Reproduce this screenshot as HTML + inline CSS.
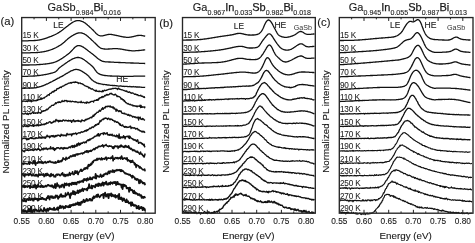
<!DOCTYPE html>
<html><head><meta charset="utf-8"><style>
html,body{margin:0;padding:0;background:#fff;width:475px;height:243px;overflow:hidden}
svg{display:block;font-family:"Liberation Sans", sans-serif;will-change:transform}
</style></head><body>
<svg width="475" height="243" viewBox="0 0 475 243"><rect width="475" height="243" fill="#fff"/><path d="M34.05,17.55v1.8M34.05,213.2v-1.8M46.40,17.55v3.4M46.40,213.2v-3.4M58.75,17.55v1.8M58.75,213.2v-1.8M71.10,17.55v3.4M71.10,213.2v-3.4M83.45,17.55v1.8M83.45,213.2v-1.8M95.80,17.55v3.4M95.80,213.2v-3.4M108.15,17.55v1.8M108.15,213.2v-1.8M120.50,17.55v3.4M120.50,213.2v-3.4M132.85,17.55v1.8M132.85,213.2v-1.8M145.20,17.55v3.4M145.20,213.2v-3.4" stroke="#222" stroke-width="1" fill="none"/><path d="M21.7,40.9L22.2,40.9L22.7,40.9L23.2,40.9L23.7,40.8L24.2,40.8L24.7,40.8L25.2,40.8L25.7,40.8L26.2,40.8L26.7,40.8L27.2,40.8L27.7,40.8L28.2,40.8L28.7,40.7L29.2,40.7L29.7,40.7L30.2,40.7L30.7,40.7L31.2,40.7L31.7,40.6L32.2,40.6L32.7,40.6L33.2,40.6L33.7,40.6L34.2,40.5L34.7,40.5L35.2,40.5L35.7,40.4L36.2,40.4L36.7,40.3L37.2,40.3L37.7,40.2L38.2,40.1L38.7,40.1L39.2,40.0L39.7,39.9L40.2,39.8L40.7,39.7L41.2,39.6L41.7,39.5L42.2,39.3L42.7,39.2L43.2,39.1L43.7,38.9L44.2,38.8L44.7,38.6L45.2,38.5L45.7,38.3L46.2,38.1L46.7,38.0L47.2,37.8L47.7,37.6L48.2,37.4L48.7,37.2L49.2,37.0L49.7,36.9L50.2,36.7L50.7,36.5L51.2,36.3L51.7,36.1L52.2,35.9L52.7,35.7L53.2,35.5L53.7,35.2L54.2,35.0L54.7,34.8L55.2,34.5L55.7,34.3L56.2,34.0L56.7,33.8L57.2,33.5L57.7,33.2L58.2,32.9L58.7,32.6L59.2,32.3L59.7,31.9L60.2,31.6L60.7,31.3L61.2,30.9L61.7,30.5L62.2,30.2L62.7,29.8L63.2,29.4L63.7,29.0L64.2,28.6L64.7,28.2L65.2,27.8L65.7,27.4L66.2,27.0L66.7,26.6L67.2,26.3L67.7,25.9L68.2,25.5L68.7,25.1L69.2,24.7L69.7,24.4L70.2,24.0L70.7,23.6L71.2,23.3L71.7,22.9L72.2,22.6L72.7,22.3L73.2,22.0L73.7,21.8L74.2,21.5L74.7,21.3L75.2,21.1L75.7,20.9L76.2,20.8L76.7,20.7L77.2,20.6L77.7,20.6L78.2,20.6L78.7,20.6L79.2,20.7L79.7,20.7L80.2,20.8L80.7,21.0L81.2,21.1L81.7,21.3L82.2,21.5L82.7,21.7L83.2,21.9L83.7,22.2L84.2,22.5L84.7,22.8L85.2,23.1L85.7,23.5L86.2,23.9L86.7,24.3L87.2,24.7L87.7,25.2L88.2,25.6L88.7,26.1L89.2,26.5L89.7,27.0L90.2,27.4L90.7,27.9L91.2,28.4L91.7,28.9L92.2,29.3L92.7,29.8L93.2,30.3L93.7,30.8L94.2,31.4L94.7,31.9L95.2,32.4L95.7,33.0L96.2,33.5L96.7,33.9L97.2,34.3L97.7,34.7L98.2,35.0L98.7,35.3L99.2,35.5L99.7,35.7L100.2,35.8L100.7,35.9L101.2,35.9L101.7,35.9L102.2,35.8L102.7,35.8L103.2,35.7L103.7,35.6L104.2,35.4L104.7,35.3L105.2,35.2L105.7,35.1L106.2,34.9L106.7,34.8L107.2,34.7L107.7,34.6L108.2,34.5L108.7,34.4L109.2,34.4L109.7,34.4L110.2,34.4L110.7,34.4L111.2,34.4L111.7,34.5L112.2,34.6L112.7,34.7L113.2,34.8L113.7,34.9L114.2,35.0L114.7,35.1L115.2,35.2L115.7,35.3L116.2,35.4L116.7,35.5L117.2,35.6L117.7,35.7L118.2,35.8L118.7,35.9L119.2,36.1L119.7,36.2L120.2,36.3L120.7,36.4L121.2,36.5L121.7,36.6L122.2,36.7L122.7,36.8L123.2,36.9L123.7,37.0L124.2,37.0L124.7,37.1L125.2,37.2L125.7,37.2L126.2,37.3L126.7,37.3L127.2,37.3L127.7,37.4L128.2,37.3L128.7,37.3L129.2,37.3L129.7,37.2L130.2,37.2L130.7,37.1L131.2,37.0L131.7,36.9L132.2,36.8L132.7,36.7L133.2,36.6L133.7,36.5L134.2,36.3L134.7,36.2L135.2,36.1L135.7,36.0L136.2,35.8L136.7,35.7L137.2,35.6L137.7,35.5L138.2,35.5L138.7,35.4L139.2,35.4L139.7,35.4L140.2,35.4L140.7,35.4L141.2,35.4L141.7,35.5L142.2,35.6L142.7,35.7L143.2,35.8L143.7,35.9L144.2,36.0L144.7,36.1L145.2,36.2" stroke="#111" stroke-width="1.3" fill="none" stroke-linejoin="round"/><path d="M21.7,52.8L22.2,52.8L22.7,52.8L23.2,52.8L23.7,52.8L24.2,52.8L24.7,52.8L25.2,52.8L25.7,52.8L26.2,52.8L26.7,52.8L27.2,52.8L27.7,52.8L28.2,52.8L28.7,52.8L29.2,52.8L29.7,52.8L30.2,52.8L30.7,52.7L31.2,52.7L31.7,52.7L32.2,52.7L32.7,52.7L33.2,52.7L33.7,52.7L34.2,52.7L34.7,52.6L35.2,52.6L35.7,52.6L36.2,52.6L36.7,52.5L37.2,52.5L37.7,52.5L38.2,52.4L38.7,52.4L39.2,52.3L39.7,52.3L40.2,52.2L40.7,52.1L41.2,52.1L41.7,52.0L42.2,51.9L42.7,51.8L43.2,51.8L43.7,51.7L44.2,51.6L44.7,51.5L45.2,51.4L45.7,51.3L46.2,51.2L46.7,51.0L47.2,50.9L47.7,50.8L48.2,50.6L48.7,50.5L49.2,50.3L49.7,50.2L50.2,50.0L50.7,49.8L51.2,49.7L51.7,49.5L52.2,49.3L52.7,49.1L53.2,48.9L53.7,48.7L54.2,48.5L54.7,48.2L55.2,48.0L55.7,47.8L56.2,47.5L56.7,47.2L57.2,47.0L57.7,46.7L58.2,46.4L58.7,46.1L59.2,45.8L59.7,45.5L60.2,45.2L60.7,44.9L61.2,44.6L61.7,44.2L62.2,43.8L62.7,43.4L63.2,43.0L63.7,42.6L64.2,42.2L64.7,41.7L65.2,41.2L65.7,40.8L66.2,40.3L66.7,39.9L67.2,39.4L67.7,39.0L68.2,38.6L68.7,38.2L69.2,37.8L69.7,37.4L70.2,37.1L70.7,36.7L71.2,36.4L71.7,36.1L72.2,35.8L72.7,35.5L73.2,35.2L73.7,34.9L74.2,34.6L74.7,34.4L75.2,34.1L75.7,33.9L76.2,33.6L76.7,33.4L77.2,33.3L77.7,33.1L78.2,33.0L78.7,32.9L79.2,32.8L79.7,32.8L80.2,32.8L80.7,32.8L81.2,32.9L81.7,33.0L82.2,33.1L82.7,33.3L83.2,33.5L83.7,33.7L84.2,33.9L84.7,34.2L85.2,34.5L85.7,34.8L86.2,35.1L86.7,35.5L87.2,35.9L87.7,36.3L88.2,36.7L88.7,37.2L89.2,37.6L89.7,38.1L90.2,38.6L90.7,39.0L91.2,39.5L91.7,40.0L92.2,40.4L92.7,40.9L93.2,41.4L93.7,41.9L94.2,42.4L94.7,42.8L95.2,43.3L95.7,43.8L96.2,44.3L96.7,44.8L97.2,45.3L97.7,45.8L98.2,46.3L98.7,46.7L99.2,47.1L99.7,47.5L100.2,47.8L100.7,48.1L101.2,48.3L101.7,48.5L102.2,48.6L102.7,48.7L103.2,48.8L103.7,48.9L104.2,49.0L104.7,49.0L105.2,49.1L105.7,49.1L106.2,49.1L106.7,49.1L107.2,49.1L107.7,49.1L108.2,49.0L108.7,49.0L109.2,49.0L109.7,48.9L110.2,48.9L110.7,48.9L111.2,48.8L111.7,48.8L112.2,48.8L112.7,48.7L113.2,48.7L113.7,48.7L114.2,48.7L114.7,48.7L115.2,48.7L115.7,48.7L116.2,48.7L116.7,48.7L117.2,48.7L117.7,48.7L118.2,48.8L118.7,48.8L119.2,48.9L119.7,48.9L120.2,49.0L120.7,49.1L121.2,49.2L121.7,49.2L122.2,49.3L122.7,49.4L123.2,49.5L123.7,49.6L124.2,49.7L124.7,49.8L125.2,49.9L125.7,50.0L126.2,50.1L126.7,50.1L127.2,50.2L127.7,50.3L128.2,50.4L128.7,50.5L129.2,50.5L129.7,50.6L130.2,50.6L130.7,50.7L131.2,50.7L131.7,50.8L132.2,50.8L132.7,50.8L133.2,50.8L133.7,50.8L134.2,50.8L134.7,50.8L135.2,50.8L135.7,50.7L136.2,50.7L136.7,50.7L137.2,50.6L137.7,50.6L138.2,50.6L138.7,50.5L139.2,50.5L139.7,50.4L140.2,50.4L140.7,50.3L141.2,50.3L141.7,50.2L142.2,50.1L142.7,50.1L143.2,50.0L143.7,50.0L144.2,49.9L144.7,49.9L145.2,49.9" stroke="#111" stroke-width="1.3" fill="none" stroke-linejoin="round"/><path d="M21.7,65.0L22.2,65.0L22.7,65.0L23.2,65.0L23.7,65.0L24.2,65.0L24.7,65.0L25.2,65.0L25.7,65.0L26.2,65.0L26.7,65.0L27.2,65.0L27.7,65.0L28.2,65.0L28.7,65.0L29.2,65.0L29.7,64.9L30.2,64.9L30.7,64.9L31.2,64.9L31.7,64.9L32.2,64.9L32.7,64.9L33.2,64.9L33.7,64.9L34.2,64.8L34.7,64.8L35.2,64.8L35.7,64.8L36.2,64.8L36.7,64.7L37.2,64.7L37.7,64.7L38.2,64.6L38.7,64.6L39.2,64.5L39.7,64.5L40.2,64.5L40.7,64.4L41.2,64.4L41.7,64.3L42.2,64.3L42.7,64.3L43.2,64.2L43.7,64.2L44.2,64.1L44.7,64.1L45.2,64.0L45.7,64.0L46.2,63.9L46.7,63.9L47.2,63.8L47.7,63.7L48.2,63.7L48.7,63.6L49.2,63.5L49.7,63.4L50.2,63.3L50.7,63.2L51.2,63.1L51.7,63.0L52.2,62.9L52.7,62.8L53.2,62.6L53.7,62.5L54.2,62.3L54.7,62.2L55.2,62.0L55.7,61.8L56.2,61.6L56.7,61.4L57.2,61.1L57.7,60.9L58.2,60.6L58.7,60.4L59.2,60.1L59.7,59.8L60.2,59.5L60.7,59.2L61.2,58.9L61.7,58.6L62.2,58.3L62.7,57.9L63.2,57.6L63.7,57.2L64.2,56.9L64.7,56.5L65.2,56.2L65.7,55.8L66.2,55.5L66.7,55.1L67.2,54.7L67.7,54.4L68.2,54.0L68.7,53.6L69.2,53.2L69.7,52.7L70.2,52.3L70.7,51.8L71.2,51.3L71.7,50.7L72.2,50.2L72.7,49.6L73.2,49.1L73.7,48.5L74.2,48.0L74.7,47.5L75.2,47.1L75.7,46.7L76.2,46.4L76.7,46.1L77.2,45.9L77.7,45.7L78.2,45.6L78.7,45.6L79.2,45.6L79.7,45.6L80.2,45.8L80.7,45.9L81.2,46.1L81.7,46.3L82.2,46.6L82.7,46.8L83.2,47.1L83.7,47.4L84.2,47.8L84.7,48.1L85.2,48.5L85.7,48.9L86.2,49.2L86.7,49.6L87.2,50.0L87.7,50.4L88.2,50.8L88.7,51.2L89.2,51.5L89.7,51.9L90.2,52.3L90.7,52.7L91.2,53.0L91.7,53.4L92.2,53.8L92.7,54.2L93.2,54.6L93.7,55.0L94.2,55.4L94.7,55.8L95.2,56.3L95.7,56.7L96.2,57.1L96.7,57.5L97.2,58.0L97.7,58.4L98.2,58.8L98.7,59.1L99.2,59.5L99.7,59.8L100.2,60.1L100.7,60.4L101.2,60.6L101.7,60.9L102.2,61.1L102.7,61.3L103.2,61.4L103.7,61.5L104.2,61.7L104.7,61.7L105.2,61.8L105.7,61.8L106.2,61.9L106.7,61.9L107.2,61.9L107.7,61.9L108.2,61.9L108.7,62.0L109.2,62.0L109.7,62.0L110.2,62.0L110.7,62.1L111.2,62.1L111.7,62.1L112.2,62.1L112.7,62.2L113.2,62.2L113.7,62.2L114.2,62.3L114.7,62.3L115.2,62.3L115.7,62.3L116.2,62.4L116.7,62.4L117.2,62.4L117.7,62.4L118.2,62.4L118.7,62.5L119.2,62.5L119.7,62.5L120.2,62.5L120.7,62.6L121.2,62.6L121.7,62.6L122.2,62.6L122.7,62.6L123.2,62.7L123.7,62.7L124.2,62.7L124.7,62.7L125.2,62.7L125.7,62.8L126.2,62.8L126.7,62.8L127.2,62.8L127.7,62.8L128.2,62.9L128.7,62.9L129.2,62.9L129.7,62.9L130.2,62.9L130.7,63.0L131.2,63.0L131.7,63.0L132.2,63.0L132.7,63.0L133.2,63.0L133.7,63.1L134.2,63.1L134.7,63.1L135.2,63.1L135.7,63.1L136.2,63.2L136.7,63.2L137.2,63.2L137.7,63.2L138.2,63.2L138.7,63.2L139.2,63.3L139.7,63.3L140.2,63.3L140.7,63.3L141.2,63.3L141.7,63.4L142.2,63.4L142.7,63.4L143.2,63.4L143.7,63.4L144.2,63.4L144.7,63.5L145.2,63.5" stroke="#111" stroke-width="1.3" fill="none" stroke-linejoin="round"/><path d="M21.7,76.4L22.2,76.4L22.7,76.4L23.2,76.4L23.7,76.3L24.2,76.3L24.7,76.3L25.2,76.3L25.7,76.3L26.2,76.3L26.7,76.3L27.2,76.3L27.7,76.3L28.2,76.2L28.7,76.2L29.2,76.2L29.7,76.2L30.2,76.2L30.7,76.2L31.2,76.1L31.7,76.1L32.2,76.1L32.7,76.1L33.2,76.0L33.7,76.0L34.2,76.0L34.7,76.0L35.2,75.9L35.7,75.9L36.2,75.8L36.7,75.8L37.2,75.7L37.7,75.7L38.2,75.6L38.7,75.6L39.2,75.5L39.7,75.4L40.2,75.4L40.7,75.3L41.2,75.2L41.7,75.1L42.2,75.1L42.7,75.0L43.2,74.9L43.7,74.8L44.2,74.7L44.7,74.6L45.2,74.6L45.7,74.5L46.2,74.4L46.7,74.3L47.2,74.2L47.7,74.1L48.2,74.0L48.7,73.8L49.2,73.7L49.7,73.6L50.2,73.5L50.7,73.4L51.2,73.2L51.7,73.1L52.2,73.0L52.7,72.8L53.2,72.7L53.7,72.5L54.2,72.3L54.7,72.1L55.2,71.9L55.7,71.6L56.2,71.2L56.7,70.8L57.2,70.2L57.7,69.7L58.2,69.1L58.7,68.5L59.2,68.1L59.7,67.6L60.2,67.2L60.7,66.8L61.2,66.5L61.7,66.1L62.2,65.7L62.7,65.4L63.2,65.0L63.7,64.7L64.2,64.3L64.7,63.9L65.2,63.6L65.7,63.2L66.2,62.9L66.7,62.5L67.2,62.2L67.7,61.8L68.2,61.5L68.7,61.2L69.2,60.9L69.7,60.6L70.2,60.3L70.7,60.0L71.2,59.7L71.7,59.4L72.2,59.2L72.7,58.9L73.2,58.7L73.7,58.5L74.2,58.3L74.7,58.1L75.2,57.9L75.7,57.8L76.2,57.7L76.7,57.6L77.2,57.5L77.7,57.5L78.2,57.5L78.7,57.5L79.2,57.6L79.7,57.7L80.2,57.8L80.7,58.0L81.2,58.2L81.7,58.4L82.2,58.6L82.7,58.9L83.2,59.2L83.7,59.5L84.2,59.8L84.7,60.2L85.2,60.5L85.7,60.9L86.2,61.3L86.7,61.7L87.2,62.1L87.7,62.5L88.2,62.9L88.7,63.3L89.2,63.7L89.7,64.1L90.2,64.5L90.7,64.9L91.2,65.3L91.7,65.7L92.2,66.2L92.7,66.7L93.2,67.2L93.7,67.8L94.2,68.5L94.7,69.3L95.2,70.0L95.7,70.7L96.2,71.4L96.7,72.0L97.2,72.5L97.7,72.9L98.2,73.3L98.7,73.6L99.2,73.9L99.7,74.2L100.2,74.4L100.7,74.6L101.2,74.7L101.7,74.9L102.2,75.0L102.7,75.1L103.2,75.2L103.7,75.3L104.2,75.4L104.7,75.5L105.2,75.5L105.7,75.6L106.2,75.6L106.7,75.7L107.2,75.7L107.7,75.8L108.2,75.8L108.7,75.9L109.2,75.9L109.7,75.9L110.2,76.0L110.7,76.0L111.2,76.0L111.7,76.0L112.2,76.1L112.7,76.1L113.2,76.1L113.7,76.1L114.2,76.1L114.7,76.1L115.2,76.2L115.7,76.2L116.2,76.2L116.7,76.2L117.2,76.2L117.7,76.2L118.2,76.2L118.7,76.2L119.2,76.2L119.7,76.3L120.2,76.3L120.7,76.3L121.2,76.3L121.7,76.3L122.2,76.3L122.7,76.3L123.2,76.3L123.7,76.3L124.2,76.3L124.7,76.3L125.2,76.3L125.7,76.3L126.2,76.3L126.7,76.3L127.2,76.3L127.7,76.3L128.2,76.3L128.7,76.3L129.2,76.3L129.7,76.3L130.2,76.3L130.7,76.3L131.2,76.3L131.7,76.3L132.2,76.3L132.7,76.3L133.2,76.3L133.7,76.2L134.2,76.2L134.7,76.2L135.2,76.2L135.7,76.2L136.2,76.2L136.7,76.2L137.2,76.2L137.7,76.2L138.2,76.2L138.7,76.2L139.2,76.2L139.7,76.2L140.2,76.2L140.7,76.2L141.2,76.2L141.7,76.2L142.2,76.2L142.7,76.2L143.2,76.2L143.7,76.2L144.2,76.2L144.7,76.2L145.2,76.2" stroke="#111" stroke-width="1.3" fill="none" stroke-linejoin="round"/><path d="M21.7,88.3L22.2,88.3L22.7,88.2L23.2,88.2L23.7,88.3L24.2,88.3L24.7,88.1L25.2,88.3L25.7,88.0L26.2,88.0L26.7,88.2L27.2,88.2L27.7,88.2L28.2,88.2L28.7,88.2L29.2,88.3L29.7,88.1L30.2,88.1L30.7,88.0L31.2,88.0L31.7,88.0L32.2,88.0L32.7,88.0L33.2,88.1L33.7,87.9L34.2,87.8L34.7,87.6L35.2,87.8L35.7,87.8L36.2,87.6L36.7,87.6L37.2,87.4L37.7,87.2L38.2,87.2L38.7,87.0L39.2,87.0L39.7,86.7L40.2,86.5L40.7,86.7L41.2,86.5L41.7,86.1L42.2,86.0L42.7,85.9L43.2,85.6L43.7,85.5L44.2,85.4L44.7,84.9L45.2,84.9L45.7,84.6L46.2,84.3L46.7,84.0L47.2,84.0L47.7,83.8L48.2,83.4L48.7,83.3L49.2,82.9L49.7,82.7L50.2,82.4L50.7,82.3L51.2,81.8L51.7,81.8L52.2,81.5L52.7,81.1L53.2,80.9L53.7,80.6L54.2,80.3L54.7,80.3L55.2,79.8L55.7,79.5L56.2,79.4L56.7,79.2L57.2,78.5L57.7,78.5L58.2,78.2L58.7,78.2L59.2,77.7L59.7,77.4L60.2,77.2L60.7,77.0L61.2,76.5L61.7,76.5L62.2,76.3L62.7,75.8L63.2,75.6L63.7,75.4L64.2,74.8L64.7,74.7L65.2,74.2L65.7,74.1L66.2,73.6L66.7,73.3L67.2,73.3L67.7,72.9L68.2,72.5L68.7,72.2L69.2,72.0L69.7,71.9L70.2,71.4L70.7,71.1L71.2,70.8L71.7,70.7L72.2,70.6L72.7,70.4L73.2,70.1L73.7,69.9L74.2,69.7L74.7,69.7L75.2,69.5L75.7,69.4L76.2,69.4L76.7,69.3L77.2,69.6L77.7,69.6L78.2,69.6L78.7,69.8L79.2,70.0L79.7,70.1L80.2,70.3L80.7,70.7L81.2,70.8L81.7,71.2L82.2,71.4L82.7,71.9L83.2,72.1L83.7,72.3L84.2,72.7L84.7,73.1L85.2,73.4L85.7,73.7L86.2,74.1L86.7,74.5L87.2,74.9L87.7,75.2L88.2,75.7L88.7,76.1L89.2,77.0L89.7,77.3L90.2,78.0L90.7,78.5L91.2,79.2L91.7,79.8L92.2,79.9L92.7,80.4L93.2,80.9L93.7,81.2L94.2,81.6L94.7,81.9L95.2,81.9L95.7,82.4L96.2,82.6L96.7,83.0L97.2,83.1L97.7,83.2L98.2,83.5L98.7,83.4L99.2,83.6L99.7,83.6L100.2,83.9L100.7,83.8L101.2,84.0L101.7,84.2L102.2,84.2L102.7,84.3L103.2,84.6L103.7,84.5L104.2,84.3L104.7,84.5L105.2,84.7L105.7,84.7L106.2,84.9L106.7,84.7L107.2,84.8L107.7,85.1L108.2,85.1L108.7,85.0L109.2,85.1L109.7,85.2L110.2,85.3L110.7,85.3L111.2,85.3L111.7,85.3L112.2,85.5L112.7,85.4L113.2,85.7L113.7,85.5L114.2,85.6L114.7,85.5L115.2,85.6L115.7,85.6L116.2,85.6L116.7,85.9L117.2,85.8L117.7,85.9L118.2,86.1L118.7,86.2L119.2,86.2L119.7,86.0L120.2,86.0L120.7,85.8L121.2,86.1L121.7,86.2L122.2,86.4L122.7,86.4L123.2,86.2L123.7,86.3L124.2,86.5L124.7,86.4L125.2,86.4L125.7,86.4L126.2,86.4L126.7,86.3L127.2,86.4L127.7,86.7L128.2,86.6L128.7,86.7L129.2,86.5L129.7,86.6L130.2,86.5L130.7,86.8L131.2,86.8L131.7,86.6L132.2,86.8L132.7,86.8L133.2,86.4L133.7,86.8L134.2,86.9L134.7,86.8L135.2,86.7L135.7,86.9L136.2,87.0L136.7,86.9L137.2,87.0L137.7,87.0L138.2,87.0L138.7,87.1L139.2,87.0L139.7,87.0L140.2,87.2L140.7,87.2L141.2,87.1L141.7,87.3L142.2,87.3L142.7,87.3L143.2,87.3L143.7,87.3L144.2,87.3L144.7,87.3L145.2,87.4" stroke="#111" stroke-width="1.3" fill="none" stroke-linejoin="round"/><path d="M21.7,101.4L22.2,101.1L22.7,101.5L23.2,101.2L23.7,100.9L24.2,101.2L24.7,101.2L25.2,101.5L25.7,101.2L26.2,101.0L26.7,101.4L27.2,100.7L27.7,101.6L28.2,100.9L28.7,100.5L29.2,101.1L29.7,101.0L30.2,101.0L30.7,100.2L31.2,101.9L31.7,100.7L32.2,100.8L32.7,101.2L33.2,100.9L33.7,100.5L34.2,100.5L34.7,100.8L35.2,100.9L35.7,100.3L36.2,100.4L36.7,100.7L37.2,99.6L37.7,100.3L38.2,99.9L38.7,99.5L39.2,99.3L39.7,99.6L40.2,99.4L40.7,99.0L41.2,98.0L41.7,98.5L42.2,98.8L42.7,98.3L43.2,98.1L43.7,97.8L44.2,98.1L44.7,97.3L45.2,97.0L45.7,96.8L46.2,96.4L46.7,96.4L47.2,95.4L47.7,95.1L48.2,95.0L48.7,94.6L49.2,95.2L49.7,93.7L50.2,93.3L50.7,93.4L51.2,93.3L51.7,92.3L52.2,91.9L52.7,92.1L53.2,91.2L53.7,92.0L54.2,91.4L54.7,90.4L55.2,90.5L55.7,90.5L56.2,90.4L56.7,89.2L57.2,88.5L57.7,88.8L58.2,88.4L58.7,88.6L59.2,88.0L59.7,87.3L60.2,87.3L60.7,86.9L61.2,87.6L61.7,86.7L62.2,86.4L62.7,86.1L63.2,86.2L63.7,86.0L64.2,85.4L64.7,85.2L65.2,85.0L65.7,84.5L66.2,84.6L66.7,84.2L67.2,84.1L67.7,83.7L68.2,83.4L68.7,83.2L69.2,83.2L69.7,83.1L70.2,82.7L70.7,82.5L71.2,83.3L71.7,82.5L72.2,82.6L72.7,82.4L73.2,82.4L73.7,82.2L74.2,82.2L74.7,82.6L75.2,81.7L75.7,82.4L76.2,82.1L76.7,82.3L77.2,82.3L77.7,82.3L78.2,83.6L78.7,83.0L79.2,83.1L79.7,83.1L80.2,83.0L80.7,83.6L81.2,83.6L81.7,83.6L82.2,84.1L82.7,84.0L83.2,84.7L83.7,84.7L84.2,85.3L84.7,85.6L85.2,85.8L85.7,85.8L86.2,86.4L86.7,86.5L87.2,86.3L87.7,86.9L88.2,86.8L88.7,88.0L89.2,87.9L89.7,87.5L90.2,88.3L90.7,88.5L91.2,89.2L91.7,89.1L92.2,88.6L92.7,89.1L93.2,89.7L93.7,89.9L94.2,90.4L94.7,90.5L95.2,90.4L95.7,91.2L96.2,90.1L96.7,91.2L97.2,91.3L97.7,91.2L98.2,91.6L98.7,91.4L99.2,90.9L99.7,91.6L100.2,91.3L100.7,91.5L101.2,91.3L101.7,91.8L102.2,91.8L102.7,90.5L103.2,91.7L103.7,91.1L104.2,90.4L104.7,90.1L105.2,90.6L105.7,90.6L106.2,90.2L106.7,90.4L107.2,89.8L107.7,89.9L108.2,89.3L108.7,89.5L109.2,89.2L109.7,89.2L110.2,89.3L110.7,88.9L111.2,89.2L111.7,88.9L112.2,88.6L112.7,88.4L113.2,88.6L113.7,88.5L114.2,88.4L114.7,88.3L115.2,88.3L115.7,88.2L116.2,88.7L116.7,88.5L117.2,89.1L117.7,89.5L118.2,88.1L118.7,88.2L119.2,88.9L119.7,89.4L120.2,89.1L120.7,89.6L121.2,89.7L121.7,89.9L122.2,89.9L122.7,89.9L123.2,90.3L123.7,90.5L124.2,90.5L124.7,90.9L125.2,90.8L125.7,91.4L126.2,91.1L126.7,90.9L127.2,91.9L127.7,91.9L128.2,92.3L128.7,92.3L129.2,91.7L129.7,92.0L130.2,92.7L130.7,92.6L131.2,93.3L131.7,93.2L132.2,92.9L132.7,93.0L133.2,93.2L133.7,93.3L134.2,94.0L134.7,94.4L135.2,94.3L135.7,93.9L136.2,94.6L136.7,94.8L137.2,94.6L137.7,94.7L138.2,95.6L138.7,95.5L139.2,95.6L139.7,95.7L140.2,95.8L140.7,95.1L141.2,95.9L141.7,96.4L142.2,96.1L142.7,96.1L143.2,97.0L143.7,97.3L144.2,96.7L144.7,97.5L145.2,97.4" stroke="#111" stroke-width="1.3" fill="none" stroke-linejoin="round"/><path d="M22.1,113.9L22.6,113.6L23.1,113.8L23.6,114.0L24.1,114.0L24.6,113.8L25.1,113.3L25.6,112.9L26.1,114.0L26.6,114.0L27.1,114.0L27.6,113.2L28.1,114.6L28.6,114.3L29.1,113.6L29.6,113.2L30.1,113.1L30.6,114.0L31.1,113.5L31.6,113.3L32.1,112.7L32.6,112.5L33.1,112.4L33.6,113.4L34.1,113.0L34.6,113.0L35.1,112.7L35.6,113.3L36.1,112.9L36.6,113.0L37.1,112.8L37.6,113.3L38.1,112.1L38.6,112.8L39.1,112.8L39.6,112.9L40.1,112.6L40.6,113.3L41.1,112.8L41.6,111.5L42.1,111.6L42.6,111.5L43.1,110.6L43.6,111.2L44.1,110.6L44.6,110.9L45.1,110.5L45.6,110.6L46.1,109.9L46.6,109.2L47.1,109.9L47.6,109.0L48.1,109.2L48.6,108.2L49.1,107.8L49.6,107.0L50.1,107.2L50.6,106.9L51.1,106.2L51.6,105.4L52.1,105.4L52.6,105.3L53.1,105.1L53.6,105.4L54.1,104.5L54.6,104.1L55.1,103.9L55.6,102.7L56.1,103.7L56.6,103.0L57.1,102.6L57.6,102.4L58.1,101.9L58.6,102.6L59.1,101.7L59.6,102.4L60.1,102.2L60.6,102.5L61.1,101.8L61.6,101.7L62.1,100.4L62.6,101.6L63.1,101.3L63.6,101.1L64.1,101.6L64.6,100.5L65.1,100.4L65.6,100.8L66.1,100.8L66.6,100.4L67.1,101.8L67.6,101.0L68.1,101.4L68.6,101.2L69.1,101.4L69.6,101.5L70.1,100.9L70.6,101.5L71.1,101.9L71.6,101.6L72.1,101.1L72.6,101.3L73.1,101.6L73.6,101.6L74.1,101.6L74.6,101.8L75.1,102.1L75.6,101.5L76.1,101.7L76.6,102.0L77.1,102.0L77.6,102.3L78.1,102.7L78.6,102.1L79.1,102.1L79.6,102.2L80.1,102.4L80.6,102.6L81.1,101.2L81.6,102.5L82.1,102.4L82.6,102.7L83.1,102.5L83.6,102.2L84.1,102.5L84.6,103.0L85.1,103.2L85.6,102.6L86.1,102.1L86.6,103.3L87.1,101.8L87.6,102.5L88.1,102.3L88.6,102.9L89.1,102.5L89.6,102.7L90.1,101.9L90.6,102.1L91.1,101.5L91.6,101.4L92.1,101.4L92.6,101.3L93.1,101.2L93.6,102.1L94.1,100.7L94.6,100.4L95.1,100.3L95.6,100.5L96.1,100.3L96.6,99.6L97.1,100.3L97.6,99.4L98.1,100.4L98.6,98.8L99.1,98.1L99.6,98.8L100.1,97.6L100.6,97.6L101.1,97.6L101.6,96.7L102.1,97.6L102.6,96.5L103.1,96.6L103.6,97.1L104.1,96.5L104.6,95.5L105.1,95.5L105.6,95.9L106.1,95.0L106.6,94.4L107.1,95.1L107.6,94.5L108.1,95.1L108.6,94.6L109.1,94.7L109.6,93.9L110.1,93.3L110.6,93.7L111.1,94.0L111.6,93.3L112.1,93.9L112.6,94.4L113.1,94.7L113.6,94.8L114.1,95.1L114.6,94.8L115.1,94.2L115.6,94.4L116.1,95.0L116.6,95.8L117.1,96.7L117.6,95.9L118.1,96.4L118.6,96.6L119.1,96.6L119.6,96.8L120.1,97.3L120.6,97.5L121.1,99.2L121.6,98.9L122.1,98.7L122.6,99.9L123.1,99.7L123.6,99.6L124.1,101.3L124.6,100.7L125.1,101.6L125.6,102.6L126.1,102.7L126.6,102.8L127.1,103.7L127.6,103.8L128.1,103.5L128.6,104.0L129.1,104.4L129.6,104.7L130.1,104.1L130.6,104.6L131.1,105.2L131.6,105.0L132.1,104.9L132.6,105.2L133.1,106.1L133.6,105.5L134.1,105.6L134.6,106.0L135.1,105.9L135.6,106.0L136.1,106.4L136.6,105.9L137.1,106.9L137.6,106.1L138.1,106.0L138.6,106.2L139.1,106.4L139.6,106.2L140.1,105.1L140.6,107.6L141.1,105.5L141.6,107.3L142.1,107.3L142.6,106.8L143.1,107.2L143.6,107.2L144.1,106.7L144.6,107.8L145.1,106.5" stroke="#111" stroke-width="1.3" fill="none" stroke-linejoin="round"/><path d="M22.1,126.3L22.6,125.9L23.1,126.6L23.6,126.5L24.1,125.9L24.6,125.1L25.1,126.2L25.6,126.1L26.1,126.6L26.6,125.7L27.1,125.6L27.6,126.6L28.1,125.8L28.6,126.5L29.1,126.1L29.6,125.7L30.1,125.4L30.6,125.6L31.1,125.6L31.6,125.9L32.1,125.7L32.6,126.0L33.1,124.6L33.6,126.4L34.1,125.5L34.6,125.9L35.1,125.2L35.6,125.3L36.1,125.8L36.6,125.7L37.1,124.3L37.6,125.5L38.1,124.9L38.6,125.9L39.1,125.5L39.6,125.0L40.1,124.8L40.6,125.4L41.1,125.1L41.6,124.6L42.1,124.6L42.6,124.7L43.1,124.1L43.6,124.1L44.1,124.7L44.6,124.3L45.1,123.6L45.6,124.1L46.1,124.1L46.6,122.7L47.1,123.3L47.6,123.2L48.1,123.0L48.6,122.6L49.1,122.1L49.6,121.7L50.1,121.8L50.6,121.9L51.1,123.2L51.6,122.7L52.1,123.0L52.6,122.2L53.1,122.4L53.6,121.2L54.1,121.6L54.6,121.2L55.1,121.9L55.6,120.4L56.1,119.4L56.6,120.7L57.1,120.7L57.6,120.3L58.1,121.2L58.6,121.9L59.1,120.3L59.6,121.1L60.1,121.4L60.6,120.5L61.1,120.7L61.6,121.2L62.1,121.4L62.6,120.5L63.1,119.9L63.6,120.0L64.1,120.5L64.6,120.9L65.1,120.5L65.6,120.3L66.1,120.7L66.6,120.4L67.1,120.6L67.6,120.7L68.1,121.3L68.6,120.2L69.1,120.7L69.6,120.9L70.1,121.1L70.6,120.4L71.1,120.7L71.6,122.4L72.1,121.4L72.6,120.5L73.1,120.5L73.6,119.7L74.1,121.6L74.6,121.6L75.1,120.8L75.6,121.5L76.1,121.1L76.6,120.7L77.1,120.9L77.6,120.5L78.1,121.4L78.6,120.4L79.1,120.9L79.6,121.3L80.1,121.0L80.6,121.9L81.1,121.8L81.6,120.2L82.1,120.0L82.6,120.5L83.1,120.8L83.6,120.6L84.1,120.6L84.6,121.1L85.1,119.6L85.6,120.1L86.1,119.1L86.6,119.8L87.1,119.4L87.6,119.0L88.1,118.5L88.6,118.9L89.1,118.6L89.6,117.8L90.1,117.8L90.6,117.5L91.1,117.2L91.6,117.9L92.1,116.8L92.6,116.9L93.1,115.2L93.6,116.3L94.1,115.7L94.6,114.3L95.1,114.5L95.6,113.8L96.1,113.4L96.6,113.0L97.1,112.2L97.6,112.3L98.1,112.4L98.6,111.7L99.1,110.8L99.6,110.3L100.1,111.3L100.6,110.9L101.1,110.0L101.6,108.9L102.1,109.0L102.6,107.7L103.1,109.4L103.6,108.4L104.1,108.0L104.6,107.4L105.1,108.0L105.6,106.5L106.1,106.7L106.6,106.5L107.1,106.8L107.6,106.2L108.1,106.5L108.6,106.2L109.1,106.4L109.6,106.8L110.1,105.9L110.6,106.9L111.1,107.2L111.6,106.9L112.1,107.2L112.6,107.9L113.1,106.8L113.6,107.8L114.1,108.9L114.6,108.0L115.1,109.3L115.6,109.3L116.1,111.3L116.6,109.1L117.1,109.8L117.6,110.7L118.1,110.8L118.6,111.6L119.1,110.6L119.6,110.9L120.1,111.5L120.6,111.1L121.1,110.9L121.6,112.8L122.1,113.2L122.6,113.2L123.1,113.2L123.6,113.5L124.1,113.8L124.6,113.1L125.1,113.9L125.6,114.1L126.1,114.2L126.6,114.1L127.1,114.6L127.6,115.2L128.1,115.4L128.6,114.4L129.1,114.9L129.6,115.8L130.1,115.4L130.6,115.2L131.1,115.8L131.6,115.8L132.1,116.4L132.6,117.1L133.1,116.4L133.6,116.7L134.1,116.6L134.6,117.2L135.1,116.9L135.6,116.9L136.1,117.8L136.6,117.4L137.1,117.7L137.6,118.0L138.1,116.9L138.6,120.0L139.1,117.7L139.6,118.0L140.1,117.0L140.6,118.7L141.1,119.4L141.6,119.0L142.1,119.6L142.6,118.4L143.1,118.9L143.6,119.1L144.1,119.9L144.6,120.1L145.1,120.2" stroke="#111" stroke-width="1.35" fill="none" stroke-linejoin="round"/><path d="M22.1,138.7L22.6,138.9L23.1,138.1L23.6,138.2L24.1,138.5L24.6,138.0L25.1,138.1L25.6,138.6L26.1,138.0L26.6,139.7L27.1,139.1L27.6,139.5L28.1,138.3L28.6,139.4L29.1,139.0L29.6,138.4L30.1,137.9L30.6,137.7L31.1,138.3L31.6,137.6L32.1,138.6L32.6,137.9L33.1,138.3L33.6,138.7L34.1,138.8L34.6,138.5L35.1,137.9L35.6,138.6L36.1,137.7L36.6,138.0L37.1,138.2L37.6,138.1L38.1,138.0L38.6,137.4L39.1,138.1L39.6,137.0L40.1,137.2L40.6,138.0L41.1,138.3L41.6,137.5L42.1,137.2L42.6,137.9L43.1,137.0L43.6,137.5L44.1,137.9L44.6,137.0L45.1,138.2L45.6,138.1L46.1,136.5L46.6,136.7L47.1,135.2L47.6,136.5L48.1,136.6L48.6,136.3L49.1,136.0L49.6,137.7L50.1,137.0L50.6,136.9L51.1,135.6L51.6,136.0L52.1,135.8L52.6,136.6L53.1,135.4L53.6,136.1L54.1,137.1L54.6,136.0L55.1,136.7L55.6,135.6L56.1,136.4L56.6,135.6L57.1,135.3L57.6,135.8L58.1,135.3L58.6,135.2L59.1,135.5L59.6,135.4L60.1,136.5L60.6,136.1L61.1,134.2L61.6,135.3L62.1,134.9L62.6,135.0L63.1,135.8L63.6,135.0L64.1,135.4L64.6,135.6L65.1,135.1L65.6,135.3L66.1,136.0L66.6,134.5L67.1,133.4L67.6,134.9L68.1,134.6L68.6,134.3L69.1,134.7L69.6,134.3L70.1,134.3L70.6,134.1L71.1,134.4L71.6,135.8L72.1,133.7L72.6,134.4L73.1,134.1L73.6,133.5L74.1,133.6L74.6,133.9L75.1,133.5L75.6,132.9L76.1,133.7L76.6,134.4L77.1,133.5L77.6,133.3L78.1,133.1L78.6,132.8L79.1,132.6L79.6,132.8L80.1,133.1L80.6,132.4L81.1,132.1L81.6,131.8L82.1,132.2L82.6,132.1L83.1,131.7L83.6,131.7L84.1,131.5L84.6,130.8L85.1,130.8L85.6,131.0L86.1,130.2L86.6,131.1L87.1,129.8L87.6,130.2L88.1,129.7L88.6,129.5L89.1,128.9L89.6,128.1L90.1,128.2L90.6,128.6L91.1,128.2L91.6,127.3L92.1,127.0L92.6,127.0L93.1,127.4L93.6,126.9L94.1,126.4L94.6,125.8L95.1,126.0L95.6,124.6L96.1,125.2L96.6,125.0L97.1,124.2L97.6,124.5L98.1,123.7L98.6,124.2L99.1,122.8L99.6,122.5L100.1,120.5L100.6,121.3L101.1,121.1L101.6,120.4L102.1,119.6L102.6,119.2L103.1,119.2L103.6,119.6L104.1,118.3L104.6,118.6L105.1,118.4L105.6,117.9L106.1,118.2L106.6,118.5L107.1,118.7L107.6,119.5L108.1,118.3L108.6,118.1L109.1,118.7L109.6,119.1L110.1,119.8L110.6,118.9L111.1,119.1L111.6,119.3L112.1,119.4L112.6,120.4L113.1,120.4L113.6,120.5L114.1,120.9L114.6,121.8L115.1,121.0L115.6,121.6L116.1,121.6L116.6,122.4L117.1,122.2L117.6,122.0L118.1,122.5L118.6,123.2L119.1,123.3L119.6,124.9L120.1,123.8L120.6,125.4L121.1,125.3L121.6,125.9L122.1,125.6L122.6,124.9L123.1,125.8L123.6,126.5L124.1,126.6L124.6,127.2L125.1,126.4L125.6,127.2L126.1,126.8L126.6,126.8L127.1,127.5L127.6,127.2L128.1,127.3L128.6,127.2L129.1,126.9L129.6,127.0L130.1,126.2L130.6,126.3L131.1,128.5L131.6,127.6L132.1,127.4L132.6,127.9L133.1,128.0L133.6,127.8L134.1,128.1L134.6,127.8L135.1,128.2L135.6,129.1L136.1,129.0L136.6,128.7L137.1,128.5L137.6,128.7L138.1,130.1L138.6,129.6L139.1,129.8L139.6,130.8L140.1,130.6L140.6,131.0L141.1,131.3L141.6,131.1L142.1,132.1L142.6,131.4L143.1,131.2L143.6,131.9L144.1,131.5L144.6,132.3L145.1,132.7" stroke="#111" stroke-width="1.4" fill="none" stroke-linejoin="round"/><path d="M22.1,149.9L22.6,150.3L23.1,151.2L23.6,151.4L24.1,151.2L24.6,151.8L25.1,150.1L25.6,149.9L26.1,149.9L26.6,150.2L27.1,150.2L27.6,149.6L28.1,150.5L28.6,150.5L29.1,150.2L29.6,150.0L30.1,150.3L30.6,149.6L31.1,149.8L31.6,149.8L32.1,150.2L32.6,149.7L33.1,149.8L33.6,150.5L34.1,150.2L34.6,149.3L35.1,149.6L35.6,148.9L36.1,149.5L36.6,150.1L37.1,149.8L37.6,149.2L38.1,148.4L38.6,149.3L39.1,149.0L39.6,150.0L40.1,150.6L40.6,149.9L41.1,149.9L41.6,149.0L42.1,149.1L42.6,148.7L43.1,149.9L43.6,148.1L44.1,148.1L44.6,149.1L45.1,148.6L45.6,148.9L46.1,147.9L46.6,148.1L47.1,149.4L47.6,149.5L48.1,148.9L48.6,148.8L49.1,148.4L49.6,148.6L50.1,149.0L50.6,146.8L51.1,148.4L51.6,148.5L52.1,148.9L52.6,148.0L53.1,147.5L53.6,149.5L54.1,148.5L54.6,150.4L55.1,148.7L55.6,149.5L56.1,148.6L56.6,147.9L57.1,147.7L57.6,148.1L58.1,147.7L58.6,147.7L59.1,148.2L59.6,148.8L60.1,148.8L60.6,148.1L61.1,147.6L61.6,147.9L62.1,148.6L62.6,148.1L63.1,149.3L63.6,147.9L64.1,147.6L64.6,148.5L65.1,147.8L65.6,148.4L66.1,148.5L66.6,148.0L67.1,147.9L67.6,148.4L68.1,148.1L68.6,147.5L69.1,147.0L69.6,146.9L70.1,147.6L70.6,147.7L71.1,146.3L71.6,146.2L72.1,145.6L72.6,147.4L73.1,145.8L73.6,146.7L74.1,147.4L74.6,145.2L75.1,146.5L75.6,146.3L76.1,146.3L76.6,144.5L77.1,143.8L77.6,145.7L78.1,144.4L78.6,143.0L79.1,144.7L79.6,145.1L80.1,143.4L80.6,144.3L81.1,143.0L81.6,143.2L82.1,143.1L82.6,143.2L83.1,142.2L83.6,142.3L84.1,142.3L84.6,142.9L85.1,142.1L85.6,141.9L86.1,142.7L86.6,141.4L87.1,140.6L87.6,140.2L88.1,139.8L88.6,140.7L89.1,140.1L89.6,139.2L90.1,140.0L90.6,139.0L91.1,138.9L91.6,138.8L92.1,138.3L92.6,138.0L93.1,138.1L93.6,137.6L94.1,137.1L94.6,136.3L95.1,136.6L95.6,136.1L96.1,136.0L96.6,135.8L97.1,134.8L97.6,135.8L98.1,133.7L98.6,133.7L99.1,136.1L99.6,135.5L100.1,135.0L100.6,133.8L101.1,133.6L101.6,133.6L102.1,133.5L102.6,133.7L103.1,133.1L103.6,134.5L104.1,132.8L104.6,133.0L105.1,133.5L105.6,133.9L106.1,133.4L106.6,133.5L107.1,132.7L107.6,134.8L108.1,134.4L108.6,134.9L109.1,134.6L109.6,135.2L110.1,134.3L110.6,134.6L111.1,135.4L111.6,134.9L112.1,134.2L112.6,135.3L113.1,136.0L113.6,135.7L114.1,135.2L114.6,135.5L115.1,136.3L115.6,136.4L116.1,136.8L116.6,135.1L117.1,135.7L117.6,135.8L118.1,137.5L118.6,138.1L119.1,134.0L119.6,137.9L120.1,138.4L120.6,136.9L121.1,137.5L121.6,137.0L122.1,137.8L122.6,136.9L123.1,137.5L123.6,135.8L124.1,137.6L124.6,136.7L125.1,138.7L125.6,136.7L126.1,136.6L126.6,136.4L127.1,136.6L127.6,136.2L128.1,136.3L128.6,137.8L129.1,135.9L129.6,138.4L130.1,136.4L130.6,137.9L131.1,138.0L131.6,138.4L132.1,138.8L132.6,138.8L133.1,139.7L133.6,139.3L134.1,140.2L134.6,139.9L135.1,139.7L135.6,140.2L136.1,141.0L136.6,141.4L137.1,140.1L137.6,139.8L138.1,141.8L138.6,143.2L139.1,142.3L139.6,142.6L140.1,142.8L140.6,142.4L141.1,143.2L141.6,143.0L142.1,144.3L142.6,143.8L143.1,144.7L143.6,145.4L144.1,144.2L144.6,146.8L145.1,146.1" stroke="#111" stroke-width="1.45" fill="none" stroke-linejoin="round"/><path d="M22.1,163.7L22.6,163.3L23.1,164.6L23.6,163.0L24.1,163.9L24.6,163.0L25.1,163.7L25.6,163.4L26.1,163.5L26.6,163.8L27.1,163.9L27.6,164.1L28.1,163.9L28.6,162.4L29.1,162.3L29.6,164.3L30.1,163.0L30.6,162.5L31.1,162.5L31.6,163.0L32.1,162.9L32.6,163.8L33.1,163.0L33.6,160.8L34.1,162.4L34.6,163.6L35.1,160.8L35.6,165.2L36.1,163.3L36.6,163.0L37.1,162.6L37.6,163.2L38.1,161.8L38.6,161.7L39.1,162.9L39.6,161.7L40.1,162.0L40.6,162.8L41.1,161.7L41.6,163.1L42.1,161.8L42.6,163.1L43.1,163.5L43.6,162.2L44.1,162.3L44.6,162.6L45.1,161.5L45.6,162.2L46.1,163.2L46.6,162.4L47.1,162.6L47.6,161.6L48.1,161.4L48.6,162.4L49.1,161.5L49.6,161.1L50.1,161.7L50.6,161.2L51.1,162.4L51.6,162.3L52.1,162.2L52.6,162.1L53.1,162.9L53.6,162.3L54.1,162.9L54.6,162.3L55.1,163.2L55.6,161.8L56.1,163.1L56.6,162.5L57.1,162.3L57.6,162.0L58.1,160.4L58.6,162.3L59.1,161.3L59.6,161.9L60.1,160.9L60.6,161.2L61.1,161.7L61.6,160.2L62.1,161.0L62.6,159.9L63.1,157.7L63.6,158.9L64.1,159.1L64.6,159.2L65.1,158.9L65.6,160.1L66.1,157.2L66.6,159.0L67.1,159.0L67.6,158.4L68.1,158.1L68.6,157.5L69.1,158.2L69.6,156.8L70.1,156.5L70.6,155.9L71.1,156.8L71.6,156.0L72.1,156.4L72.6,156.1L73.1,154.9L73.6,156.1L74.1,155.2L74.6,154.8L75.1,156.3L75.6,155.2L76.1,154.1L76.6,154.2L77.1,154.9L77.6,153.9L78.1,154.7L78.6,153.8L79.1,154.1L79.6,154.1L80.1,153.7L80.6,153.8L81.1,153.1L81.6,153.3L82.1,153.3L82.6,153.9L83.1,152.7L83.6,152.7L84.1,153.0L84.6,152.2L85.1,151.4L85.6,151.7L86.1,152.3L86.6,150.8L87.1,151.6L87.6,150.9L88.1,152.6L88.6,151.1L89.1,150.8L89.6,151.4L90.1,151.2L90.6,150.3L91.1,151.4L91.6,151.0L92.1,150.1L92.6,150.1L93.1,149.5L93.6,149.2L94.1,148.5L94.6,149.6L95.1,149.2L95.6,148.1L96.1,147.6L96.6,147.7L97.1,148.0L97.6,147.7L98.1,146.4L98.6,146.7L99.1,146.1L99.6,146.6L100.1,146.5L100.6,146.4L101.1,146.0L101.6,145.7L102.1,146.0L102.6,144.8L103.1,145.7L103.6,147.0L104.1,145.5L104.6,145.5L105.1,145.5L105.6,145.3L106.1,144.5L106.6,145.7L107.1,145.7L107.6,146.2L108.1,146.3L108.6,146.6L109.1,145.8L109.6,146.0L110.1,146.3L110.6,146.2L111.1,146.0L111.6,146.4L112.1,147.0L112.6,148.1L113.1,146.7L113.6,148.5L114.1,147.8L114.6,146.2L115.1,145.9L115.6,146.0L116.1,146.8L116.6,146.3L117.1,146.4L117.6,146.0L118.1,148.4L118.6,146.4L119.1,147.2L119.6,146.0L120.1,147.1L120.6,145.4L121.1,145.0L121.6,146.3L122.1,146.7L122.6,146.0L123.1,146.8L123.6,147.3L124.1,147.4L124.6,146.0L125.1,146.9L125.6,145.5L126.1,147.1L126.6,146.2L127.1,147.3L127.6,146.6L128.1,147.3L128.6,145.7L129.1,148.3L129.6,147.4L130.1,148.7L130.6,149.1L131.1,148.4L131.6,148.9L132.1,149.7L132.6,150.7L133.1,149.6L133.6,150.4L134.1,150.7L134.6,150.0L135.1,151.0L135.6,151.6L136.1,151.9L136.6,151.4L137.1,152.1L137.6,151.2L138.1,152.4L138.6,152.8L139.1,153.1L139.6,154.2L140.1,152.7L140.6,152.1L141.1,154.1L141.6,154.2L142.1,154.1L142.6,155.6L143.1,155.3L143.6,156.3L144.1,157.1L144.6,155.7L145.1,153.5" stroke="#111" stroke-width="1.5" fill="none" stroke-linejoin="round"/><path d="M22.1,175.2L22.6,173.8L23.1,175.5L23.6,175.1L24.1,174.9L24.6,176.7L25.1,174.6L25.6,174.9L26.1,175.0L26.6,174.7L27.1,174.6L27.6,174.3L28.1,174.9L28.6,175.5L29.1,174.0L29.6,174.8L30.1,173.9L30.6,173.8L31.1,174.4L31.6,175.7L32.1,175.8L32.6,175.1L33.1,174.6L33.6,174.9L34.1,175.8L34.6,175.4L35.1,175.7L35.6,174.7L36.1,175.9L36.6,174.5L37.1,175.6L37.6,175.6L38.1,176.8L38.6,174.2L39.1,174.0L39.6,175.1L40.1,174.2L40.6,175.1L41.1,174.4L41.6,174.4L42.1,175.0L42.6,175.1L43.1,174.9L43.6,173.9L44.1,176.6L44.6,176.0L45.1,175.5L45.6,173.8L46.1,175.8L46.6,173.8L47.1,173.4L47.6,175.2L48.1,174.3L48.6,174.7L49.1,175.8L49.6,175.8L50.1,176.6L50.6,174.3L51.1,173.7L51.6,175.9L52.1,175.5L52.6,174.7L53.1,174.4L53.6,175.1L54.1,176.9L54.6,176.1L55.1,176.4L55.6,176.8L56.1,174.5L56.6,174.5L57.1,174.2L57.6,175.2L58.1,174.4L58.6,174.2L59.1,174.5L59.6,175.4L60.1,175.6L60.6,175.5L61.1,174.5L61.6,173.5L62.1,174.5L62.6,172.8L63.1,174.9L63.6,175.9L64.1,175.0L64.6,174.3L65.1,176.5L65.6,174.8L66.1,175.6L66.6,175.6L67.1,174.3L67.6,175.1L68.1,175.6L68.6,174.9L69.1,174.0L69.6,172.6L70.1,175.3L70.6,174.2L71.1,173.7L71.6,173.5L72.1,173.2L72.6,171.7L73.1,174.4L73.6,173.8L74.1,174.4L74.6,173.2L75.1,170.8L75.6,173.3L76.1,171.6L76.6,172.8L77.1,171.1L77.6,173.7L78.1,174.5L78.6,172.2L79.1,172.1L79.6,171.3L80.1,171.1L80.6,169.7L81.1,169.3L81.6,171.2L82.1,171.3L82.6,170.0L83.1,170.1L83.6,169.8L84.1,168.4L84.6,169.2L85.1,167.7L85.6,169.0L86.1,168.5L86.6,167.4L87.1,167.1L87.6,168.7L88.1,165.3L88.6,164.6L89.1,166.2L89.6,165.3L90.1,164.3L90.6,165.3L91.1,163.4L91.6,164.5L92.1,162.9L92.6,161.5L93.1,162.6L93.6,160.8L94.1,160.4L94.6,160.2L95.1,160.4L95.6,160.1L96.1,160.4L96.6,159.1L97.1,158.4L97.6,160.0L98.1,159.3L98.6,158.9L99.1,158.4L99.6,158.6L100.1,159.1L100.6,159.6L101.1,159.2L101.6,157.9L102.1,159.8L102.6,158.9L103.1,158.6L103.6,158.9L104.1,158.5L104.6,159.2L105.1,158.4L105.6,157.5L106.1,157.2L106.6,159.9L107.1,158.6L107.6,158.3L108.1,157.9L108.6,158.0L109.1,158.3L109.6,158.3L110.1,158.2L110.6,158.6L111.1,157.3L111.6,158.2L112.1,157.8L112.6,155.9L113.1,160.8L113.6,158.4L114.1,159.2L114.6,159.1L115.1,157.8L115.6,157.8L116.1,157.6L116.6,158.3L117.1,157.9L117.6,157.6L118.1,158.8L118.6,158.0L119.1,158.2L119.6,158.0L120.1,157.4L120.6,158.9L121.1,157.5L121.6,156.0L122.1,157.7L122.6,159.3L123.1,158.4L123.6,158.7L124.1,158.0L124.6,158.3L125.1,158.1L125.6,158.6L126.1,159.3L126.6,158.1L127.1,157.8L127.6,160.9L128.1,159.8L128.6,160.0L129.1,160.5L129.6,161.3L130.1,160.6L130.6,162.4L131.1,160.7L131.6,162.2L132.1,161.6L132.6,160.4L133.1,162.3L133.6,162.5L134.1,162.6L134.6,164.8L135.1,163.4L135.6,164.5L136.1,167.4L136.6,164.7L137.1,165.6L137.6,165.4L138.1,165.8L138.6,165.9L139.1,167.3L139.6,168.0L140.1,166.7L140.6,167.9L141.1,167.8L141.6,168.4L142.1,169.2L142.6,169.6L143.1,169.9L143.6,169.5L144.1,169.6L144.6,169.0L145.1,171.4" stroke="#111" stroke-width="1.6" fill="none" stroke-linejoin="round"/><path d="M22.1,186.3L22.6,186.0L23.1,187.1L23.6,185.8L24.1,185.3L24.6,187.4L25.1,186.0L25.6,187.1L26.1,186.8L26.6,186.6L27.1,186.2L27.6,187.0L28.1,186.6L28.6,186.2L29.1,186.1L29.6,186.2L30.1,188.2L30.6,185.5L31.1,186.7L31.6,187.1L32.1,187.0L32.6,187.4L33.1,187.1L33.6,185.4L34.1,187.4L34.6,185.4L35.1,184.7L35.6,185.9L36.1,188.7L36.6,185.7L37.1,187.1L37.6,186.9L38.1,184.3L38.6,186.4L39.1,186.7L39.6,186.4L40.1,186.3L40.6,187.0L41.1,185.6L41.6,186.2L42.1,186.9L42.6,185.8L43.1,187.1L43.6,186.5L44.1,186.9L44.6,186.7L45.1,186.2L45.6,185.6L46.1,186.6L46.6,186.5L47.1,185.8L47.6,185.1L48.1,184.9L48.6,184.9L49.1,185.9L49.6,185.8L50.1,185.7L50.6,185.6L51.1,186.5L51.6,185.4L52.1,185.2L52.6,187.0L53.1,186.2L53.6,187.8L54.1,187.5L54.6,185.6L55.1,183.8L55.6,188.2L56.1,185.9L56.6,186.7L57.1,183.1L57.6,185.8L58.1,186.0L58.6,185.1L59.1,185.9L59.6,187.7L60.1,186.9L60.6,186.5L61.1,185.5L61.6,187.0L62.1,184.6L62.6,184.7L63.1,185.1L63.6,186.2L64.1,187.6L64.6,183.3L65.1,184.9L65.6,184.3L66.1,185.4L66.6,183.3L67.1,184.6L67.6,184.9L68.1,184.3L68.6,183.9L69.1,186.0L69.6,183.7L70.1,184.2L70.6,184.3L71.1,183.4L71.6,184.9L72.1,182.7L72.6,183.9L73.1,182.8L73.6,184.1L74.1,182.7L74.6,182.8L75.1,184.3L75.6,182.7L76.1,182.8L76.6,184.4L77.1,182.4L77.6,182.0L78.1,181.7L78.6,182.6L79.1,182.9L79.6,181.4L80.1,182.2L80.6,181.7L81.1,181.2L81.6,181.7L82.1,181.0L82.6,180.3L83.1,182.1L83.6,180.7L84.1,178.8L84.6,180.2L85.1,179.3L85.6,180.2L86.1,179.0L86.6,180.8L87.1,179.0L87.6,178.1L88.1,180.0L88.6,179.7L89.1,178.9L89.6,179.1L90.1,177.2L90.6,179.4L91.1,178.9L91.6,178.2L92.1,179.4L92.6,178.0L93.1,177.2L93.6,177.1L94.1,177.6L94.6,177.3L95.1,178.1L95.6,173.8L96.1,178.7L96.6,175.7L97.1,175.7L97.6,176.3L98.1,176.2L98.6,176.4L99.1,177.0L99.6,176.5L100.1,176.1L100.6,174.3L101.1,176.2L101.6,177.1L102.1,175.9L102.6,176.1L103.1,175.0L103.6,176.1L104.1,174.0L104.6,174.0L105.1,174.3L105.6,173.4L106.1,173.3L106.6,173.4L107.1,174.4L107.6,174.0L108.1,172.2L108.6,171.3L109.1,172.9L109.6,173.3L110.1,171.0L110.6,171.0L111.1,171.7L111.6,171.4L112.1,172.0L112.6,170.0L113.1,171.7L113.6,170.6L114.1,172.3L114.6,171.5L115.1,170.5L115.6,170.8L116.1,170.2L116.6,170.7L117.1,169.7L117.6,170.3L118.1,170.5L118.6,170.0L119.1,169.7L119.6,170.4L120.1,169.9L120.6,171.3L121.1,169.8L121.6,171.3L122.1,170.4L122.6,170.7L123.1,171.1L123.6,171.6L124.1,172.4L124.6,172.7L125.1,173.6L125.6,173.2L126.1,173.7L126.6,173.7L127.1,174.2L127.6,174.0L128.1,174.4L128.6,174.6L129.1,174.9L129.6,174.5L130.1,174.5L130.6,175.8L131.1,176.2L131.6,176.0L132.1,177.8L132.6,175.5L133.1,176.4L133.6,176.8L134.1,177.5L134.6,177.4L135.1,179.3L135.6,179.4L136.1,178.7L136.6,180.0L137.1,179.8L137.6,179.0L138.1,179.6L138.6,180.7L139.1,183.4L139.6,180.0L140.1,182.8L140.6,180.2L141.1,182.0L141.6,181.4L142.1,181.8L142.6,183.3L143.1,183.6L143.6,182.7L144.1,183.5L144.6,183.0L145.1,185.2" stroke="#111" stroke-width="1.7" fill="none" stroke-linejoin="round"/><path d="M22.1,199.9L22.6,199.9L23.1,201.3L23.6,200.7L24.1,200.8L24.6,198.8L25.1,201.4L25.6,201.3L26.1,201.5L26.6,199.6L27.1,199.5L27.6,198.9L28.1,199.9L28.6,200.1L29.1,199.2L29.6,197.9L30.1,200.1L30.6,199.9L31.1,199.7L31.6,198.6L32.1,199.7L32.6,199.0L33.1,200.7L33.6,200.7L34.1,198.5L34.6,199.0L35.1,199.1L35.6,198.2L36.1,199.2L36.6,198.9L37.1,198.7L37.6,200.6L38.1,198.8L38.6,200.3L39.1,199.3L39.6,198.6L40.1,199.2L40.6,199.1L41.1,198.0L41.6,199.0L42.1,198.1L42.6,197.8L43.1,199.0L43.6,198.8L44.1,199.3L44.6,198.9L45.1,199.4L45.6,199.7L46.1,200.0L46.6,198.2L47.1,197.4L47.6,198.0L48.1,195.9L48.6,197.8L49.1,197.9L49.6,199.5L50.1,196.1L50.6,197.0L51.1,197.2L51.6,196.2L52.1,197.9L52.6,196.3L53.1,197.8L53.6,198.1L54.1,197.2L54.6,197.2L55.1,197.9L55.6,195.5L56.1,195.9L56.6,196.8L57.1,195.5L57.6,196.8L58.1,198.8L58.6,197.9L59.1,196.5L59.6,197.2L60.1,195.4L60.6,194.5L61.1,194.1L61.6,196.5L62.1,197.0L62.6,195.7L63.1,195.6L63.6,196.6L64.1,196.2L64.6,196.2L65.1,196.6L65.6,193.2L66.1,195.6L66.6,194.8L67.1,194.8L67.6,194.2L68.1,192.5L68.6,193.9L69.1,195.0L69.6,195.5L70.1,198.2L70.6,193.3L71.1,195.0L71.6,193.1L72.1,194.0L72.6,193.3L73.1,191.0L73.6,194.2L74.1,191.7L74.6,191.6L75.1,194.6L75.6,192.7L76.1,192.8L76.6,193.0L77.1,192.1L77.6,190.5L78.1,193.2L78.6,192.7L79.1,190.7L79.6,190.1L80.1,191.8L80.6,190.1L81.1,191.3L81.6,189.7L82.1,190.1L82.6,188.5L83.1,191.1L83.6,189.7L84.1,189.0L84.6,188.9L85.1,189.4L85.6,189.5L86.1,189.2L86.6,188.8L87.1,190.4L87.6,188.9L88.1,187.4L88.6,188.0L89.1,184.2L89.6,187.8L90.1,187.7L90.6,187.8L91.1,188.1L91.6,185.5L92.1,188.5L92.6,187.1L93.1,185.8L93.6,186.0L94.1,186.0L94.6,186.8L95.1,187.3L95.6,184.8L96.1,184.3L96.6,185.2L97.1,186.0L97.6,185.5L98.1,183.6L98.6,186.1L99.1,183.5L99.6,184.5L100.1,184.5L100.6,185.6L101.1,183.9L101.6,185.5L102.1,183.8L102.6,182.3L103.1,182.9L103.6,185.6L104.1,182.9L104.6,182.9L105.1,183.9L105.6,183.8L106.1,181.6L106.6,182.6L107.1,184.7L107.6,184.2L108.1,184.7L108.6,183.5L109.1,182.9L109.6,184.0L110.1,184.4L110.6,182.2L111.1,182.5L111.6,183.1L112.1,182.6L112.6,183.8L113.1,182.3L113.6,182.9L114.1,181.8L114.6,183.1L115.1,182.6L115.6,181.9L116.1,185.0L116.6,182.4L117.1,184.2L117.6,181.9L118.1,184.4L118.6,183.6L119.1,184.3L119.6,184.2L120.1,184.3L120.6,184.7L121.1,184.4L121.6,187.6L122.1,184.8L122.6,189.2L123.1,184.3L123.6,186.4L124.1,186.1L124.6,184.8L125.1,185.4L125.6,186.1L126.1,186.0L126.6,188.3L127.1,187.6L127.6,188.2L128.1,188.8L128.6,187.8L129.1,191.9L129.6,187.6L130.1,187.8L130.6,189.1L131.1,190.3L131.6,189.8L132.1,189.9L132.6,191.0L133.1,192.5L133.6,193.2L134.1,190.6L134.6,193.3L135.1,192.0L135.6,193.7L136.1,193.0L136.6,193.1L137.1,194.0L137.6,193.9L138.1,195.2L138.6,194.7L139.1,194.1L139.6,194.4L140.1,195.8L140.6,195.5L141.1,195.1L141.6,197.8L142.1,196.4L142.6,197.4L143.1,198.1L143.6,196.8L144.1,197.4L144.6,196.8L145.1,198.2" stroke="#111" stroke-width="1.75" fill="none" stroke-linejoin="round"/><path d="M22.1,211.9L22.6,211.8L23.1,210.0L23.6,210.5L24.1,211.9L24.6,211.7L25.1,210.3L25.6,211.1L26.1,211.7L26.6,212.4L27.1,211.3L27.6,211.8L28.1,211.0L28.6,208.6L29.1,211.3L29.6,211.1L30.1,209.4L30.6,211.9L31.1,206.7L31.6,211.9L32.1,212.4L32.6,210.9L33.1,210.8L33.6,209.7L34.1,210.9L34.6,211.5L35.1,209.4L35.6,209.9L36.1,209.7L36.6,210.2L37.1,211.1L37.6,210.8L38.1,210.8L38.6,210.0L39.1,211.6L39.6,211.3L40.1,210.7L40.6,209.8L41.1,209.4L41.6,210.8L42.1,210.6L42.6,210.7L43.1,211.5L43.6,211.0L44.1,207.9L44.6,210.0L45.1,209.8L45.6,210.9L46.1,209.4L46.6,210.2L47.1,210.7L47.6,208.6L48.1,210.9L48.6,210.1L49.1,209.5L49.6,208.0L50.1,209.0L50.6,208.5L51.1,209.4L51.6,209.2L52.1,209.4L52.6,209.6L53.1,208.7L53.6,209.7L54.1,207.7L54.6,209.8L55.1,209.9L55.6,209.2L56.1,209.6L56.6,209.3L57.1,207.9L57.6,207.4L58.1,210.0L58.6,207.5L59.1,207.6L59.6,208.1L60.1,205.6L60.6,206.6L61.1,208.0L61.6,207.3L62.1,206.2L62.6,206.7L63.1,206.4L63.6,208.5L64.1,207.2L64.6,207.2L65.1,208.0L65.6,205.9L66.1,206.7L66.6,206.2L67.1,206.9L67.6,206.5L68.1,207.3L68.6,206.3L69.1,207.1L69.6,205.1L70.1,207.2L70.6,205.5L71.1,204.9L71.6,205.7L72.1,204.9L72.6,205.1L73.1,204.3L73.6,205.2L74.1,204.3L74.6,204.8L75.1,205.1L75.6,203.5L76.1,203.6L76.6,204.4L77.1,203.8L77.6,202.4L78.1,204.3L78.6,204.9L79.1,202.6L79.6,204.8L80.1,203.5L80.6,204.9L81.1,202.0L81.6,201.7L82.1,202.5L82.6,202.6L83.1,201.0L83.6,199.8L84.1,201.6L84.6,202.1L85.1,200.5L85.6,201.3L86.1,200.5L86.6,198.8L87.1,199.7L87.6,200.8L88.1,200.5L88.6,200.5L89.1,200.3L89.6,198.9L90.1,198.8L90.6,199.5L91.1,200.6L91.6,200.3L92.1,200.5L92.6,198.0L93.1,198.6L93.6,196.4L94.1,198.0L94.6,197.8L95.1,196.3L95.6,196.7L96.1,196.6L96.6,195.0L97.1,197.0L97.6,194.6L98.1,194.5L98.6,196.1L99.1,196.3L99.6,197.2L100.1,196.7L100.6,196.0L101.1,195.2L101.6,194.8L102.1,194.8L102.6,194.6L103.1,193.9L103.6,198.1L104.1,193.9L104.6,195.5L105.1,192.6L105.6,195.5L106.1,196.6L106.6,194.7L107.1,195.5L107.6,194.2L108.1,196.7L108.6,198.1L109.1,193.9L109.6,194.7L110.1,195.4L110.6,194.7L111.1,193.4L111.6,196.3L112.1,194.4L112.6,195.8L113.1,195.1L113.6,195.7L114.1,196.6L114.6,196.6L115.1,194.9L115.6,197.7L116.1,197.1L116.6,196.1L117.1,195.8L117.6,195.5L118.1,197.2L118.6,199.0L119.1,193.8L119.6,198.9L120.1,197.5L120.6,199.1L121.1,198.9L121.6,197.5L122.1,199.7L122.6,201.0L123.1,199.8L123.6,198.5L124.1,198.7L124.6,200.3L125.1,200.8L125.6,202.1L126.1,202.1L126.6,199.5L127.1,202.0L127.6,201.5L128.1,201.3L128.6,202.8L129.1,203.4L129.6,203.1L130.1,203.0L130.6,202.5L131.1,205.8L131.6,202.5L132.1,202.5L132.6,205.2L133.1,205.1L133.6,204.4L134.1,206.0L134.6,205.4L135.1,205.1L135.6,205.3L136.1,205.5L136.6,208.3L137.1,207.3L137.6,206.4L138.1,208.3L138.6,206.0L139.1,209.0L139.6,208.5L140.1,207.8L140.6,207.2L141.1,208.1L141.6,206.9L142.1,207.9L142.6,210.0L143.1,208.2L143.6,207.8L144.1,209.9L144.6,208.8L145.1,210.8" stroke="#111" stroke-width="1.8" fill="none" stroke-linejoin="round"/><rect x="21.7" y="17.55" width="133.5" height="195.64999999999998" fill="none" stroke="#262626" stroke-width="1.35"/><text x="21.7" y="224.2" font-size="8.3" text-anchor="middle" fill="#1a1a1a" stroke="#1a1a1a" stroke-width="0.1">0.55</text><text x="46.4" y="224.2" font-size="8.3" text-anchor="middle" fill="#1a1a1a" stroke="#1a1a1a" stroke-width="0.1">0.60</text><text x="71.1" y="224.2" font-size="8.3" text-anchor="middle" fill="#1a1a1a" stroke="#1a1a1a" stroke-width="0.1">0.65</text><text x="95.8" y="224.2" font-size="8.3" text-anchor="middle" fill="#1a1a1a" stroke="#1a1a1a" stroke-width="0.1">0.70</text><text x="120.5" y="224.2" font-size="8.3" text-anchor="middle" fill="#1a1a1a" stroke="#1a1a1a" stroke-width="0.1">0.75</text><text x="145.2" y="224.2" font-size="8.3" text-anchor="middle" fill="#1a1a1a" stroke="#1a1a1a" stroke-width="0.1">0.80</text><text x="22.4" y="38.4" font-size="8.2" letter-spacing="-0.2" fill="#1a1a1a" stroke="#1a1a1a" stroke-width="0.05">15 K</text><text x="22.4" y="50.7" font-size="8.2" letter-spacing="-0.2" fill="#1a1a1a" stroke="#1a1a1a" stroke-width="0.05">30 K</text><text x="22.4" y="63.1" font-size="8.2" letter-spacing="-0.2" fill="#1a1a1a" stroke="#1a1a1a" stroke-width="0.05">50 K</text><text x="22.4" y="75.4" font-size="8.2" letter-spacing="-0.2" fill="#1a1a1a" stroke="#1a1a1a" stroke-width="0.05">70 K</text><text x="22.4" y="87.7" font-size="8.2" letter-spacing="-0.2" fill="#1a1a1a" stroke="#1a1a1a" stroke-width="0.05">90 K</text><text x="22.4" y="100.0" font-size="8.2" letter-spacing="-0.2" fill="#1a1a1a" stroke="#1a1a1a" stroke-width="0.05">110 K</text><text x="22.4" y="112.4" font-size="8.2" letter-spacing="-0.2" fill="#1a1a1a" stroke="#1a1a1a" stroke-width="0.05">130 K</text><text x="22.4" y="124.7" font-size="8.2" letter-spacing="-0.2" fill="#1a1a1a" stroke="#1a1a1a" stroke-width="0.05">150 K</text><text x="22.4" y="137.0" font-size="8.2" letter-spacing="-0.2" fill="#1a1a1a" stroke="#1a1a1a" stroke-width="0.05">170 K</text><text x="22.4" y="149.4" font-size="8.2" letter-spacing="-0.2" fill="#1a1a1a" stroke="#1a1a1a" stroke-width="0.05">190 K</text><text x="22.4" y="161.7" font-size="8.2" letter-spacing="-0.2" fill="#1a1a1a" stroke="#1a1a1a" stroke-width="0.05">210 K</text><text x="22.4" y="174.0" font-size="8.2" letter-spacing="-0.2" fill="#1a1a1a" stroke="#1a1a1a" stroke-width="0.05">230 K</text><text x="22.4" y="186.4" font-size="8.2" letter-spacing="-0.2" fill="#1a1a1a" stroke="#1a1a1a" stroke-width="0.05">250 K</text><text x="22.4" y="198.7" font-size="8.2" letter-spacing="-0.2" fill="#1a1a1a" stroke="#1a1a1a" stroke-width="0.05">270 K</text><text x="22.4" y="211.0" font-size="8.2" letter-spacing="-0.2" fill="#1a1a1a" stroke="#1a1a1a" stroke-width="0.05">290 K</text><path d="M194.95,213.2v-1.8M207.30,213.2v-3.4M219.65,213.2v-1.8M232.00,213.2v-3.4M244.35,213.2v-1.8M256.70,213.2v-3.4M269.05,213.2v-1.8M281.40,213.2v-3.4M293.75,213.2v-1.8M306.10,213.2v-3.4" stroke="#222" stroke-width="1" fill="none"/><path d="M183.0,40.1L183.5,40.1L184.0,40.1L184.5,40.1L185.0,40.1L185.5,40.1L186.0,40.1L186.5,40.0L187.0,40.0L187.5,40.0L188.0,40.0L188.5,40.0L189.0,40.0L189.5,40.0L190.0,40.0L190.5,40.0L191.0,40.0L191.5,40.0L192.0,40.0L192.5,39.9L193.0,39.9L193.5,39.9L194.0,39.9L194.5,39.9L195.0,39.9L195.5,39.8L196.0,39.8L196.5,39.8L197.0,39.8L197.5,39.7L198.0,39.7L198.5,39.7L199.0,39.6L199.5,39.6L200.0,39.5L200.5,39.5L201.0,39.5L201.5,39.4L202.0,39.3L202.5,39.3L203.0,39.2L203.5,39.2L204.0,39.1L204.5,39.0L205.0,39.0L205.5,38.9L206.0,38.8L206.5,38.8L207.0,38.7L207.5,38.6L208.0,38.5L208.5,38.5L209.0,38.4L209.5,38.3L210.0,38.2L210.5,38.1L211.0,38.1L211.5,38.0L212.0,37.9L212.5,37.8L213.0,37.7L213.5,37.7L214.0,37.6L214.5,37.5L215.0,37.4L215.5,37.3L216.0,37.2L216.5,37.2L217.0,37.1L217.5,37.0L218.0,36.9L218.5,36.8L219.0,36.7L219.5,36.7L220.0,36.6L220.5,36.5L221.0,36.4L221.5,36.4L222.0,36.3L222.5,36.2L223.0,36.1L223.5,36.1L224.0,36.0L224.5,35.9L225.0,35.8L225.5,35.8L226.0,35.7L226.5,35.6L227.0,35.6L227.5,35.5L228.0,35.4L228.5,35.3L229.0,35.3L229.5,35.2L230.0,35.1L230.5,35.0L231.0,35.0L231.5,34.9L232.0,34.8L232.5,34.7L233.0,34.6L233.5,34.5L234.0,34.4L234.5,34.2L235.0,34.1L235.5,34.0L236.0,33.9L236.5,33.7L237.0,33.6L237.5,33.5L238.0,33.5L238.5,33.4L239.0,33.4L239.5,33.4L240.0,33.4L240.5,33.4L241.0,33.5L241.5,33.6L242.0,33.6L242.5,33.8L243.0,33.9L243.5,34.0L244.0,34.1L244.5,34.3L245.0,34.4L245.5,34.5L246.0,34.6L246.5,34.7L247.0,34.8L247.5,34.9L248.0,34.9L248.5,35.0L249.0,35.0L249.5,35.0L250.0,35.0L250.5,35.1L251.0,35.1L251.5,35.1L252.0,35.0L252.5,35.0L253.0,35.0L253.5,35.0L254.0,35.0L254.5,34.9L255.0,34.9L255.5,34.8L256.0,34.7L256.5,34.6L257.0,34.5L257.5,34.4L258.0,34.2L258.5,34.0L259.0,33.7L259.5,33.4L260.0,32.9L260.5,32.4L261.0,31.9L261.5,31.2L262.0,30.4L262.5,29.5L263.0,28.5L263.5,27.4L264.0,26.2L264.5,25.1L265.0,24.0L265.5,23.0L266.0,22.1L266.5,21.4L267.0,20.8L267.5,20.4L268.0,20.1L268.5,20.0L269.0,20.1L269.5,20.3L270.0,20.7L270.5,21.2L271.0,21.8L271.5,22.6L272.0,23.4L272.5,24.3L273.0,25.3L273.5,26.2L274.0,27.2L274.5,28.1L275.0,29.0L275.5,30.0L276.0,31.0L276.5,31.9L277.0,32.8L277.5,33.6L278.0,34.3L278.5,34.9L279.0,35.3L279.5,35.7L280.0,36.0L280.5,36.2L281.0,36.4L281.5,36.6L282.0,36.8L282.5,36.9L283.0,37.0L283.5,37.1L284.0,37.2L284.5,37.3L285.0,37.3L285.5,37.3L286.0,37.3L286.5,37.3L287.0,37.3L287.5,37.2L288.0,37.1L288.5,37.0L289.0,36.9L289.5,36.8L290.0,36.7L290.5,36.5L291.0,36.4L291.5,36.2L292.0,36.1L292.5,35.9L293.0,35.7L293.5,35.5L294.0,35.2L294.5,35.0L295.0,34.7L295.5,34.4L296.0,34.0L296.5,33.7L297.0,33.3L297.5,32.9L298.0,32.6L298.5,32.2L299.0,32.0L299.5,31.7L300.0,31.6L300.5,31.5L301.0,31.5L301.5,31.6L302.0,31.8L302.5,32.0L303.0,32.3L303.5,32.6L304.0,33.0L304.5,33.3L305.0,33.6L305.5,33.8L306.0,34.0L306.5,34.2L307.0,34.3L307.5,34.3L308.0,34.4L308.5,34.4L309.0,34.4L309.5,34.4L310.0,34.3L310.5,34.3L311.0,34.3L311.5,34.2L312.0,34.2L312.5,34.1L313.0,34.1L313.5,34.0L314.0,34.0L314.5,34.0" stroke="#111" stroke-width="1.3" fill="none" stroke-linejoin="round"/><path d="M183.0,52.4L183.5,52.4L184.0,52.4L184.5,52.4L185.0,52.3L185.5,52.3L186.0,52.3L186.5,52.3L187.0,52.3L187.5,52.3L188.0,52.3L188.5,52.3L189.0,52.3L189.5,52.2L190.0,52.2L190.5,52.2L191.0,52.2L191.5,52.2L192.0,52.2L192.5,52.2L193.0,52.2L193.5,52.1L194.0,52.1L194.5,52.1L195.0,52.1L195.5,52.1L196.0,52.0L196.5,52.0L197.0,52.0L197.5,52.0L198.0,51.9L198.5,51.9L199.0,51.9L199.5,51.9L200.0,51.8L200.5,51.8L201.0,51.8L201.5,51.7L202.0,51.7L202.5,51.7L203.0,51.6L203.5,51.6L204.0,51.6L204.5,51.5L205.0,51.5L205.5,51.4L206.0,51.4L206.5,51.4L207.0,51.3L207.5,51.3L208.0,51.2L208.5,51.2L209.0,51.1L209.5,51.1L210.0,51.1L210.5,51.0L211.0,51.0L211.5,50.9L212.0,50.9L212.5,50.8L213.0,50.8L213.5,50.7L214.0,50.7L214.5,50.6L215.0,50.6L215.5,50.5L216.0,50.4L216.5,50.4L217.0,50.3L217.5,50.3L218.0,50.2L218.5,50.2L219.0,50.1L219.5,50.0L220.0,50.0L220.5,49.9L221.0,49.8L221.5,49.7L222.0,49.7L222.5,49.6L223.0,49.5L223.5,49.4L224.0,49.3L224.5,49.2L225.0,49.1L225.5,49.0L226.0,48.9L226.5,48.8L227.0,48.7L227.5,48.6L228.0,48.5L228.5,48.4L229.0,48.3L229.5,48.2L230.0,48.1L230.5,48.0L231.0,47.9L231.5,47.8L232.0,47.6L232.5,47.5L233.0,47.4L233.5,47.3L234.0,47.2L234.5,47.1L235.0,47.0L235.5,46.9L236.0,46.8L236.5,46.7L237.0,46.6L237.5,46.6L238.0,46.5L238.5,46.4L239.0,46.4L239.5,46.4L240.0,46.3L240.5,46.3L241.0,46.3L241.5,46.4L242.0,46.4L242.5,46.5L243.0,46.6L243.5,46.7L244.0,46.8L244.5,47.0L245.0,47.1L245.5,47.3L246.0,47.4L246.5,47.6L247.0,47.7L247.5,47.8L248.0,47.9L248.5,47.9L249.0,48.0L249.5,48.0L250.0,48.0L250.5,48.0L251.0,48.0L251.5,48.0L252.0,48.0L252.5,48.0L253.0,47.9L253.5,47.9L254.0,47.9L254.5,47.8L255.0,47.8L255.5,47.7L256.0,47.6L256.5,47.5L257.0,47.3L257.5,47.1L258.0,46.8L258.5,46.4L259.0,46.0L259.5,45.3L260.0,44.6L260.5,43.8L261.0,43.1L261.5,42.3L262.0,41.5L262.5,40.9L263.0,40.2L263.5,39.5L264.0,38.9L264.5,38.2L265.0,37.6L265.5,37.0L266.0,36.3L266.5,35.7L267.0,35.2L267.5,34.7L268.0,34.2L268.5,34.0L269.0,33.8L269.5,33.8L270.0,34.0L270.5,34.3L271.0,34.7L271.5,35.3L272.0,36.0L272.5,36.7L273.0,37.5L273.5,38.3L274.0,39.1L274.5,39.9L275.0,40.7L275.5,41.4L276.0,42.2L276.5,42.9L277.0,43.6L277.5,44.2L278.0,44.9L278.5,45.5L279.0,46.1L279.5,46.7L280.0,47.2L280.5,47.7L281.0,48.1L281.5,48.4L282.0,48.8L282.5,49.0L283.0,49.3L283.5,49.5L284.0,49.6L284.5,49.8L285.0,49.9L285.5,50.0L286.0,50.1L286.5,50.1L287.0,50.1L287.5,50.1L288.0,50.1L288.5,50.0L289.0,49.9L289.5,49.8L290.0,49.7L290.5,49.5L291.0,49.3L291.5,49.1L292.0,48.8L292.5,48.5L293.0,48.2L293.5,47.9L294.0,47.5L294.5,47.2L295.0,46.9L295.5,46.5L296.0,46.2L296.5,45.8L297.0,45.5L297.5,45.2L298.0,44.9L298.5,44.6L299.0,44.3L299.5,44.1L300.0,43.9L300.5,43.8L301.0,43.8L301.5,43.8L302.0,43.9L302.5,44.2L303.0,44.4L303.5,44.8L304.0,45.1L304.5,45.5L305.0,45.8L305.5,46.1L306.0,46.4L306.5,46.5L307.0,46.7L307.5,46.7L308.0,46.8L308.5,46.8L309.0,46.8L309.5,46.8L310.0,46.7L310.5,46.7L311.0,46.7L311.5,46.6L312.0,46.6L312.5,46.5L313.0,46.5L313.5,46.4L314.0,46.4L314.5,46.4" stroke="#111" stroke-width="1.3" fill="none" stroke-linejoin="round"/><path d="M183.0,64.2L183.5,64.2L184.0,64.1L184.5,64.1L185.0,64.1L185.5,64.0L186.0,64.0L186.5,64.0L187.0,63.9L187.5,63.9L188.0,63.9L188.5,63.8L189.0,63.8L189.5,63.8L190.0,63.7L190.5,63.7L191.0,63.7L191.5,63.6L192.0,63.6L192.5,63.6L193.0,63.6L193.5,63.5L194.0,63.5L194.5,63.5L195.0,63.4L195.5,63.4L196.0,63.4L196.5,63.3L197.0,63.3L197.5,63.3L198.0,63.2L198.5,63.2L199.0,63.2L199.5,63.2L200.0,63.1L200.5,63.1L201.0,63.1L201.5,63.1L202.0,63.0L202.5,63.0L203.0,63.0L203.5,63.0L204.0,63.0L204.5,62.9L205.0,62.9L205.5,62.9L206.0,62.9L206.5,62.9L207.0,62.9L207.5,62.9L208.0,62.9L208.5,62.8L209.0,62.8L209.5,62.8L210.0,62.8L210.5,62.8L211.0,62.8L211.5,62.8L212.0,62.7L212.5,62.7L213.0,62.7L213.5,62.7L214.0,62.7L214.5,62.7L215.0,62.6L215.5,62.6L216.0,62.6L216.5,62.6L217.0,62.5L217.5,62.5L218.0,62.5L218.5,62.4L219.0,62.4L219.5,62.3L220.0,62.3L220.5,62.3L221.0,62.2L221.5,62.1L222.0,62.1L222.5,62.0L223.0,61.9L223.5,61.9L224.0,61.8L224.5,61.7L225.0,61.6L225.5,61.5L226.0,61.4L226.5,61.3L227.0,61.2L227.5,61.0L228.0,60.9L228.5,60.8L229.0,60.7L229.5,60.5L230.0,60.4L230.5,60.3L231.0,60.1L231.5,60.0L232.0,59.9L232.5,59.7L233.0,59.6L233.5,59.5L234.0,59.3L234.5,59.2L235.0,59.1L235.5,59.0L236.0,58.9L236.5,58.7L237.0,58.6L237.5,58.5L238.0,58.5L238.5,58.4L239.0,58.3L239.5,58.3L240.0,58.3L240.5,58.3L241.0,58.3L241.5,58.3L242.0,58.3L242.5,58.4L243.0,58.5L243.5,58.6L244.0,58.7L244.5,58.8L245.0,58.9L245.5,59.0L246.0,59.1L246.5,59.2L247.0,59.3L247.5,59.3L248.0,59.4L248.5,59.4L249.0,59.4L249.5,59.5L250.0,59.5L250.5,59.5L251.0,59.6L251.5,59.6L252.0,59.6L252.5,59.6L253.0,59.6L253.5,59.6L254.0,59.6L254.5,59.6L255.0,59.6L255.5,59.5L256.0,59.5L256.5,59.4L257.0,59.3L257.5,59.1L258.0,59.0L258.5,58.7L259.0,58.4L259.5,58.1L260.0,57.6L260.5,57.1L261.0,56.6L261.5,55.9L262.0,55.2L262.5,54.5L263.0,53.8L263.5,53.0L264.0,52.2L264.5,51.3L265.0,50.5L265.5,49.6L266.0,48.8L266.5,47.9L267.0,47.1L267.5,46.4L268.0,45.8L268.5,45.3L269.0,45.1L269.5,45.0L270.0,45.2L270.5,45.6L271.0,46.2L271.5,46.9L272.0,47.8L272.5,48.8L273.0,49.9L273.5,50.9L274.0,52.0L274.5,52.9L275.0,53.8L275.5,54.6L276.0,55.3L276.5,55.9L277.0,56.4L277.5,56.9L278.0,57.4L278.5,57.8L279.0,58.3L279.5,58.8L280.0,59.2L280.5,59.7L281.0,60.1L281.5,60.5L282.0,60.8L282.5,61.1L283.0,61.4L283.5,61.6L284.0,61.7L284.5,61.9L285.0,61.9L285.5,62.0L286.0,62.0L286.5,61.9L287.0,61.8L287.5,61.7L288.0,61.5L288.5,61.4L289.0,61.2L289.5,61.0L290.0,60.7L290.5,60.5L291.0,60.3L291.5,60.0L292.0,59.8L292.5,59.5L293.0,59.2L293.5,59.0L294.0,58.7L294.5,58.4L295.0,58.2L295.5,57.9L296.0,57.7L296.5,57.4L297.0,57.2L297.5,56.9L298.0,56.7L298.5,56.5L299.0,56.3L299.5,56.2L300.0,56.1L300.5,56.0L301.0,56.0L301.5,56.0L302.0,56.1L302.5,56.3L303.0,56.6L303.5,56.9L304.0,57.2L304.5,57.5L305.0,57.7L305.5,58.0L306.0,58.1L306.5,58.2L307.0,58.3L307.5,58.4L308.0,58.4L308.5,58.4L309.0,58.4L309.5,58.4L310.0,58.3L310.5,58.3L311.0,58.3L311.5,58.2L312.0,58.2L312.5,58.2L313.0,58.1L313.5,58.1L314.0,58.1L314.5,58.0" stroke="#111" stroke-width="1.3" fill="none" stroke-linejoin="round"/><path d="M183.0,76.8L183.5,76.8L184.0,76.8L184.5,76.8L185.0,76.7L185.5,76.7L186.0,76.7L186.5,76.7L187.0,76.7L187.5,76.7L188.0,76.7L188.5,76.7L189.0,76.7L189.5,76.6L190.0,76.6L190.5,76.6L191.0,76.6L191.5,76.6L192.0,76.6L192.5,76.6L193.0,76.6L193.5,76.5L194.0,76.5L194.5,76.5L195.0,76.5L195.5,76.5L196.0,76.4L196.5,76.4L197.0,76.4L197.5,76.4L198.0,76.3L198.5,76.3L199.0,76.3L199.5,76.3L200.0,76.2L200.5,76.2L201.0,76.2L201.5,76.1L202.0,76.1L202.5,76.1L203.0,76.0L203.5,76.0L204.0,75.9L204.5,75.9L205.0,75.8L205.5,75.8L206.0,75.8L206.5,75.7L207.0,75.7L207.5,75.6L208.0,75.6L208.5,75.5L209.0,75.5L209.5,75.4L210.0,75.4L210.5,75.3L211.0,75.3L211.5,75.2L212.0,75.2L212.5,75.1L213.0,75.1L213.5,75.0L214.0,74.9L214.5,74.9L215.0,74.8L215.5,74.8L216.0,74.7L216.5,74.7L217.0,74.6L217.5,74.6L218.0,74.5L218.5,74.5L219.0,74.4L219.5,74.4L220.0,74.3L220.5,74.3L221.0,74.2L221.5,74.2L222.0,74.1L222.5,74.1L223.0,74.0L223.5,74.0L224.0,73.9L224.5,73.8L225.0,73.8L225.5,73.7L226.0,73.7L226.5,73.6L227.0,73.5L227.5,73.5L228.0,73.4L228.5,73.4L229.0,73.3L229.5,73.2L230.0,73.2L230.5,73.1L231.0,73.1L231.5,73.0L232.0,73.0L232.5,72.9L233.0,72.8L233.5,72.8L234.0,72.7L234.5,72.7L235.0,72.6L235.5,72.6L236.0,72.5L236.5,72.5L237.0,72.4L237.5,72.4L238.0,72.3L238.5,72.3L239.0,72.3L239.5,72.2L240.0,72.2L240.5,72.2L241.0,72.1L241.5,72.1L242.0,72.1L242.5,72.1L243.0,72.1L243.5,72.1L244.0,72.1L244.5,72.1L245.0,72.2L245.5,72.2L246.0,72.3L246.5,72.3L247.0,72.3L247.5,72.4L248.0,72.5L248.5,72.5L249.0,72.6L249.5,72.6L250.0,72.7L250.5,72.8L251.0,72.8L251.5,72.9L252.0,73.0L252.5,73.0L253.0,73.0L253.5,73.1L254.0,73.1L254.5,73.1L255.0,73.0L255.5,73.0L256.0,72.9L256.5,72.8L257.0,72.6L257.5,72.4L258.0,72.1L258.5,71.8L259.0,71.4L259.5,70.9L260.0,70.4L260.5,69.8L261.0,69.0L261.5,68.2L262.0,67.4L262.5,66.4L263.0,65.3L263.5,64.2L264.0,63.1L264.5,61.9L265.0,60.8L265.5,59.8L266.0,58.9L266.5,58.3L267.0,57.8L267.5,57.7L268.0,57.8L268.5,58.1L269.0,58.7L269.5,59.4L270.0,60.2L270.5,61.1L271.0,62.1L271.5,63.0L272.0,63.8L272.5,64.6L273.0,65.3L273.5,66.0L274.0,66.6L274.5,67.2L275.0,67.7L275.5,68.2L276.0,68.7L276.5,69.1L277.0,69.6L277.5,70.0L278.0,70.5L278.5,70.9L279.0,71.3L279.5,71.6L280.0,72.0L280.5,72.3L281.0,72.6L281.5,72.9L282.0,73.2L282.5,73.4L283.0,73.7L283.5,73.9L284.0,74.1L284.5,74.2L285.0,74.4L285.5,74.5L286.0,74.6L286.5,74.7L287.0,74.7L287.5,74.8L288.0,74.8L288.5,74.8L289.0,74.8L289.5,74.8L290.0,74.7L290.5,74.7L291.0,74.6L291.5,74.5L292.0,74.4L292.5,74.2L293.0,74.1L293.5,73.9L294.0,73.8L294.5,73.6L295.0,73.4L295.5,73.2L296.0,73.1L296.5,72.9L297.0,72.8L297.5,72.6L298.0,72.5L298.5,72.4L299.0,72.3L299.5,72.2L300.0,72.2L300.5,72.1L301.0,72.1L301.5,72.0L302.0,72.0L302.5,72.0L303.0,72.0L303.5,72.0L304.0,72.0L304.5,72.0L305.0,72.0L305.5,72.1L306.0,72.1L306.5,72.1L307.0,72.1L307.5,72.2L308.0,72.2L308.5,72.2L309.0,72.2L309.5,72.3L310.0,72.3L310.5,72.3L311.0,72.4L311.5,72.4L312.0,72.4L312.5,72.5L313.0,72.5L313.5,72.5L314.0,72.6L314.5,72.6" stroke="#111" stroke-width="1.3" fill="none" stroke-linejoin="round"/><path d="M183.0,89.6L183.5,89.5L184.0,89.6L184.5,89.5L185.0,89.4L185.5,89.6L186.0,89.4L186.5,89.5L187.0,89.5L187.5,89.4L188.0,89.4L188.5,89.2L189.0,89.3L189.5,89.4L190.0,89.2L190.5,89.0L191.0,89.1L191.5,89.1L192.0,89.0L192.5,89.0L193.0,88.9L193.5,89.1L194.0,89.0L194.5,88.9L195.0,88.9L195.5,88.8L196.0,88.9L196.5,88.9L197.0,88.9L197.5,88.3L198.0,88.7L198.5,88.8L199.0,88.6L199.5,88.8L200.0,88.4L200.5,88.7L201.0,88.6L201.5,88.6L202.0,88.3L202.5,88.5L203.0,88.7L203.5,88.3L204.0,88.3L204.5,88.4L205.0,88.6L205.5,88.6L206.0,88.3L206.5,88.4L207.0,88.2L207.5,88.4L208.0,88.3L208.5,88.2L209.0,88.2L209.5,88.0L210.0,88.2L210.5,88.0L211.0,88.1L211.5,88.0L212.0,87.9L212.5,87.9L213.0,88.1L213.5,87.9L214.0,87.9L214.5,88.1L215.0,87.6L215.5,87.7L216.0,87.8L216.5,87.7L217.0,87.6L217.5,87.8L218.0,87.7L218.5,87.7L219.0,87.8L219.5,87.7L220.0,87.6L220.5,87.5L221.0,87.6L221.5,87.5L222.0,87.4L222.5,87.5L223.0,87.5L223.5,87.5L224.0,87.4L224.5,87.2L225.0,87.4L225.5,87.2L226.0,87.2L226.5,87.1L227.0,87.2L227.5,87.0L228.0,87.0L228.5,87.1L229.0,87.1L229.5,87.1L230.0,86.9L230.5,86.9L231.0,87.0L231.5,87.1L232.0,86.8L232.5,86.8L233.0,86.8L233.5,86.7L234.0,86.9L234.5,86.8L235.0,86.7L235.5,86.8L236.0,86.6L236.5,86.7L237.0,86.6L237.5,86.6L238.0,86.5L238.5,86.5L239.0,86.4L239.5,86.4L240.0,86.4L240.5,86.5L241.0,86.3L241.5,86.3L242.0,86.3L242.5,86.2L243.0,86.2L243.5,86.1L244.0,86.2L244.5,86.2L245.0,86.3L245.5,86.1L246.0,86.1L246.5,86.0L247.0,86.1L247.5,86.2L248.0,86.0L248.5,86.3L249.0,86.0L249.5,86.0L250.0,86.0L250.5,86.0L251.0,85.8L251.5,85.9L252.0,85.8L252.5,85.5L253.0,85.5L253.5,85.4L254.0,85.1L254.5,84.8L255.0,84.5L255.5,84.1L256.0,83.9L256.5,83.4L257.0,83.1L257.5,82.9L258.0,82.6L258.5,82.0L259.0,81.4L259.5,80.8L260.0,79.9L260.5,79.3L261.0,78.3L261.5,77.4L262.0,76.4L262.5,75.4L263.0,74.1L263.5,73.2L264.0,72.4L264.5,71.8L265.0,71.2L265.5,70.6L266.0,70.6L266.5,70.3L267.0,70.5L267.5,70.9L268.0,70.9L268.5,71.6L269.0,72.3L269.5,72.8L270.0,73.7L270.5,74.3L271.0,74.8L271.5,75.8L272.0,76.3L272.5,77.2L273.0,77.7L273.5,78.4L274.0,78.8L274.5,79.7L275.0,80.1L275.5,80.4L276.0,81.0L276.5,81.4L277.0,81.9L277.5,82.5L278.0,82.9L278.5,83.3L279.0,83.7L279.5,83.9L280.0,84.4L280.5,84.7L281.0,85.0L281.5,85.3L282.0,85.4L282.5,85.8L283.0,86.0L283.5,86.2L284.0,86.4L284.5,86.6L285.0,87.0L285.5,86.8L286.0,86.8L286.5,87.1L287.0,87.2L287.5,87.1L288.0,87.2L288.5,87.4L289.0,87.4L289.5,87.2L290.0,87.8L290.5,87.6L291.0,87.4L291.5,87.5L292.0,87.5L292.5,87.3L293.0,87.2L293.5,87.0L294.0,86.9L294.5,86.6L295.0,86.7L295.5,86.4L296.0,85.7L296.5,85.8L297.0,85.4L297.5,85.3L298.0,84.9L298.5,84.8L299.0,84.8L299.5,84.6L300.0,84.7L300.5,84.7L301.0,84.7L301.5,84.6L302.0,84.4L302.5,84.5L303.0,84.5L303.5,84.6L304.0,84.8L304.5,84.7L305.0,84.6L305.5,84.8L306.0,84.9L306.5,84.9L307.0,84.8L307.5,85.0L308.0,85.1L308.5,85.3L309.0,85.3L309.5,85.4L310.0,85.5L310.5,85.5L311.0,85.7L311.5,85.7L312.0,85.5L312.5,85.8L313.0,85.9L313.5,85.9L314.0,86.0L314.5,85.9" stroke="#111" stroke-width="1.3" fill="none" stroke-linejoin="round"/><path d="M183.0,100.9L183.5,101.1L184.0,101.1L184.5,100.9L185.0,100.8L185.5,100.9L186.0,100.7L186.5,100.9L187.0,100.4L187.5,100.9L188.0,101.0L188.5,100.7L189.0,100.6L189.5,100.8L190.0,100.9L190.5,100.7L191.0,100.6L191.5,100.6L192.0,100.6L192.5,100.8L193.0,100.5L193.5,100.5L194.0,100.6L194.5,101.0L195.0,100.9L195.5,100.5L196.0,100.7L196.5,100.4L197.0,100.5L197.5,100.5L198.0,100.2L198.5,100.4L199.0,100.3L199.5,100.3L200.0,100.6L200.5,100.2L201.0,100.6L201.5,100.0L202.0,100.5L202.5,99.9L203.0,100.1L203.5,100.3L204.0,100.3L204.5,99.7L205.0,100.3L205.5,100.3L206.0,99.8L206.5,99.9L207.0,99.8L207.5,99.9L208.0,100.1L208.5,99.6L209.0,100.0L209.5,99.5L210.0,99.9L210.5,99.7L211.0,99.6L211.5,100.1L212.0,99.8L212.5,99.8L213.0,99.7L213.5,99.6L214.0,99.8L214.5,100.0L215.0,99.9L215.5,99.5L216.0,99.7L216.5,99.5L217.0,99.5L217.5,99.4L218.0,99.5L218.5,99.4L219.0,99.6L219.5,99.6L220.0,99.4L220.5,99.4L221.0,99.5L221.5,99.6L222.0,99.3L222.5,99.4L223.0,99.4L223.5,99.3L224.0,99.5L224.5,99.2L225.0,99.2L225.5,99.1L226.0,99.0L226.5,99.1L227.0,99.2L227.5,99.1L228.0,99.5L228.5,99.0L229.0,98.9L229.5,99.0L230.0,99.1L230.5,98.9L231.0,98.8L231.5,98.8L232.0,98.8L232.5,99.1L233.0,98.8L233.5,98.9L234.0,98.9L234.5,99.0L235.0,98.8L235.5,98.8L236.0,98.7L236.5,98.7L237.0,99.0L237.5,98.5L238.0,98.7L238.5,98.8L239.0,99.1L239.5,98.6L240.0,98.6L240.5,98.7L241.0,98.6L241.5,98.5L242.0,98.8L242.5,98.7L243.0,98.7L243.5,98.8L244.0,98.5L244.5,98.7L245.0,98.9L245.5,99.3L246.0,98.7L246.5,98.7L247.0,98.5L247.5,98.8L248.0,98.8L248.5,98.6L249.0,98.7L249.5,98.6L250.0,98.4L250.5,98.2L251.0,98.2L251.5,98.3L252.0,98.0L252.5,97.9L253.0,97.8L253.5,97.0L254.0,97.0L254.5,96.5L255.0,95.9L255.5,95.6L256.0,94.5L256.5,93.0L257.0,92.1L257.5,91.0L258.0,89.9L258.5,89.1L259.0,88.0L259.5,87.2L260.0,86.5L260.5,85.5L261.0,84.9L261.5,84.4L262.0,83.6L262.5,83.3L263.0,83.2L263.5,82.8L264.0,82.8L264.5,82.5L265.0,82.9L265.5,83.1L266.0,83.6L266.5,83.9L267.0,84.4L267.5,85.0L268.0,85.8L268.5,86.1L269.0,86.6L269.5,87.5L270.0,88.1L270.5,88.4L271.0,89.0L271.5,89.7L272.0,90.0L272.5,90.5L273.0,91.4L273.5,91.5L274.0,92.4L274.5,92.9L275.0,93.2L275.5,93.5L276.0,94.0L276.5,94.3L277.0,94.6L277.5,95.1L278.0,95.4L278.5,95.5L279.0,96.2L279.5,96.6L280.0,96.7L280.5,97.1L281.0,97.6L281.5,97.7L282.0,97.9L282.5,98.1L283.0,98.6L283.5,98.4L284.0,98.9L284.5,98.8L285.0,99.1L285.5,99.2L286.0,99.5L286.5,99.6L287.0,99.5L287.5,99.8L288.0,99.7L288.5,99.9L289.0,99.8L289.5,99.8L290.0,99.8L290.5,99.9L291.0,99.8L291.5,99.8L292.0,99.7L292.5,99.4L293.0,99.2L293.5,99.4L294.0,99.1L294.5,99.0L295.0,99.1L295.5,98.9L296.0,98.9L296.5,98.6L297.0,98.6L297.5,98.1L298.0,98.3L298.5,98.2L299.0,98.5L299.5,98.0L300.0,98.0L300.5,97.8L301.0,98.0L301.5,97.7L302.0,97.9L302.5,98.1L303.0,97.9L303.5,97.8L304.0,97.5L304.5,98.1L305.0,98.0L305.5,98.4L306.0,98.3L306.5,98.3L307.0,98.6L307.5,98.4L308.0,98.6L308.5,98.7L309.0,98.7L309.5,98.8L310.0,98.8L310.5,99.1L311.0,99.1L311.5,99.0L312.0,99.5L312.5,99.7L313.0,99.8L313.5,100.0L314.0,99.7L314.5,99.8" stroke="#111" stroke-width="1.3" fill="none" stroke-linejoin="round"/><path d="M183.0,114.1L183.5,114.0L184.0,113.9L184.5,114.2L185.0,113.9L185.5,114.1L186.0,114.0L186.5,114.0L187.0,114.0L187.5,114.0L188.0,114.0L188.5,113.9L189.0,113.9L189.5,114.0L190.0,113.9L190.5,114.0L191.0,113.9L191.5,113.9L192.0,114.0L192.5,113.8L193.0,114.0L193.5,114.0L194.0,113.8L194.5,114.0L195.0,113.9L195.5,113.9L196.0,113.9L196.5,113.8L197.0,113.8L197.5,113.9L198.0,113.9L198.5,114.0L199.0,113.9L199.5,113.8L200.0,113.9L200.5,113.8L201.0,113.9L201.5,113.7L202.0,114.0L202.5,113.9L203.0,113.7L203.5,113.9L204.0,113.9L204.5,113.7L205.0,113.7L205.5,113.8L206.0,113.7L206.5,113.8L207.0,114.0L207.5,113.6L208.0,113.9L208.5,113.8L209.0,113.9L209.5,113.7L210.0,113.7L210.5,113.8L211.0,113.7L211.5,113.8L212.0,113.8L212.5,113.8L213.0,113.8L213.5,113.8L214.0,113.9L214.5,113.7L215.0,113.8L215.5,113.7L216.0,113.5L216.5,113.7L217.0,113.6L217.5,113.5L218.0,113.5L218.5,113.7L219.0,113.5L219.5,113.7L220.0,113.5L220.5,113.6L221.0,113.7L221.5,113.7L222.0,113.7L222.5,113.4L223.0,113.7L223.5,113.7L224.0,113.5L224.5,113.4L225.0,113.5L225.5,113.5L226.0,113.6L226.5,113.4L227.0,113.6L227.5,113.6L228.0,113.3L228.5,113.6L229.0,113.6L229.5,113.4L230.0,113.5L230.5,113.5L231.0,113.4L231.5,113.4L232.0,113.2L232.5,113.3L233.0,113.5L233.5,113.3L234.0,113.4L234.5,113.4L235.0,113.4L235.5,113.5L236.0,113.4L236.5,113.2L237.0,113.3L237.5,113.3L238.0,113.2L238.5,113.1L239.0,113.1L239.5,113.2L240.0,113.1L240.5,113.2L241.0,113.2L241.5,112.8L242.0,112.9L242.5,112.8L243.0,112.9L243.5,112.8L244.0,112.7L244.5,112.7L245.0,112.5L245.5,112.4L246.0,112.5L246.5,112.3L247.0,112.2L247.5,111.8L248.0,111.8L248.5,111.6L249.0,111.2L249.5,111.1L250.0,110.7L250.5,110.3L251.0,109.8L251.5,109.5L252.0,108.8L252.5,107.8L253.0,107.2L253.5,106.5L254.0,105.3L254.5,104.3L255.0,103.3L255.5,101.9L256.0,101.3L256.5,100.5L257.0,99.4L257.5,98.6L258.0,97.8L258.5,97.0L259.0,96.6L259.5,95.8L260.0,95.3L260.5,94.8L261.0,94.4L261.5,94.2L262.0,93.7L262.5,93.7L263.0,93.7L263.5,93.7L264.0,94.2L264.5,94.4L265.0,94.7L265.5,95.4L266.0,95.8L266.5,96.8L267.0,97.3L267.5,98.0L268.0,98.6L268.5,99.4L269.0,100.1L269.5,100.7L270.0,101.7L270.5,102.2L271.0,102.8L271.5,103.6L272.0,104.1L272.5,105.1L273.0,105.2L273.5,105.7L274.0,106.4L274.5,106.7L275.0,107.2L275.5,107.6L276.0,108.0L276.5,108.7L277.0,108.9L277.5,109.5L278.0,109.6L278.5,109.7L279.0,110.2L279.5,110.6L280.0,110.7L280.5,110.8L281.0,111.4L281.5,111.5L282.0,111.5L282.5,111.4L283.0,111.8L283.5,111.9L284.0,112.0L284.5,112.0L285.0,112.0L285.5,112.3L286.0,112.2L286.5,112.2L287.0,112.2L287.5,112.3L288.0,112.1L288.5,112.2L289.0,112.2L289.5,112.3L290.0,112.0L290.5,112.0L291.0,112.0L291.5,111.9L292.0,111.8L292.5,111.9L293.0,111.8L293.5,111.8L294.0,111.7L294.5,111.5L295.0,111.6L295.5,111.6L296.0,111.4L296.5,111.4L297.0,111.3L297.5,111.3L298.0,111.1L298.5,111.2L299.0,111.0L299.5,111.1L300.0,111.0L300.5,111.0L301.0,111.0L301.5,110.7L302.0,111.0L302.5,110.8L303.0,111.0L303.5,111.1L304.0,110.9L304.5,110.9L305.0,111.1L305.5,111.1L306.0,111.3L306.5,111.4L307.0,111.2L307.5,111.3L308.0,111.8L308.5,111.9L309.0,111.8L309.5,112.0L310.0,112.1L310.5,112.2L311.0,112.6L311.5,112.7L312.0,112.8L312.5,113.2L313.0,113.2L313.5,113.7L314.0,113.7L314.5,113.8" stroke="#111" stroke-width="1.3" fill="none" stroke-linejoin="round"/><path d="M183.0,126.2L183.5,126.1L184.0,126.4L184.5,126.4L185.0,126.5L185.5,126.2L186.0,126.1L186.5,126.3L187.0,126.2L187.5,126.2L188.0,126.0L188.5,126.2L189.0,126.0L189.5,126.4L190.0,126.3L190.5,126.4L191.0,126.3L191.5,126.5L192.0,126.3L192.5,126.3L193.0,126.2L193.5,126.2L194.0,126.1L194.5,126.3L195.0,126.1L195.5,126.4L196.0,126.3L196.5,126.5L197.0,126.4L197.5,126.4L198.0,126.5L198.5,126.3L199.0,126.5L199.5,126.4L200.0,126.5L200.5,126.3L201.0,126.4L201.5,126.2L202.0,126.4L202.5,126.1L203.0,126.2L203.5,126.2L204.0,126.2L204.5,126.3L205.0,126.3L205.5,126.3L206.0,126.6L206.5,126.1L207.0,126.4L207.5,126.1L208.0,126.0L208.5,126.2L209.0,126.3L209.5,126.0L210.0,126.1L210.5,126.0L211.0,126.2L211.5,126.4L212.0,126.4L212.5,126.2L213.0,126.2L213.5,126.0L214.0,126.0L214.5,126.2L215.0,126.3L215.5,126.2L216.0,126.1L216.5,125.8L217.0,126.0L217.5,126.1L218.0,126.2L218.5,126.0L219.0,126.1L219.5,126.0L220.0,126.0L220.5,126.0L221.0,125.9L221.5,126.1L222.0,126.0L222.5,126.0L223.0,126.1L223.5,125.9L224.0,126.1L224.5,126.0L225.0,125.9L225.5,126.1L226.0,125.9L226.5,126.1L227.0,125.9L227.5,125.9L228.0,125.8L228.5,125.9L229.0,125.8L229.5,126.0L230.0,125.6L230.5,125.9L231.0,126.0L231.5,125.8L232.0,126.0L232.5,125.9L233.0,125.8L233.5,126.0L234.0,125.9L234.5,126.0L235.0,125.7L235.5,125.7L236.0,125.9L236.5,125.8L237.0,126.0L237.5,125.5L238.0,125.9L238.5,125.7L239.0,125.9L239.5,125.8L240.0,125.8L240.5,125.6L241.0,125.7L241.5,125.8L242.0,125.8L242.5,125.4L243.0,125.4L243.5,125.2L244.0,125.2L244.5,125.1L245.0,125.2L245.5,125.0L246.0,124.7L246.5,124.3L247.0,124.3L247.5,124.0L248.0,123.8L248.5,123.4L249.0,123.1L249.5,122.1L250.0,121.8L250.5,120.9L251.0,120.1L251.5,119.4L252.0,118.4L252.5,117.5L253.0,116.3L253.5,115.6L254.0,114.5L254.5,113.2L255.0,112.3L255.5,111.5L256.0,110.4L256.5,109.6L257.0,109.1L257.5,108.1L258.0,107.8L258.5,107.2L259.0,106.5L259.5,106.1L260.0,106.2L260.5,106.2L261.0,106.4L261.5,107.1L262.0,107.0L262.5,107.6L263.0,108.3L263.5,109.0L264.0,109.6L264.5,110.1L265.0,110.8L265.5,111.4L266.0,111.9L266.5,112.7L267.0,113.1L267.5,113.4L268.0,114.3L268.5,114.6L269.0,115.1L269.5,115.3L270.0,116.2L270.5,116.6L271.0,116.9L271.5,117.1L272.0,117.6L272.5,118.0L273.0,118.4L273.5,118.8L274.0,119.4L274.5,119.6L275.0,119.8L275.5,119.8L276.0,120.6L276.5,120.8L277.0,121.2L277.5,121.1L278.0,121.7L278.5,121.9L279.0,122.4L279.5,122.5L280.0,122.1L280.5,122.5L281.0,122.7L281.5,123.0L282.0,123.2L282.5,123.1L283.0,123.4L283.5,123.4L284.0,123.3L284.5,123.4L285.0,123.3L285.5,123.6L286.0,123.4L286.5,123.4L287.0,123.9L287.5,123.4L288.0,123.6L288.5,123.4L289.0,123.4L289.5,123.3L290.0,123.4L290.5,123.3L291.0,123.5L291.5,123.5L292.0,123.3L292.5,123.6L293.0,123.4L293.5,123.1L294.0,123.4L294.5,123.3L295.0,123.1L295.5,123.6L296.0,123.3L296.5,122.9L297.0,123.1L297.5,123.2L298.0,123.3L298.5,123.3L299.0,123.2L299.5,123.0L300.0,123.2L300.5,123.2L301.0,123.2L301.5,123.4L302.0,123.1L302.5,123.3L303.0,123.2L303.5,123.5L304.0,123.4L304.5,123.6L305.0,123.4L305.5,123.4L306.0,123.9L306.5,123.7L307.0,123.9L307.5,124.1L308.0,123.9L308.5,124.3L309.0,124.2L309.5,124.7L310.0,124.5L310.5,124.8L311.0,124.9L311.5,125.2L312.0,125.2L312.5,125.7L313.0,125.7L313.5,126.0L314.0,125.9L314.5,126.2" stroke="#111" stroke-width="1.25" fill="none" stroke-linejoin="round"/><path d="M183.0,138.8L183.5,138.8L184.0,138.6L184.5,138.6L185.0,138.8L185.5,138.6L186.0,138.6L186.5,138.7L187.0,138.6L187.5,138.4L188.0,139.0L188.5,138.6L189.0,138.5L189.5,138.4L190.0,138.6L190.5,138.6L191.0,138.3L191.5,138.7L192.0,138.4L192.5,138.5L193.0,138.6L193.5,138.4L194.0,138.4L194.5,138.6L195.0,138.7L195.5,138.5L196.0,138.2L196.5,138.5L197.0,138.4L197.5,138.3L198.0,138.3L198.5,138.3L199.0,138.3L199.5,138.5L200.0,138.4L200.5,138.3L201.0,138.3L201.5,138.2L202.0,138.4L202.5,138.2L203.0,138.4L203.5,138.2L204.0,138.5L204.5,138.2L205.0,138.0L205.5,138.1L206.0,138.1L206.5,138.0L207.0,138.3L207.5,138.2L208.0,138.3L208.5,138.0L209.0,138.0L209.5,137.3L210.0,138.0L210.5,137.8L211.0,137.9L211.5,138.2L212.0,137.9L212.5,137.9L213.0,137.8L213.5,137.8L214.0,137.8L214.5,137.8L215.0,138.1L215.5,137.9L216.0,137.9L216.5,138.1L217.0,138.0L217.5,137.9L218.0,137.7L218.5,137.5L219.0,137.9L219.5,137.7L220.0,137.8L220.5,137.8L221.0,137.6L221.5,137.9L222.0,137.9L222.5,137.7L223.0,137.7L223.5,137.5L224.0,137.7L224.5,137.5L225.0,137.9L225.5,137.5L226.0,137.9L226.5,137.7L227.0,137.8L227.5,137.5L228.0,137.5L228.5,137.5L229.0,137.5L229.5,137.4L230.0,137.7L230.5,137.5L231.0,137.7L231.5,137.7L232.0,137.4L232.5,137.6L233.0,137.3L233.5,137.5L234.0,137.3L234.5,137.2L235.0,137.5L235.5,137.5L236.0,137.2L236.5,137.5L237.0,137.5L237.5,137.5L238.0,137.3L238.5,137.6L239.0,137.4L239.5,137.3L240.0,137.4L240.5,137.3L241.0,137.3L241.5,137.1L242.0,137.2L242.5,137.2L243.0,137.2L243.5,137.0L244.0,137.0L244.5,136.8L245.0,136.4L245.5,136.8L246.0,136.6L246.5,136.4L247.0,136.1L247.5,135.8L248.0,135.4L248.5,135.2L249.0,134.7L249.5,134.1L250.0,133.0L250.5,131.8L251.0,130.6L251.5,129.0L252.0,127.8L252.5,126.4L253.0,124.7L253.5,123.6L254.0,122.3L254.5,121.5L255.0,120.7L255.5,119.6L256.0,119.4L256.5,119.0L257.0,118.8L257.5,118.5L258.0,119.0L258.5,119.2L259.0,119.7L259.5,119.8L260.0,119.9L260.5,120.3L261.0,120.9L261.5,121.1L262.0,121.7L262.5,122.0L263.0,122.6L263.5,122.9L264.0,123.5L264.5,124.2L265.0,124.3L265.5,124.6L266.0,124.8L266.5,125.3L267.0,125.3L267.5,126.2L268.0,126.8L268.5,127.2L269.0,127.5L269.5,127.9L270.0,128.3L270.5,128.9L271.0,129.1L271.5,129.4L272.0,130.1L272.5,130.6L273.0,130.7L273.5,131.3L274.0,131.6L274.5,132.0L275.0,132.2L275.5,132.3L276.0,132.8L276.5,132.8L277.0,133.3L277.5,133.6L278.0,133.6L278.5,133.7L279.0,134.1L279.5,134.2L280.0,134.4L280.5,134.2L281.0,134.5L281.5,134.8L282.0,135.0L282.5,135.1L283.0,135.1L283.5,135.1L284.0,135.6L284.5,135.3L285.0,135.4L285.5,135.7L286.0,135.7L286.5,135.5L287.0,135.6L287.5,136.0L288.0,136.1L288.5,135.9L289.0,136.1L289.5,136.0L290.0,136.1L290.5,136.2L291.0,136.3L291.5,136.4L292.0,136.4L292.5,136.4L293.0,136.8L293.5,136.7L294.0,136.7L294.5,136.9L295.0,136.8L295.5,136.9L296.0,136.8L296.5,136.7L297.0,136.9L297.5,137.1L298.0,136.8L298.5,136.9L299.0,136.7L299.5,136.7L300.0,136.8L300.5,136.6L301.0,136.9L301.5,136.9L302.0,136.8L302.5,136.7L303.0,136.9L303.5,136.6L304.0,136.7L304.5,136.9L305.0,136.8L305.5,136.8L306.0,137.1L306.5,137.2L307.0,137.2L307.5,137.2L308.0,137.4L308.5,137.2L309.0,137.7L309.5,137.6L310.0,137.7L310.5,137.9L311.0,138.0L311.5,137.9L312.0,138.4L312.5,138.3L313.0,138.1L313.5,138.6L314.0,138.3L314.5,138.6" stroke="#111" stroke-width="1.25" fill="none" stroke-linejoin="round"/><path d="M183.0,151.9L183.5,151.8L184.0,151.4L184.5,151.3L185.0,151.4L185.5,151.4L186.0,151.6L186.5,151.7L187.0,151.3L187.5,151.3L188.0,151.9L188.5,151.5L189.0,151.7L189.5,151.4L190.0,151.7L190.5,151.3L191.0,151.4L191.5,151.3L192.0,151.5L192.5,151.4L193.0,151.4L193.5,151.4L194.0,151.4L194.5,151.2L195.0,151.2L195.5,151.6L196.0,151.1L196.5,151.5L197.0,151.4L197.5,151.6L198.0,151.1L198.5,151.6L199.0,151.5L199.5,151.5L200.0,151.5L200.5,151.1L201.0,151.5L201.5,151.2L202.0,151.2L202.5,151.2L203.0,151.2L203.5,151.5L204.0,150.9L204.5,151.4L205.0,151.4L205.5,151.5L206.0,151.1L206.5,151.2L207.0,151.0L207.5,151.3L208.0,151.0L208.5,151.4L209.0,151.4L209.5,151.1L210.0,151.5L210.5,151.3L211.0,151.6L211.5,151.3L212.0,151.1L212.5,151.1L213.0,151.1L213.5,151.1L214.0,151.0L214.5,151.1L215.0,151.1L215.5,151.1L216.0,151.0L216.5,151.0L217.0,150.9L217.5,151.4L218.0,151.2L218.5,151.0L219.0,151.0L219.5,151.2L220.0,151.2L220.5,150.9L221.0,151.0L221.5,150.9L222.0,150.8L222.5,151.0L223.0,150.8L223.5,151.0L224.0,150.8L224.5,151.1L225.0,151.1L225.5,151.1L226.0,151.0L226.5,151.0L227.0,151.1L227.5,151.4L228.0,151.2L228.5,151.4L229.0,151.4L229.5,151.2L230.0,151.3L230.5,151.1L231.0,151.4L231.5,150.9L232.0,150.8L232.5,151.1L233.0,150.8L233.5,150.8L234.0,150.9L234.5,151.1L235.0,150.4L235.5,150.6L236.0,150.5L236.5,150.4L237.0,150.4L237.5,149.9L238.0,149.9L238.5,150.0L239.0,149.4L239.5,149.1L240.0,149.0L240.5,148.7L241.0,148.1L241.5,147.7L242.0,147.5L242.5,146.8L243.0,146.3L243.5,145.9L244.0,145.0L244.5,144.9L245.0,144.2L245.5,143.7L246.0,143.3L246.5,142.4L247.0,141.6L247.5,141.0L248.0,140.2L248.5,139.5L249.0,138.4L249.5,137.6L250.0,136.5L250.5,135.8L251.0,135.1L251.5,134.7L252.0,133.6L252.5,132.9L253.0,132.9L253.5,132.1L254.0,132.1L254.5,131.6L255.0,131.4L255.5,131.6L256.0,131.6L256.5,132.1L257.0,132.6L257.5,133.1L258.0,133.2L258.5,133.4L259.0,133.8L259.5,134.3L260.0,134.8L260.5,135.4L261.0,135.5L261.5,136.1L262.0,136.4L262.5,136.9L263.0,137.5L263.5,137.6L264.0,138.1L264.5,139.1L265.0,139.6L265.5,139.8L266.0,140.1L266.5,140.8L267.0,141.5L267.5,142.3L268.0,142.5L268.5,142.7L269.0,143.5L269.5,143.8L270.0,143.9L270.5,144.3L271.0,144.4L271.5,145.1L272.0,145.5L272.5,145.6L273.0,145.7L273.5,145.9L274.0,146.0L274.5,146.3L275.0,146.3L275.5,146.5L276.0,146.8L276.5,146.8L277.0,147.0L277.5,147.1L278.0,146.8L278.5,147.5L279.0,147.2L279.5,147.2L280.0,147.4L280.5,147.4L281.0,147.5L281.5,147.5L282.0,147.9L282.5,148.0L283.0,147.9L283.5,148.1L284.0,147.8L284.5,147.7L285.0,148.4L285.5,148.0L286.0,148.6L286.5,148.4L287.0,148.3L287.5,148.5L288.0,148.4L288.5,148.6L289.0,148.6L289.5,149.0L290.0,148.6L290.5,148.6L291.0,148.6L291.5,148.8L292.0,149.1L292.5,148.7L293.0,149.0L293.5,149.1L294.0,149.1L294.5,148.8L295.0,149.4L295.5,149.3L296.0,149.0L296.5,149.1L297.0,149.2L297.5,149.2L298.0,149.2L298.5,149.9L299.0,149.3L299.5,149.6L300.0,149.4L300.5,149.5L301.0,149.3L301.5,149.3L302.0,149.4L302.5,149.5L303.0,149.6L303.5,149.5L304.0,149.7L304.5,149.6L305.0,149.6L305.5,149.7L306.0,149.7L306.5,150.0L307.0,149.8L307.5,149.6L308.0,149.8L308.5,149.8L309.0,149.9L309.5,150.2L310.0,149.8L310.5,149.8L311.0,149.8L311.5,149.9L312.0,149.7L312.5,149.8L313.0,150.1L313.5,149.8L314.0,150.0L314.5,150.1" stroke="#111" stroke-width="1.25" fill="none" stroke-linejoin="round"/><path d="M183.0,163.3L183.5,163.4L184.0,164.0L184.5,163.5L185.0,163.7L185.5,163.6L186.0,163.9L186.5,163.6L187.0,163.7L187.5,163.5L188.0,163.5L188.5,163.4L189.0,163.5L189.5,163.6L190.0,163.7L190.5,163.4L191.0,163.4L191.5,163.4L192.0,163.8L192.5,163.4L193.0,163.5L193.5,163.7L194.0,163.3L194.5,163.1L195.0,163.3L195.5,163.8L196.0,163.7L196.5,163.7L197.0,163.4L197.5,163.5L198.0,163.3L198.5,163.5L199.0,163.3L199.5,163.5L200.0,163.6L200.5,163.5L201.0,163.2L201.5,163.3L202.0,163.5L202.5,163.4L203.0,164.1L203.5,163.5L204.0,163.3L204.5,163.3L205.0,163.7L205.5,163.6L206.0,163.3L206.5,163.2L207.0,163.4L207.5,163.2L208.0,163.2L208.5,163.4L209.0,163.8L209.5,163.3L210.0,162.9L210.5,163.1L211.0,163.4L211.5,163.2L212.0,163.3L212.5,163.4L213.0,163.2L213.5,163.4L214.0,163.4L214.5,163.6L215.0,163.3L215.5,163.3L216.0,163.5L216.5,163.6L217.0,163.3L217.5,163.2L218.0,162.9L218.5,163.0L219.0,163.1L219.5,163.1L220.0,163.3L220.5,163.3L221.0,163.1L221.5,163.3L222.0,163.1L222.5,163.3L223.0,162.6L223.5,162.8L224.0,162.6L224.5,163.2L225.0,163.2L225.5,163.0L226.0,163.0L226.5,162.8L227.0,162.6L227.5,162.8L228.0,162.8L228.5,162.7L229.0,162.8L229.5,162.8L230.0,162.7L230.5,162.6L231.0,162.7L231.5,162.5L232.0,162.5L232.5,162.5L233.0,162.5L233.5,162.0L234.0,162.2L234.5,162.8L235.0,161.9L235.5,161.9L236.0,161.8L236.5,161.9L237.0,161.2L237.5,161.2L238.0,161.0L238.5,160.6L239.0,160.2L239.5,159.7L240.0,159.6L240.5,158.3L241.0,157.9L241.5,157.3L242.0,156.5L242.5,156.0L243.0,155.1L243.5,154.2L244.0,153.8L244.5,153.2L245.0,152.3L245.5,151.4L246.0,151.1L246.5,150.2L247.0,149.4L247.5,149.3L248.0,148.3L248.5,148.2L249.0,147.1L249.5,146.7L250.0,146.0L250.5,145.4L251.0,144.9L251.5,144.7L252.0,144.3L252.5,144.1L253.0,144.2L253.5,144.2L254.0,144.1L254.5,144.4L255.0,144.6L255.5,145.1L256.0,145.4L256.5,146.0L257.0,146.5L257.5,147.4L258.0,147.7L258.5,148.1L259.0,148.4L259.5,149.4L260.0,149.9L260.5,150.2L261.0,150.9L261.5,150.9L262.0,151.6L262.5,152.4L263.0,152.4L263.5,152.8L264.0,153.5L264.5,153.8L265.0,154.5L265.5,154.5L266.0,155.2L266.5,156.0L267.0,156.0L267.5,156.6L268.0,156.5L268.5,157.0L269.0,157.7L269.5,157.7L270.0,158.3L270.5,158.5L271.0,158.7L271.5,158.8L272.0,159.1L272.5,159.5L273.0,159.5L273.5,159.8L274.0,160.3L274.5,160.4L275.0,160.1L275.5,160.3L276.0,160.4L276.5,160.1L277.0,160.3L277.5,160.5L278.0,160.6L278.5,160.7L279.0,160.6L279.5,160.6L280.0,161.0L280.5,160.8L281.0,161.0L281.5,161.0L282.0,160.9L282.5,161.1L283.0,160.9L283.5,161.3L284.0,161.3L284.5,161.3L285.0,161.0L285.5,161.3L286.0,161.2L286.5,161.1L287.0,161.4L287.5,161.3L288.0,161.1L288.5,161.2L289.0,161.2L289.5,161.5L290.0,161.4L290.5,161.0L291.0,161.0L291.5,160.9L292.0,161.3L292.5,160.9L293.0,160.7L293.5,161.0L294.0,161.1L294.5,161.1L295.0,161.2L295.5,161.0L296.0,160.9L296.5,160.8L297.0,160.8L297.5,160.9L298.0,161.1L298.5,161.0L299.0,160.8L299.5,160.5L300.0,161.0L300.5,161.1L301.0,161.3L301.5,161.2L302.0,161.1L302.5,160.9L303.0,160.7L303.5,161.0L304.0,161.1L304.5,161.0L305.0,161.2L305.5,161.3L306.0,161.3L306.5,161.2L307.0,161.6L307.5,161.8L308.0,161.7L308.5,161.6L309.0,162.2L309.5,162.2L310.0,162.6L310.5,162.9L311.0,162.8L311.5,163.1L312.0,163.0L312.5,163.1L313.0,163.3L313.5,163.8L314.0,163.7L314.5,164.3" stroke="#111" stroke-width="1.25" fill="none" stroke-linejoin="round"/><path d="M183.0,174.7L183.5,174.7L184.0,175.1L184.5,175.1L185.0,175.1L185.5,175.5L186.0,175.1L186.5,175.4L187.0,175.1L187.5,175.4L188.0,175.4L188.5,175.4L189.0,175.1L189.5,175.5L190.0,175.5L190.5,174.5L191.0,175.3L191.5,175.3L192.0,175.1L192.5,175.2L193.0,175.3L193.5,175.1L194.0,175.5L194.5,174.9L195.0,175.2L195.5,175.2L196.0,175.1L196.5,175.2L197.0,175.1L197.5,175.6L198.0,175.5L198.5,174.8L199.0,175.4L199.5,175.4L200.0,175.5L200.5,175.3L201.0,175.1L201.5,175.8L202.0,174.8L202.5,175.1L203.0,175.2L203.5,174.9L204.0,175.2L204.5,175.3L205.0,175.2L205.5,175.4L206.0,175.3L206.5,175.4L207.0,175.2L207.5,175.4L208.0,175.2L208.5,174.8L209.0,175.1L209.5,175.2L210.0,175.2L210.5,175.5L211.0,175.4L211.5,175.4L212.0,174.9L212.5,174.7L213.0,175.1L213.5,175.6L214.0,175.4L214.5,175.2L215.0,175.1L215.5,175.4L216.0,175.6L216.5,175.6L217.0,175.2L217.5,175.5L218.0,175.1L218.5,175.1L219.0,175.0L219.5,175.3L220.0,175.3L220.5,175.2L221.0,175.6L221.5,175.0L222.0,175.0L222.5,174.9L223.0,174.9L223.5,174.9L224.0,174.9L224.5,175.2L225.0,175.0L225.5,175.0L226.0,174.9L226.5,174.8L227.0,175.0L227.5,174.9L228.0,174.4L228.5,174.8L229.0,174.7L229.5,174.1L230.0,174.4L230.5,174.4L231.0,174.2L231.5,174.1L232.0,173.8L232.5,173.5L233.0,173.7L233.5,173.2L234.0,173.2L234.5,172.8L235.0,172.4L235.5,172.3L236.0,172.0L236.5,171.7L237.0,171.0L237.5,170.5L238.0,169.8L238.5,169.3L239.0,168.4L239.5,168.1L240.0,167.2L240.5,167.1L241.0,166.3L241.5,165.8L242.0,165.7L242.5,164.2L243.0,163.8L243.5,163.4L244.0,163.1L244.5,161.9L245.0,161.9L245.5,161.2L246.0,160.6L246.5,159.7L247.0,159.4L247.5,158.7L248.0,158.5L248.5,158.3L249.0,157.9L249.5,157.4L250.0,157.3L250.5,157.5L251.0,156.7L251.5,157.5L252.0,157.2L252.5,157.0L253.0,157.5L253.5,157.7L254.0,157.8L254.5,158.1L255.0,158.9L255.5,159.6L256.0,159.4L256.5,159.9L257.0,160.6L257.5,160.8L258.0,161.7L258.5,161.7L259.0,162.4L259.5,162.6L260.0,163.1L260.5,163.0L261.0,163.9L261.5,164.1L262.0,164.5L262.5,165.5L263.0,165.2L263.5,166.3L264.0,167.0L264.5,167.4L265.0,167.8L265.5,167.9L266.0,168.4L266.5,169.2L267.0,169.9L267.5,169.7L268.0,170.3L268.5,170.6L269.0,170.6L269.5,171.1L270.0,170.9L270.5,171.1L271.0,171.2L271.5,171.5L272.0,171.6L272.5,171.7L273.0,171.5L273.5,171.6L274.0,172.0L274.5,171.9L275.0,171.8L275.5,172.0L276.0,171.5L276.5,172.0L277.0,171.8L277.5,171.9L278.0,171.7L278.5,171.6L279.0,172.0L279.5,171.7L280.0,171.6L280.5,171.9L281.0,171.9L281.5,171.4L282.0,171.9L282.5,171.8L283.0,171.8L283.5,172.3L284.0,171.8L284.5,171.8L285.0,172.4L285.5,172.1L286.0,172.2L286.5,172.4L287.0,172.4L287.5,172.2L288.0,172.3L288.5,172.2L289.0,172.8L289.5,172.4L290.0,172.7L290.5,172.4L291.0,172.9L291.5,172.6L292.0,173.2L292.5,172.6L293.0,172.7L293.5,172.7L294.0,172.6L294.5,173.2L295.0,173.3L295.5,172.9L296.0,173.4L296.5,173.5L297.0,173.2L297.5,173.2L298.0,173.1L298.5,173.2L299.0,173.2L299.5,173.7L300.0,173.3L300.5,173.6L301.0,173.6L301.5,173.5L302.0,173.6L302.5,174.2L303.0,173.9L303.5,173.9L304.0,173.5L304.5,173.7L305.0,174.1L305.5,174.2L306.0,174.1L306.5,174.7L307.0,174.4L307.5,174.7L308.0,174.3L308.5,174.6L309.0,174.8L309.5,175.1L310.0,175.1L310.5,175.2L311.0,175.3L311.5,175.4L312.0,175.2L312.5,175.5L313.0,175.7L313.5,175.4L314.0,176.0L314.5,175.9" stroke="#111" stroke-width="1.3" fill="none" stroke-linejoin="round"/><path d="M183.0,187.5L183.5,187.4L184.0,187.3L184.5,187.3L185.0,187.4L185.5,187.5L186.0,187.1L186.5,187.4L187.0,187.8L187.5,187.7L188.0,187.6L188.5,187.2L189.0,187.1L189.5,187.1L190.0,187.3L190.5,187.1L191.0,186.8L191.5,187.5L192.0,187.5L192.5,187.1L193.0,187.2L193.5,187.4L194.0,187.1L194.5,187.2L195.0,186.7L195.5,186.8L196.0,187.7L196.5,187.5L197.0,187.1L197.5,186.8L198.0,187.1L198.5,187.3L199.0,187.0L199.5,187.1L200.0,187.3L200.5,187.3L201.0,186.9L201.5,186.9L202.0,187.4L202.5,186.7L203.0,187.1L203.5,187.1L204.0,186.7L204.5,186.8L205.0,186.9L205.5,186.6L206.0,187.4L206.5,187.6L207.0,186.7L207.5,187.1L208.0,187.1L208.5,187.3L209.0,187.3L209.5,186.8L210.0,186.8L210.5,186.7L211.0,187.0L211.5,186.8L212.0,186.4L212.5,186.6L213.0,187.0L213.5,186.1L214.0,186.2L214.5,186.4L215.0,186.5L215.5,186.5L216.0,186.7L216.5,186.4L217.0,186.6L217.5,186.5L218.0,186.6L218.5,185.9L219.0,186.4L219.5,186.9L220.0,186.3L220.5,186.4L221.0,186.0L221.5,186.4L222.0,186.7L222.5,185.3L223.0,186.2L223.5,186.3L224.0,186.5L224.5,186.3L225.0,186.3L225.5,185.8L226.0,186.4L226.5,186.0L227.0,186.1L227.5,186.1L228.0,186.4L228.5,185.5L229.0,185.8L229.5,185.8L230.0,185.4L230.5,185.6L231.0,185.0L231.5,185.4L232.0,184.7L232.5,184.4L233.0,184.3L233.5,183.8L234.0,182.7L234.5,182.3L235.0,182.2L235.5,181.3L236.0,180.5L236.5,179.5L237.0,179.3L237.5,178.0L238.0,177.2L238.5,176.3L239.0,174.7L239.5,174.7L240.0,173.9L240.5,172.9L241.0,172.2L241.5,172.0L242.0,171.5L242.5,170.7L243.0,170.0L243.5,170.1L244.0,169.9L244.5,169.2L245.0,169.3L245.5,168.9L246.0,169.1L246.5,169.0L247.0,169.2L247.5,169.8L248.0,169.5L248.5,169.3L249.0,169.9L249.5,170.2L250.0,170.2L250.5,170.8L251.0,170.9L251.5,170.6L252.0,171.8L252.5,171.9L253.0,172.7L253.5,172.8L254.0,172.8L254.5,173.3L255.0,173.8L255.5,174.0L256.0,174.6L256.5,174.6L257.0,175.4L257.5,175.3L258.0,175.8L258.5,176.4L259.0,176.7L259.5,176.7L260.0,177.4L260.5,177.6L261.0,178.1L261.5,179.1L262.0,179.0L262.5,179.4L263.0,180.0L263.5,180.5L264.0,180.1L264.5,180.9L265.0,181.3L265.5,180.9L266.0,181.6L266.5,182.0L267.0,182.3L267.5,182.8L268.0,182.4L268.5,182.6L269.0,183.1L269.5,182.8L270.0,182.4L270.5,182.7L271.0,182.7L271.5,182.7L272.0,182.8L272.5,183.4L273.0,183.1L273.5,183.0L274.0,182.9L274.5,182.9L275.0,182.8L275.5,183.0L276.0,183.3L276.5,182.9L277.0,182.9L277.5,183.2L278.0,183.2L278.5,183.3L279.0,183.0L279.5,183.1L280.0,183.6L280.5,182.8L281.0,183.4L281.5,182.9L282.0,183.3L282.5,183.4L283.0,183.1L283.5,182.5L284.0,183.3L284.5,183.8L285.0,183.5L285.5,183.5L286.0,183.5L286.5,183.7L287.0,183.6L287.5,184.2L288.0,184.0L288.5,184.3L289.0,184.0L289.5,184.5L290.0,184.4L290.5,184.6L291.0,184.8L291.5,184.7L292.0,185.0L292.5,184.9L293.0,185.1L293.5,185.5L294.0,185.5L294.5,185.6L295.0,185.9L295.5,185.6L296.0,185.2L296.5,185.9L297.0,185.7L297.5,186.2L298.0,186.4L298.5,185.9L299.0,186.3L299.5,186.4L300.0,186.3L300.5,186.4L301.0,186.4L301.5,186.7L302.0,186.7L302.5,187.6L303.0,186.6L303.5,186.5L304.0,186.8L304.5,186.9L305.0,187.1L305.5,186.8L306.0,187.3L306.5,186.9L307.0,187.4L307.5,187.3L308.0,187.3L308.5,187.5L309.0,188.0L309.5,187.8L310.0,187.9L310.5,187.6L311.0,188.0L311.5,188.2L312.0,188.0L312.5,188.3L313.0,188.2L313.5,188.4L314.0,188.4L314.5,188.2" stroke="#111" stroke-width="1.3" fill="none" stroke-linejoin="round"/><path d="M183.0,199.9L183.5,199.7L184.0,199.7L184.5,200.0L185.0,199.8L185.5,199.8L186.0,199.3L186.5,199.6L187.0,199.6L187.5,199.4L188.0,199.6L188.5,199.6L189.0,199.4L189.5,199.0L190.0,199.8L190.5,199.7L191.0,200.0L191.5,199.6L192.0,199.9L192.5,200.2L193.0,200.1L193.5,199.8L194.0,199.9L194.5,199.5L195.0,200.0L195.5,200.1L196.0,199.9L196.5,199.6L197.0,199.9L197.5,199.8L198.0,199.5L198.5,199.7L199.0,199.3L199.5,199.8L200.0,199.8L200.5,199.8L201.0,199.7L201.5,199.7L202.0,199.8L202.5,199.8L203.0,199.9L203.5,199.7L204.0,199.2L204.5,200.0L205.0,199.9L205.5,199.8L206.0,199.9L206.5,199.7L207.0,200.1L207.5,199.6L208.0,199.6L208.5,200.1L209.0,199.7L209.5,199.3L210.0,200.4L210.5,200.1L211.0,199.6L211.5,199.2L212.0,200.1L212.5,199.5L213.0,200.1L213.5,199.8L214.0,199.9L214.5,199.9L215.0,199.4L215.5,199.4L216.0,199.9L216.5,199.6L217.0,199.9L217.5,199.7L218.0,200.3L218.5,199.7L219.0,199.5L219.5,199.7L220.0,199.4L220.5,199.8L221.0,199.6L221.5,199.2L222.0,199.7L222.5,199.9L223.0,199.7L223.5,199.5L224.0,198.8L224.5,199.4L225.0,199.2L225.5,199.1L226.0,198.4L226.5,199.0L227.0,198.5L227.5,197.8L228.0,198.0L228.5,197.1L229.0,196.4L229.5,196.1L230.0,195.1L230.5,194.5L231.0,194.2L231.5,193.2L232.0,193.1L232.5,191.7L233.0,190.7L233.5,189.7L234.0,188.7L234.5,188.5L235.0,187.7L235.5,186.7L236.0,186.0L236.5,185.0L237.0,184.8L237.5,183.4L238.0,182.8L238.5,182.6L239.0,181.6L239.5,181.0L240.0,180.6L240.5,180.7L241.0,180.9L241.5,180.2L242.0,180.5L242.5,179.9L243.0,180.1L243.5,180.5L244.0,181.0L244.5,180.5L245.0,181.2L245.5,180.5L246.0,181.8L246.5,181.4L247.0,181.9L247.5,182.0L248.0,182.3L248.5,182.5L249.0,182.9L249.5,183.2L250.0,184.0L250.5,183.9L251.0,184.3L251.5,185.3L252.0,185.3L252.5,185.8L253.0,186.5L253.5,186.3L254.0,187.2L254.5,187.4L255.0,188.0L255.5,187.8L256.0,188.4L256.5,189.8L257.0,189.1L257.5,189.2L258.0,189.7L258.5,190.2L259.0,191.0L259.5,191.1L260.0,190.6L260.5,191.2L261.0,191.4L261.5,191.4L262.0,191.7L262.5,191.7L263.0,191.3L263.5,191.7L264.0,191.5L264.5,191.5L265.0,191.8L265.5,191.8L266.0,192.0L266.5,191.3L267.0,191.6L267.5,192.5L268.0,191.6L268.5,192.7L269.0,191.3L269.5,191.9L270.0,191.9L270.5,191.8L271.0,191.6L271.5,191.5L272.0,191.2L272.5,190.8L273.0,190.5L273.5,191.7L274.0,191.4L274.5,191.3L275.0,191.2L275.5,191.4L276.0,192.0L276.5,191.6L277.0,192.2L277.5,192.0L278.0,191.9L278.5,192.2L279.0,192.3L279.5,192.9L280.0,192.5L280.5,193.1L281.0,192.9L281.5,193.8L282.0,193.0L282.5,193.3L283.0,193.0L283.5,193.9L284.0,193.3L284.5,193.7L285.0,194.0L285.5,194.3L286.0,194.3L286.5,194.2L287.0,194.4L287.5,193.7L288.0,195.0L288.5,194.8L289.0,195.5L289.5,194.6L290.0,194.8L290.5,194.9L291.0,195.1L291.5,195.6L292.0,195.4L292.5,195.5L293.0,195.5L293.5,195.9L294.0,195.9L294.5,195.7L295.0,196.4L295.5,196.0L296.0,195.8L296.5,196.5L297.0,196.4L297.5,196.3L298.0,196.2L298.5,196.2L299.0,196.6L299.5,196.8L300.0,196.7L300.5,197.0L301.0,197.3L301.5,197.5L302.0,197.6L302.5,197.7L303.0,197.8L303.5,197.9L304.0,197.7L304.5,197.8L305.0,197.9L305.5,198.2L306.0,198.6L306.5,198.1L307.0,198.3L307.5,198.5L308.0,198.5L308.5,198.4L309.0,198.6L309.5,199.2L310.0,199.1L310.5,199.3L311.0,199.2L311.5,200.0L312.0,199.4L312.5,199.4L313.0,200.0L313.5,199.5L314.0,199.8L314.5,199.3" stroke="#111" stroke-width="1.35" fill="none" stroke-linejoin="round"/><path d="M183.0,212.3L183.5,211.5L184.0,212.3L184.5,212.3L185.0,211.9L185.5,212.3L186.0,211.7L186.5,212.6L187.0,212.3L187.5,212.8L188.0,211.9L188.5,213.0L189.0,212.4L189.5,212.2L190.0,212.0L190.5,212.0L191.0,212.6L191.5,212.1L192.0,212.6L192.5,212.6L193.0,212.6L193.5,212.4L194.0,212.1L194.5,213.0L195.0,212.5L195.5,212.0L196.0,211.9L196.5,213.3L197.0,213.6L197.5,213.1L198.0,213.1L198.5,212.4L199.0,212.1L199.5,212.3L200.0,212.8L200.5,214.0L201.0,213.4L201.5,212.8L202.0,213.2L202.5,213.4L203.0,213.4L203.5,212.5L204.0,212.1L204.5,211.6L205.0,212.1L205.5,212.3L206.0,213.1L206.5,213.3L207.0,212.2L207.5,213.6L208.0,212.7L208.5,211.9L209.0,212.4L209.5,212.1L210.0,212.7L210.5,213.1L211.0,213.4L211.5,212.6L212.0,212.5L212.5,213.1L213.0,213.0L213.5,212.1L214.0,212.9L214.5,211.5L215.0,212.6L215.5,212.1L216.0,212.0L216.5,211.5L217.0,211.4L217.5,212.1L218.0,210.9L218.5,210.8L219.0,211.0L219.5,209.3L220.0,209.5L220.5,209.3L221.0,209.1L221.5,208.5L222.0,208.4L222.5,208.2L223.0,207.1L223.5,206.2L224.0,205.2L224.5,205.0L225.0,204.7L225.5,203.6L226.0,203.5L226.5,202.6L227.0,203.1L227.5,201.6L228.0,201.6L228.5,201.4L229.0,200.2L229.5,199.6L230.0,199.3L230.5,198.4L231.0,197.3L231.5,197.9L232.0,197.7L232.5,197.1L233.0,196.8L233.5,196.1L234.0,197.2L234.5,195.5L235.0,194.6L235.5,195.5L236.0,193.8L236.5,194.8L237.0,194.5L237.5,195.2L238.0,194.5L238.5,194.8L239.0,194.0L239.5,194.0L240.0,193.7L240.5,193.2L241.0,193.9L241.5,193.5L242.0,194.4L242.5,194.8L243.0,194.9L243.5,195.7L244.0,195.1L244.5,195.3L245.0,194.9L245.5,195.7L246.0,194.5L246.5,195.4L247.0,196.1L247.5,196.1L248.0,196.4L248.5,196.1L249.0,196.1L249.5,197.0L250.0,197.3L250.5,197.6L251.0,198.7L251.5,198.1L252.0,198.2L252.5,198.9L253.0,199.1L253.5,198.9L254.0,198.7L254.5,200.0L255.0,199.4L255.5,200.2L256.0,200.6L256.5,200.4L257.0,201.3L257.5,201.6L258.0,200.6L258.5,201.3L259.0,201.6L259.5,201.6L260.0,201.7L260.5,200.8L261.0,201.8L261.5,201.6L262.0,202.6L262.5,202.3L263.0,202.4L263.5,202.5L264.0,202.3L264.5,201.7L265.0,202.3L265.5,201.5L266.0,202.6L266.5,202.4L267.0,201.6L267.5,202.4L268.0,200.6L268.5,201.2L269.0,202.3L269.5,201.0L270.0,201.9L270.5,202.1L271.0,202.2L271.5,201.2L272.0,201.7L272.5,202.1L273.0,203.0L273.5,202.1L274.0,201.4L274.5,201.7L275.0,203.0L275.5,202.4L276.0,203.1L276.5,202.9L277.0,204.0L277.5,203.9L278.0,203.2L278.5,204.5L279.0,204.9L279.5,204.2L280.0,204.6L280.5,205.2L281.0,205.3L281.5,205.4L282.0,205.2L282.5,206.0L283.0,206.5L283.5,207.3L284.0,207.3L284.5,207.7L285.0,207.2L285.5,207.2L286.0,207.6L286.5,207.3L287.0,208.1L287.5,208.1L288.0,208.2L288.5,207.8L289.0,208.3L289.5,207.8L290.0,207.9L290.5,208.9L291.0,209.6L291.5,208.8L292.0,209.4L292.5,209.2L293.0,209.0L293.5,209.4L294.0,209.9L294.5,208.9L295.0,210.2L295.5,209.1L296.0,210.3L296.5,210.6L297.0,209.8L297.5,210.1L298.0,209.3L298.5,210.3L299.0,211.0L299.5,211.1L300.0,210.5L300.5,211.0L301.0,211.3L301.5,210.8L302.0,212.6L302.5,211.2L303.0,211.6L303.5,210.5L304.0,212.0L304.5,210.5L305.0,210.9L305.5,211.9L306.0,211.5L306.5,211.9L307.0,212.7L307.5,211.9L308.0,211.9L308.5,212.2L309.0,211.3L309.5,212.1L310.0,212.7L310.5,212.6L311.0,212.7L311.5,212.9L312.0,211.8L312.5,213.3L313.0,213.0L313.5,212.4L314.0,212.6L314.5,212.3" stroke="#111" stroke-width="1.4" fill="none" stroke-linejoin="round"/><rect x="182.5" y="17.55" width="132.8" height="195.64999999999998" fill="none" stroke="#262626" stroke-width="1.35"/><text x="182.6" y="224.2" font-size="8.3" text-anchor="middle" fill="#1a1a1a" stroke="#1a1a1a" stroke-width="0.1">0.55</text><text x="207.3" y="224.2" font-size="8.3" text-anchor="middle" fill="#1a1a1a" stroke="#1a1a1a" stroke-width="0.1">0.60</text><text x="232.0" y="224.2" font-size="8.3" text-anchor="middle" fill="#1a1a1a" stroke="#1a1a1a" stroke-width="0.1">0.65</text><text x="256.7" y="224.2" font-size="8.3" text-anchor="middle" fill="#1a1a1a" stroke="#1a1a1a" stroke-width="0.1">0.70</text><text x="281.4" y="224.2" font-size="8.3" text-anchor="middle" fill="#1a1a1a" stroke="#1a1a1a" stroke-width="0.1">0.75</text><text x="306.1" y="224.2" font-size="8.3" text-anchor="middle" fill="#1a1a1a" stroke="#1a1a1a" stroke-width="0.1">0.80</text><text x="183.2" y="38.4" font-size="8.2" letter-spacing="-0.2" fill="#1a1a1a" stroke="#1a1a1a" stroke-width="0.05">15 K</text><text x="183.2" y="50.7" font-size="8.2" letter-spacing="-0.2" fill="#1a1a1a" stroke="#1a1a1a" stroke-width="0.05">30 K</text><text x="183.2" y="63.1" font-size="8.2" letter-spacing="-0.2" fill="#1a1a1a" stroke="#1a1a1a" stroke-width="0.05">50 K</text><text x="183.2" y="75.4" font-size="8.2" letter-spacing="-0.2" fill="#1a1a1a" stroke="#1a1a1a" stroke-width="0.05">70 K</text><text x="183.2" y="87.7" font-size="8.2" letter-spacing="-0.2" fill="#1a1a1a" stroke="#1a1a1a" stroke-width="0.05">90 K</text><text x="183.2" y="100.0" font-size="8.2" letter-spacing="-0.2" fill="#1a1a1a" stroke="#1a1a1a" stroke-width="0.05">110 K</text><text x="183.2" y="112.4" font-size="8.2" letter-spacing="-0.2" fill="#1a1a1a" stroke="#1a1a1a" stroke-width="0.05">130 K</text><text x="183.2" y="124.7" font-size="8.2" letter-spacing="-0.2" fill="#1a1a1a" stroke="#1a1a1a" stroke-width="0.05">150 K</text><text x="183.2" y="137.0" font-size="8.2" letter-spacing="-0.2" fill="#1a1a1a" stroke="#1a1a1a" stroke-width="0.05">170 K</text><text x="183.2" y="149.4" font-size="8.2" letter-spacing="-0.2" fill="#1a1a1a" stroke="#1a1a1a" stroke-width="0.05">190 K</text><text x="183.2" y="161.7" font-size="8.2" letter-spacing="-0.2" fill="#1a1a1a" stroke="#1a1a1a" stroke-width="0.05">210 K</text><text x="183.2" y="174.0" font-size="8.2" letter-spacing="-0.2" fill="#1a1a1a" stroke="#1a1a1a" stroke-width="0.05">230 K</text><text x="183.2" y="186.4" font-size="8.2" letter-spacing="-0.2" fill="#1a1a1a" stroke="#1a1a1a" stroke-width="0.05">250 K</text><text x="183.2" y="198.7" font-size="8.2" letter-spacing="-0.2" fill="#1a1a1a" stroke="#1a1a1a" stroke-width="0.05">270 K</text><text x="183.2" y="211.0" font-size="8.2" letter-spacing="-0.2" fill="#1a1a1a" stroke="#1a1a1a" stroke-width="0.05">290 K</text><path d="M351.65,17.55v1.8M351.65,213.2v-1.8M364.00,17.55v3.4M364.00,213.2v-3.4M376.35,17.55v1.8M376.35,213.2v-1.8M388.70,17.55v3.4M388.70,213.2v-3.4M401.05,17.55v1.8M401.05,213.2v-1.8M413.40,17.55v3.4M413.40,213.2v-3.4M425.75,17.55v1.8M425.75,213.2v-1.8M438.10,17.55v3.4M438.10,213.2v-3.4M450.45,17.55v1.8M450.45,213.2v-1.8M462.80,17.55v3.4M462.80,213.2v-3.4" stroke="#222" stroke-width="1" fill="none"/><path d="M339.5,40.5L340.0,40.5L340.5,40.5L341.0,40.5L341.5,40.5L342.0,40.5L342.5,40.5L343.0,40.5L343.5,40.5L344.0,40.4L344.5,40.4L345.0,40.4L345.5,40.4L346.0,40.4L346.5,40.4L347.0,40.4L347.5,40.4L348.0,40.4L348.5,40.4L349.0,40.4L349.5,40.4L350.0,40.4L350.5,40.4L351.0,40.3L351.5,40.3L352.0,40.3L352.5,40.3L353.0,40.3L353.5,40.3L354.0,40.3L354.5,40.2L355.0,40.2L355.5,40.2L356.0,40.2L356.5,40.2L357.0,40.1L357.5,40.1L358.0,40.1L358.5,40.0L359.0,40.0L359.5,40.0L360.0,39.9L360.5,39.9L361.0,39.9L361.5,39.8L362.0,39.8L362.5,39.7L363.0,39.7L363.5,39.7L364.0,39.6L364.5,39.6L365.0,39.5L365.5,39.5L366.0,39.4L366.5,39.4L367.0,39.4L367.5,39.3L368.0,39.3L368.5,39.2L369.0,39.2L369.5,39.1L370.0,39.1L370.5,39.0L371.0,39.0L371.5,38.9L372.0,38.9L372.5,38.8L373.0,38.8L373.5,38.7L374.0,38.7L374.5,38.6L375.0,38.6L375.5,38.5L376.0,38.5L376.5,38.5L377.0,38.4L377.5,38.4L378.0,38.3L378.5,38.3L379.0,38.2L379.5,38.2L380.0,38.2L380.5,38.1L381.0,38.1L381.5,38.0L382.0,38.0L382.5,38.0L383.0,37.9L383.5,37.9L384.0,37.8L384.5,37.8L385.0,37.8L385.5,37.7L386.0,37.7L386.5,37.7L387.0,37.6L387.5,37.6L388.0,37.5L388.5,37.5L389.0,37.4L389.5,37.4L390.0,37.3L390.5,37.3L391.0,37.3L391.5,37.2L392.0,37.1L392.5,37.1L393.0,37.0L393.5,37.0L394.0,36.9L394.5,36.7L395.0,36.6L395.5,36.4L396.0,36.2L396.5,36.0L397.0,35.8L397.5,35.5L398.0,35.2L398.5,34.9L399.0,34.5L399.5,34.1L400.0,33.7L400.5,33.3L401.0,32.8L401.5,32.2L402.0,31.5L402.5,30.8L403.0,30.0L403.5,29.2L404.0,28.3L404.5,27.4L405.0,26.6L405.5,25.8L406.0,25.0L406.5,24.3L407.0,23.7L407.5,23.1L408.0,22.6L408.5,22.1L409.0,21.8L409.5,21.5L410.0,21.4L410.5,21.3L411.0,21.4L411.5,21.5L412.0,21.7L412.5,21.8L413.0,21.9L413.5,21.8L414.0,21.6L414.5,21.4L415.0,21.1L415.5,20.8L416.0,20.4L416.5,20.1L417.0,19.9L417.5,19.7L418.0,19.7L418.5,19.8L419.0,20.1L419.5,20.6L420.0,21.3L420.5,22.2L421.0,23.3L421.5,24.5L422.0,25.9L422.5,27.2L423.0,28.6L423.5,29.9L424.0,31.1L424.5,32.2L425.0,33.2L425.5,34.1L426.0,34.9L426.5,35.6L427.0,36.1L427.5,36.7L428.0,37.1L428.5,37.5L429.0,37.8L429.5,38.1L430.0,38.4L430.5,38.6L431.0,38.8L431.5,38.9L432.0,39.1L432.5,39.2L433.0,39.3L433.5,39.4L434.0,39.5L434.5,39.5L435.0,39.6L435.5,39.6L436.0,39.6L436.5,39.7L437.0,39.7L437.5,39.7L438.0,39.7L438.5,39.8L439.0,39.8L439.5,39.8L440.0,39.8L440.5,39.8L441.0,39.9L441.5,39.9L442.0,39.9L442.5,40.0L443.0,40.0L443.5,40.0L444.0,40.0L444.5,40.1L445.0,40.1L445.5,40.1L446.0,40.1L446.5,40.1L447.0,40.1L447.5,40.1L448.0,40.1L448.5,40.0L449.0,40.0L449.5,39.9L450.0,39.7L450.5,39.6L451.0,39.4L451.5,39.2L452.0,38.9L452.5,38.6L453.0,38.3L453.5,38.0L454.0,37.7L454.5,37.5L455.0,37.3L455.5,37.1L456.0,37.1L456.5,37.1L457.0,37.2L457.5,37.4L458.0,37.7L458.5,37.9L459.0,38.2L459.5,38.5L460.0,38.7L460.5,38.9L461.0,39.1L461.5,39.2L462.0,39.3L462.5,39.4L463.0,39.5L463.5,39.6L464.0,39.6L464.5,39.7L465.0,39.7L465.5,39.7L466.0,39.8L466.5,39.8L467.0,39.9L467.5,39.9L468.0,39.9L468.5,40.0L469.0,40.0L469.5,40.0L470.0,40.0L470.5,40.1" stroke="#111" stroke-width="1.3" fill="none" stroke-linejoin="round"/><path d="M339.5,52.8L340.0,52.8L340.5,52.7L341.0,52.7L341.5,52.7L342.0,52.7L342.5,52.6L343.0,52.6L343.5,52.6L344.0,52.6L344.5,52.5L345.0,52.5L345.5,52.5L346.0,52.5L346.5,52.4L347.0,52.4L347.5,52.4L348.0,52.4L348.5,52.3L349.0,52.3L349.5,52.3L350.0,52.2L350.5,52.2L351.0,52.2L351.5,52.2L352.0,52.1L352.5,52.1L353.0,52.1L353.5,52.0L354.0,52.0L354.5,52.0L355.0,52.0L355.5,51.9L356.0,51.9L356.5,51.9L357.0,51.8L357.5,51.8L358.0,51.8L358.5,51.7L359.0,51.7L359.5,51.7L360.0,51.6L360.5,51.6L361.0,51.6L361.5,51.6L362.0,51.5L362.5,51.5L363.0,51.5L363.5,51.4L364.0,51.4L364.5,51.4L365.0,51.3L365.5,51.3L366.0,51.3L366.5,51.2L367.0,51.2L367.5,51.2L368.0,51.1L368.5,51.1L369.0,51.1L369.5,51.0L370.0,51.0L370.5,51.0L371.0,50.9L371.5,50.9L372.0,50.8L372.5,50.8L373.0,50.8L373.5,50.7L374.0,50.7L374.5,50.6L375.0,50.6L375.5,50.6L376.0,50.5L376.5,50.5L377.0,50.4L377.5,50.4L378.0,50.3L378.5,50.3L379.0,50.2L379.5,50.2L380.0,50.1L380.5,50.1L381.0,50.0L381.5,49.9L382.0,49.9L382.5,49.8L383.0,49.8L383.5,49.7L384.0,49.7L384.5,49.6L385.0,49.5L385.5,49.5L386.0,49.4L386.5,49.3L387.0,49.3L387.5,49.2L388.0,49.1L388.5,49.1L389.0,49.0L389.5,48.9L390.0,48.8L390.5,48.8L391.0,48.7L391.5,48.6L392.0,48.5L392.5,48.4L393.0,48.3L393.5,48.2L394.0,48.1L394.5,48.0L395.0,47.9L395.5,47.7L396.0,47.5L396.5,47.3L397.0,47.1L397.5,46.8L398.0,46.5L398.5,46.1L399.0,45.7L399.5,45.3L400.0,44.8L400.5,44.4L401.0,43.9L401.5,43.4L402.0,43.0L402.5,42.5L403.0,42.1L403.5,41.6L404.0,41.2L404.5,40.9L405.0,40.6L405.5,40.4L406.0,40.2L406.5,40.0L407.0,39.9L407.5,39.7L408.0,39.6L408.5,39.5L409.0,39.4L409.5,39.3L410.0,39.1L410.5,38.9L411.0,38.6L411.5,38.2L412.0,37.8L412.5,37.3L413.0,36.8L413.5,36.1L414.0,35.5L414.5,34.8L415.0,34.2L415.5,33.6L416.0,33.2L416.5,32.8L417.0,32.7L417.5,32.7L418.0,32.9L418.5,33.2L419.0,33.7L419.5,34.3L420.0,35.0L420.5,35.9L421.0,36.8L421.5,37.7L422.0,38.8L422.5,39.9L423.0,41.0L423.5,42.1L424.0,43.3L424.5,44.4L425.0,45.4L425.5,46.3L426.0,47.1L426.5,47.8L427.0,48.4L427.5,48.9L428.0,49.3L428.5,49.7L429.0,50.1L429.5,50.4L430.0,50.7L430.5,50.9L431.0,51.2L431.5,51.4L432.0,51.6L432.5,51.8L433.0,52.0L433.5,52.1L434.0,52.2L434.5,52.3L435.0,52.3L435.5,52.4L436.0,52.4L436.5,52.4L437.0,52.4L437.5,52.4L438.0,52.4L438.5,52.4L439.0,52.3L439.5,52.3L440.0,52.3L440.5,52.3L441.0,52.3L441.5,52.3L442.0,52.3L442.5,52.2L443.0,52.2L443.5,52.2L444.0,52.2L444.5,52.2L445.0,52.1L445.5,52.1L446.0,52.1L446.5,52.0L447.0,52.0L447.5,51.9L448.0,51.9L448.5,51.8L449.0,51.7L449.5,51.6L450.0,51.5L450.5,51.4L451.0,51.2L451.5,51.0L452.0,50.7L452.5,50.4L453.0,50.2L453.5,49.9L454.0,49.6L454.5,49.4L455.0,49.2L455.5,49.1L456.0,49.1L456.5,49.1L457.0,49.3L457.5,49.5L458.0,49.8L458.5,50.1L459.0,50.4L459.5,50.7L460.0,50.9L460.5,51.1L461.0,51.3L461.5,51.4L462.0,51.5L462.5,51.6L463.0,51.7L463.5,51.8L464.0,51.9L464.5,51.9L465.0,52.0L465.5,52.0L466.0,52.0L466.5,52.1L467.0,52.1L467.5,52.2L468.0,52.2L468.5,52.2L469.0,52.3L469.5,52.3L470.0,52.3L470.5,52.4" stroke="#111" stroke-width="1.3" fill="none" stroke-linejoin="round"/><path d="M339.5,64.8L340.0,64.7L340.5,64.7L341.0,64.7L341.5,64.7L342.0,64.6L342.5,64.6L343.0,64.6L343.5,64.5L344.0,64.5L344.5,64.4L345.0,64.4L345.5,64.4L346.0,64.3L346.5,64.3L347.0,64.3L347.5,64.2L348.0,64.2L348.5,64.2L349.0,64.1L349.5,64.1L350.0,64.1L350.5,64.0L351.0,64.0L351.5,64.0L352.0,63.9L352.5,63.9L353.0,63.8L353.5,63.8L354.0,63.8L354.5,63.7L355.0,63.7L355.5,63.7L356.0,63.6L356.5,63.6L357.0,63.5L357.5,63.5L358.0,63.5L358.5,63.4L359.0,63.4L359.5,63.4L360.0,63.3L360.5,63.3L361.0,63.2L361.5,63.2L362.0,63.2L362.5,63.1L363.0,63.1L363.5,63.0L364.0,63.0L364.5,63.0L365.0,62.9L365.5,62.9L366.0,62.8L366.5,62.8L367.0,62.7L367.5,62.7L368.0,62.7L368.5,62.6L369.0,62.6L369.5,62.5L370.0,62.5L370.5,62.5L371.0,62.4L371.5,62.4L372.0,62.3L372.5,62.3L373.0,62.2L373.5,62.2L374.0,62.2L374.5,62.1L375.0,62.1L375.5,62.0L376.0,62.0L376.5,61.9L377.0,61.9L377.5,61.9L378.0,61.8L378.5,61.8L379.0,61.7L379.5,61.7L380.0,61.6L380.5,61.6L381.0,61.6L381.5,61.5L382.0,61.5L382.5,61.4L383.0,61.4L383.5,61.3L384.0,61.3L384.5,61.2L385.0,61.2L385.5,61.2L386.0,61.1L386.5,61.1L387.0,61.0L387.5,61.0L388.0,60.9L388.5,60.9L389.0,60.8L389.5,60.8L390.0,60.7L390.5,60.7L391.0,60.6L391.5,60.6L392.0,60.5L392.5,60.5L393.0,60.5L393.5,60.4L394.0,60.4L394.5,60.3L395.0,60.3L395.5,60.2L396.0,60.2L396.5,60.2L397.0,60.1L397.5,60.1L398.0,60.0L398.5,60.0L399.0,59.9L399.5,59.8L400.0,59.7L400.5,59.6L401.0,59.5L401.5,59.3L402.0,59.2L402.5,59.1L403.0,59.0L403.5,58.9L404.0,58.7L404.5,58.6L405.0,58.5L405.5,58.3L406.0,58.2L406.5,58.0L407.0,57.8L407.5,57.6L408.0,57.4L408.5,57.1L409.0,56.8L409.5,56.5L410.0,56.0L410.5,55.5L411.0,54.9L411.5,54.1L412.0,53.2L412.5,52.3L413.0,51.3L413.5,50.3L414.0,49.3L414.5,48.5L415.0,47.7L415.5,47.0L416.0,46.4L416.5,46.0L417.0,45.6L417.5,45.4L418.0,45.3L418.5,45.4L419.0,45.7L419.5,46.2L420.0,46.8L420.5,47.5L421.0,48.4L421.5,49.4L422.0,50.4L422.5,51.5L423.0,52.6L423.5,53.7L424.0,54.7L424.5,55.7L425.0,56.6L425.5,57.5L426.0,58.2L426.5,58.9L427.0,59.5L427.5,60.0L428.0,60.4L428.5,60.8L429.0,61.1L429.5,61.4L430.0,61.7L430.5,62.0L431.0,62.2L431.5,62.4L432.0,62.6L432.5,62.8L433.0,63.0L433.5,63.2L434.0,63.3L434.5,63.4L435.0,63.5L435.5,63.6L436.0,63.7L436.5,63.8L437.0,63.8L437.5,63.9L438.0,63.9L438.5,63.9L439.0,64.0L439.5,64.0L440.0,64.0L440.5,64.0L441.0,64.0L441.5,64.0L442.0,64.0L442.5,64.0L443.0,63.9L443.5,63.9L444.0,63.9L444.5,63.8L445.0,63.8L445.5,63.8L446.0,63.7L446.5,63.7L447.0,63.6L447.5,63.6L448.0,63.5L448.5,63.5L449.0,63.4L449.5,63.3L450.0,63.2L450.5,63.1L451.0,63.0L451.5,62.9L452.0,62.7L452.5,62.5L453.0,62.4L453.5,62.2L454.0,62.1L454.5,61.9L455.0,61.9L455.5,61.9L456.0,61.9L456.5,62.0L457.0,62.2L457.5,62.4L458.0,62.6L458.5,62.8L459.0,63.0L459.5,63.2L460.0,63.4L460.5,63.6L461.0,63.7L461.5,63.9L462.0,64.0L462.5,64.1L463.0,64.1L463.5,64.2L464.0,64.3L464.5,64.4L465.0,64.4L465.5,64.5L466.0,64.6L466.5,64.6L467.0,64.7L467.5,64.7L468.0,64.8L468.5,64.9L469.0,64.9L469.5,65.0L470.0,65.0L470.5,65.0" stroke="#111" stroke-width="1.3" fill="none" stroke-linejoin="round"/><path d="M339.5,76.8L340.0,76.8L340.5,76.8L341.0,76.7L341.5,76.7L342.0,76.7L342.5,76.7L343.0,76.7L343.5,76.6L344.0,76.6L344.5,76.6L345.0,76.6L345.5,76.6L346.0,76.5L346.5,76.5L347.0,76.5L347.5,76.5L348.0,76.5L348.5,76.4L349.0,76.4L349.5,76.4L350.0,76.4L350.5,76.4L351.0,76.3L351.5,76.3L352.0,76.3L352.5,76.3L353.0,76.3L353.5,76.2L354.0,76.2L354.5,76.2L355.0,76.2L355.5,76.2L356.0,76.1L356.5,76.1L357.0,76.1L357.5,76.1L358.0,76.1L358.5,76.0L359.0,76.0L359.5,76.0L360.0,76.0L360.5,76.0L361.0,75.9L361.5,75.9L362.0,75.9L362.5,75.9L363.0,75.9L363.5,75.8L364.0,75.8L364.5,75.8L365.0,75.8L365.5,75.8L366.0,75.7L366.5,75.7L367.0,75.7L367.5,75.7L368.0,75.6L368.5,75.6L369.0,75.6L369.5,75.6L370.0,75.6L370.5,75.5L371.0,75.5L371.5,75.5L372.0,75.5L372.5,75.5L373.0,75.4L373.5,75.4L374.0,75.4L374.5,75.4L375.0,75.3L375.5,75.3L376.0,75.3L376.5,75.3L377.0,75.3L377.5,75.2L378.0,75.2L378.5,75.2L379.0,75.2L379.5,75.1L380.0,75.1L380.5,75.1L381.0,75.1L381.5,75.0L382.0,75.0L382.5,75.0L383.0,75.0L383.5,75.0L384.0,74.9L384.5,74.9L385.0,74.9L385.5,74.9L386.0,74.8L386.5,74.8L387.0,74.8L387.5,74.8L388.0,74.7L388.5,74.7L389.0,74.7L389.5,74.7L390.0,74.6L390.5,74.6L391.0,74.6L391.5,74.6L392.0,74.5L392.5,74.5L393.0,74.5L393.5,74.4L394.0,74.4L394.5,74.3L395.0,74.3L395.5,74.3L396.0,74.2L396.5,74.2L397.0,74.1L397.5,74.1L398.0,74.0L398.5,73.9L399.0,73.9L399.5,73.8L400.0,73.8L400.5,73.7L401.0,73.6L401.5,73.6L402.0,73.5L402.5,73.4L403.0,73.3L403.5,73.3L404.0,73.1L404.5,73.0L405.0,72.9L405.5,72.7L406.0,72.5L406.5,72.3L407.0,72.0L407.5,71.7L408.0,71.3L408.5,70.9L409.0,70.3L409.5,69.7L410.0,69.0L410.5,68.2L411.0,67.3L411.5,66.4L412.0,65.4L412.5,64.4L413.0,63.3L413.5,62.2L414.0,61.2L414.5,60.3L415.0,59.4L415.5,58.7L416.0,58.2L416.5,57.9L417.0,57.7L417.5,57.7L418.0,57.8L418.5,58.1L419.0,58.6L419.5,59.2L420.0,60.0L420.5,60.9L421.0,62.0L421.5,63.1L422.0,64.2L422.5,65.3L423.0,66.4L423.5,67.5L424.0,68.5L424.5,69.5L425.0,70.4L425.5,71.2L426.0,72.0L426.5,72.6L427.0,73.1L427.5,73.5L428.0,73.9L428.5,74.2L429.0,74.5L429.5,74.7L430.0,74.9L430.5,75.0L431.0,75.2L431.5,75.3L432.0,75.4L432.5,75.5L433.0,75.6L433.5,75.7L434.0,75.8L434.5,75.8L435.0,75.9L435.5,75.9L436.0,75.9L436.5,75.9L437.0,75.9L437.5,75.9L438.0,75.9L438.5,75.9L439.0,75.8L439.5,75.8L440.0,75.8L440.5,75.8L441.0,75.8L441.5,75.8L442.0,75.7L442.5,75.7L443.0,75.7L443.5,75.7L444.0,75.7L444.5,75.6L445.0,75.6L445.5,75.6L446.0,75.6L446.5,75.5L447.0,75.5L447.5,75.5L448.0,75.5L448.5,75.4L449.0,75.4L449.5,75.3L450.0,75.3L450.5,75.2L451.0,75.1L451.5,75.0L452.0,74.9L452.5,74.7L453.0,74.6L453.5,74.5L454.0,74.4L454.5,74.3L455.0,74.3L455.5,74.4L456.0,74.4L456.5,74.5L457.0,74.7L457.5,74.8L458.0,75.0L458.5,75.2L459.0,75.4L459.5,75.5L460.0,75.7L460.5,75.8L461.0,76.0L461.5,76.1L462.0,76.2L462.5,76.3L463.0,76.4L463.5,76.5L464.0,76.6L464.5,76.7L465.0,76.8L465.5,76.8L466.0,76.9L466.5,77.0L467.0,77.1L467.5,77.2L468.0,77.3L468.5,77.3L469.0,77.4L469.5,77.5L470.0,77.6L470.5,77.6" stroke="#111" stroke-width="1.3" fill="none" stroke-linejoin="round"/><path d="M339.5,89.6L340.0,89.6L340.5,89.5L341.0,89.5L341.5,89.5L342.0,89.5L342.5,89.4L343.0,89.4L343.5,89.4L344.0,89.3L344.5,89.3L345.0,89.3L345.5,89.3L346.0,89.2L346.5,89.2L347.0,89.2L347.5,89.1L348.0,89.1L348.5,89.1L349.0,89.1L349.5,89.0L350.0,89.0L350.5,89.0L351.0,88.9L351.5,88.9L352.0,88.9L352.5,88.9L353.0,88.8L353.5,88.8L354.0,88.8L354.5,88.7L355.0,88.7L355.5,88.7L356.0,88.7L356.5,88.6L357.0,88.6L357.5,88.6L358.0,88.5L358.5,88.5L359.0,88.5L359.5,88.5L360.0,88.4L360.5,88.4L361.0,88.4L361.5,88.3L362.0,88.3L362.5,88.3L363.0,88.3L363.5,88.2L364.0,88.2L364.5,88.2L365.0,88.2L365.5,88.1L366.0,88.1L366.5,88.1L367.0,88.0L367.5,88.0L368.0,88.0L368.5,88.0L369.0,87.9L369.5,87.9L370.0,87.9L370.5,87.9L371.0,87.8L371.5,87.8L372.0,87.8L372.5,87.8L373.0,87.7L373.5,87.7L374.0,87.7L374.5,87.7L375.0,87.6L375.5,87.6L376.0,87.6L376.5,87.6L377.0,87.6L377.5,87.5L378.0,87.5L378.5,87.5L379.0,87.5L379.5,87.5L380.0,87.4L380.5,87.4L381.0,87.4L381.5,87.4L382.0,87.4L382.5,87.4L383.0,87.4L383.5,87.4L384.0,87.4L384.5,87.4L385.0,87.4L385.5,87.4L386.0,87.4L386.5,87.4L387.0,87.4L387.5,87.4L388.0,87.4L388.5,87.4L389.0,87.4L389.5,87.4L390.0,87.4L390.5,87.4L391.0,87.4L391.5,87.4L392.0,87.4L392.5,87.4L393.0,87.4L393.5,87.4L394.0,87.4L394.5,87.4L395.0,87.4L395.5,87.4L396.0,87.4L396.5,87.4L397.0,87.3L397.5,87.3L398.0,87.3L398.5,87.2L399.0,87.2L399.5,87.2L400.0,87.1L400.5,87.0L401.0,87.0L401.5,86.9L402.0,86.8L402.5,86.7L403.0,86.6L403.5,86.4L404.0,86.3L404.5,86.1L405.0,85.8L405.5,85.5L406.0,85.2L406.5,84.7L407.0,84.1L407.5,83.3L408.0,82.4L408.5,81.4L409.0,80.2L409.5,79.0L410.0,77.8L410.5,76.6L411.0,75.5L411.5,74.5L412.0,73.6L412.5,72.8L413.0,72.2L413.5,71.6L414.0,71.1L414.5,70.8L415.0,70.5L415.5,70.3L416.0,70.2L416.5,70.3L417.0,70.4L417.5,70.7L418.0,71.0L418.5,71.5L419.0,72.0L419.5,72.6L420.0,73.3L420.5,74.1L421.0,75.0L421.5,76.1L422.0,77.2L422.5,78.4L423.0,79.5L423.5,80.6L424.0,81.7L424.5,82.5L425.0,83.3L425.5,83.9L426.0,84.4L426.5,84.8L427.0,85.2L427.5,85.5L428.0,85.8L428.5,86.1L429.0,86.4L429.5,86.6L430.0,86.9L430.5,87.1L431.0,87.3L431.5,87.5L432.0,87.7L432.5,87.9L433.0,88.0L433.5,88.1L434.0,88.2L434.5,88.3L435.0,88.3L435.5,88.3L436.0,88.2L436.5,88.2L437.0,88.2L437.5,88.2L438.0,88.2L438.5,88.2L439.0,88.2L439.5,88.2L440.0,88.2L440.5,88.2L441.0,88.2L441.5,88.2L442.0,88.2L442.5,88.2L443.0,88.2L443.5,88.2L444.0,88.2L444.5,88.2L445.0,88.2L445.5,88.2L446.0,88.2L446.5,88.2L447.0,88.2L447.5,88.2L448.0,88.2L448.5,88.2L449.0,88.2L449.5,88.2L450.0,88.2L450.5,88.2L451.0,88.3L451.5,88.3L452.0,88.3L452.5,88.3L453.0,88.3L453.5,88.3L454.0,88.4L454.5,88.4L455.0,88.4L455.5,88.5L456.0,88.5L456.5,88.5L457.0,88.6L457.5,88.6L458.0,88.7L458.5,88.7L459.0,88.8L459.5,88.8L460.0,88.9L460.5,88.9L461.0,89.0L461.5,89.0L462.0,89.1L462.5,89.2L463.0,89.2L463.5,89.3L464.0,89.4L464.5,89.4L465.0,89.5L465.5,89.5L466.0,89.6L466.5,89.7L467.0,89.7L467.5,89.8L468.0,89.9L468.5,89.9L469.0,90.0L469.5,90.0L470.0,90.1L470.5,90.1" stroke="#111" stroke-width="1.3" fill="none" stroke-linejoin="round"/><path d="M339.5,101.4L340.0,101.5L340.5,101.4L341.0,101.4L341.5,101.4L342.0,101.4L342.5,101.4L343.0,101.4L343.5,101.4L344.0,101.3L344.5,101.3L345.0,101.4L345.5,101.2L346.0,101.1L346.5,101.2L347.0,101.1L347.5,101.2L348.0,101.1L348.5,101.1L349.0,101.1L349.5,101.1L350.0,101.0L350.5,101.0L351.0,101.0L351.5,101.0L352.0,100.9L352.5,101.0L353.0,101.0L353.5,100.9L354.0,100.9L354.5,100.9L355.0,100.7L355.5,100.7L356.0,100.9L356.5,100.7L357.0,100.6L357.5,100.7L358.0,100.7L358.5,100.8L359.0,100.6L359.5,100.8L360.0,100.5L360.5,100.6L361.0,100.6L361.5,100.6L362.0,100.5L362.5,100.4L363.0,100.5L363.5,100.4L364.0,100.4L364.5,100.5L365.0,100.3L365.5,100.4L366.0,100.3L366.5,100.4L367.0,100.3L367.5,100.4L368.0,100.3L368.5,100.3L369.0,100.2L369.5,100.2L370.0,100.1L370.5,100.1L371.0,100.1L371.5,100.2L372.0,100.1L372.5,100.0L373.0,100.0L373.5,100.0L374.0,100.0L374.5,100.1L375.0,100.0L375.5,99.9L376.0,100.0L376.5,100.0L377.0,99.9L377.5,99.9L378.0,99.9L378.5,99.8L379.0,99.9L379.5,99.9L380.0,99.7L380.5,99.8L381.0,99.8L381.5,99.9L382.0,99.8L382.5,99.7L383.0,99.8L383.5,99.7L384.0,99.8L384.5,99.7L385.0,99.8L385.5,99.8L386.0,99.8L386.5,99.9L387.0,99.8L387.5,99.8L388.0,99.8L388.5,99.8L389.0,99.9L389.5,99.8L390.0,99.8L390.5,99.9L391.0,100.0L391.5,99.8L392.0,99.8L392.5,99.9L393.0,99.9L393.5,99.9L394.0,99.9L394.5,99.8L395.0,99.8L395.5,99.8L396.0,99.8L396.5,99.7L397.0,99.7L397.5,99.6L398.0,99.6L398.5,99.5L399.0,99.4L399.5,99.4L400.0,99.4L400.5,99.2L401.0,99.1L401.5,99.0L402.0,99.1L402.5,98.8L403.0,98.5L403.5,98.3L404.0,98.0L404.5,97.7L405.0,97.3L405.5,96.8L406.0,96.1L406.5,95.4L407.0,94.5L407.5,93.4L408.0,92.2L408.5,90.8L409.0,89.5L409.5,88.1L410.0,86.9L410.5,85.8L411.0,84.9L411.5,84.2L412.0,83.4L412.5,83.1L413.0,82.8L413.5,82.7L414.0,82.6L414.5,82.8L415.0,83.1L415.5,83.5L416.0,83.7L416.5,84.2L417.0,84.8L417.5,85.5L418.0,86.0L418.5,86.7L419.0,87.5L419.5,88.3L420.0,89.2L420.5,90.0L421.0,90.9L421.5,91.7L422.0,92.7L422.5,93.5L423.0,94.2L423.5,95.0L424.0,95.6L424.5,96.2L425.0,96.7L425.5,97.0L426.0,97.5L426.5,97.7L427.0,98.0L427.5,98.2L428.0,98.3L428.5,98.5L429.0,98.7L429.5,98.9L430.0,99.0L430.5,99.1L431.0,99.2L431.5,99.4L432.0,99.5L432.5,99.6L433.0,99.6L433.5,99.7L434.0,99.8L434.5,99.8L435.0,99.8L435.5,99.8L436.0,99.7L436.5,99.6L437.0,99.6L437.5,99.6L438.0,99.6L438.5,99.4L439.0,99.5L439.5,99.6L440.0,99.4L440.5,99.6L441.0,99.5L441.5,99.5L442.0,99.5L442.5,99.4L443.0,99.4L443.5,99.3L444.0,99.3L444.5,99.5L445.0,99.4L445.5,99.3L446.0,99.3L446.5,99.3L447.0,99.4L447.5,99.3L448.0,99.3L448.5,99.2L449.0,99.3L449.5,99.2L450.0,99.2L450.5,99.3L451.0,99.3L451.5,99.2L452.0,99.3L452.5,99.3L453.0,99.3L453.5,99.4L454.0,99.4L454.5,99.5L455.0,99.5L455.5,99.6L456.0,99.7L456.5,99.8L457.0,99.8L457.5,99.9L458.0,99.9L458.5,100.0L459.0,100.2L459.5,100.2L460.0,100.3L460.5,100.4L461.0,100.5L461.5,100.7L462.0,100.8L462.5,100.9L463.0,101.0L463.5,101.1L464.0,101.3L464.5,101.4L465.0,101.5L465.5,101.6L466.0,101.7L466.5,101.8L467.0,102.0L467.5,102.1L468.0,102.2L468.5,102.3L469.0,102.4L469.5,102.4L470.0,102.6L470.5,102.7" stroke="#111" stroke-width="1.3" fill="none" stroke-linejoin="round"/><path d="M339.5,114.1L340.0,114.0L340.5,113.7L341.0,114.1L341.5,113.9L342.0,114.0L342.5,114.0L343.0,114.0L343.5,113.9L344.0,114.0L344.5,114.0L345.0,113.8L345.5,113.9L346.0,113.9L346.5,113.9L347.0,114.1L347.5,113.8L348.0,113.9L348.5,114.0L349.0,113.8L349.5,113.7L350.0,113.9L350.5,113.8L351.0,113.9L351.5,113.8L352.0,113.8L352.5,113.8L353.0,113.8L353.5,113.8L354.0,113.7L354.5,113.6L355.0,113.7L355.5,113.8L356.0,113.8L356.5,113.9L357.0,113.9L357.5,113.9L358.0,113.7L358.5,113.8L359.0,113.7L359.5,113.7L360.0,113.8L360.5,113.6L361.0,113.5L361.5,113.6L362.0,113.6L362.5,113.7L363.0,113.7L363.5,113.5L364.0,113.5L364.5,114.0L365.0,113.6L365.5,113.5L366.0,113.6L366.5,113.7L367.0,113.5L367.5,113.5L368.0,113.5L368.5,113.6L369.0,113.5L369.5,113.7L370.0,113.3L370.5,113.4L371.0,113.5L371.5,113.3L372.0,113.5L372.5,113.4L373.0,113.4L373.5,113.5L374.0,113.3L374.5,113.2L375.0,113.4L375.5,113.4L376.0,113.2L376.5,113.3L377.0,113.5L377.5,113.3L378.0,113.4L378.5,113.4L379.0,113.4L379.5,113.5L380.0,113.2L380.5,113.3L381.0,113.3L381.5,113.2L382.0,113.2L382.5,113.2L383.0,113.2L383.5,113.0L384.0,113.1L384.5,113.1L385.0,113.2L385.5,113.2L386.0,113.2L386.5,113.1L387.0,112.9L387.5,113.3L388.0,113.1L388.5,113.1L389.0,112.9L389.5,112.9L390.0,112.9L390.5,113.0L391.0,112.8L391.5,112.9L392.0,112.7L392.5,112.8L393.0,112.8L393.5,112.7L394.0,112.6L394.5,112.6L395.0,112.8L395.5,112.6L396.0,112.5L396.5,112.6L397.0,112.4L397.5,112.5L398.0,112.2L398.5,112.1L399.0,112.0L399.5,111.6L400.0,111.6L400.5,111.3L401.0,111.1L401.5,110.8L402.0,110.5L402.5,109.8L403.0,109.9L403.5,109.3L404.0,108.8L404.5,108.4L405.0,107.6L405.5,106.7L406.0,106.0L406.5,104.8L407.0,104.0L407.5,102.6L408.0,101.7L408.5,100.3L409.0,99.4L409.5,98.3L410.0,97.2L410.5,96.5L411.0,95.9L411.5,95.5L412.0,95.4L412.5,95.3L413.0,95.3L413.5,95.7L414.0,96.2L414.5,96.7L415.0,97.6L415.5,98.4L416.0,99.2L416.5,100.3L417.0,101.1L417.5,101.7L418.0,103.1L418.5,104.1L419.0,104.8L419.5,105.5L420.0,106.3L420.5,107.1L421.0,107.7L421.5,108.2L422.0,108.7L422.5,109.2L423.0,109.3L423.5,110.0L424.0,110.3L424.5,110.7L425.0,111.0L425.5,111.2L426.0,111.6L426.5,111.5L427.0,111.8L427.5,112.1L428.0,112.1L428.5,112.0L429.0,112.3L429.5,112.3L430.0,112.3L430.5,112.4L431.0,112.5L431.5,112.6L432.0,112.6L432.5,112.9L433.0,112.7L433.5,112.8L434.0,112.9L434.5,113.1L435.0,113.0L435.5,113.0L436.0,113.1L436.5,113.1L437.0,113.1L437.5,113.3L438.0,113.3L438.5,113.4L439.0,113.4L439.5,113.3L440.0,113.4L440.5,113.4L441.0,113.5L441.5,113.6L442.0,113.6L442.5,113.4L443.0,113.6L443.5,113.8L444.0,113.8L444.5,113.9L445.0,113.9L445.5,114.0L446.0,113.8L446.5,114.1L447.0,114.1L447.5,114.1L448.0,114.3L448.5,114.1L449.0,114.3L449.5,114.2L450.0,114.3L450.5,114.3L451.0,114.3L451.5,114.4L452.0,114.3L452.5,114.5L453.0,114.6L453.5,114.5L454.0,114.4L454.5,114.7L455.0,114.6L455.5,114.7L456.0,114.8L456.5,114.5L457.0,114.6L457.5,114.7L458.0,114.8L458.5,114.4L459.0,114.7L459.5,114.8L460.0,114.8L460.5,114.8L461.0,114.7L461.5,114.8L462.0,114.9L462.5,114.8L463.0,114.9L463.5,114.8L464.0,114.8L464.5,114.9L465.0,115.0L465.5,114.9L466.0,114.9L466.5,114.9L467.0,114.9L467.5,115.0L468.0,115.0L468.5,115.0L469.0,115.0L469.5,115.2L470.0,115.1L470.5,115.2" stroke="#111" stroke-width="1.3" fill="none" stroke-linejoin="round"/><path d="M339.5,126.5L340.0,126.3L340.5,126.5L341.0,126.3L341.5,126.3L342.0,126.3L342.5,126.3L343.0,126.6L343.5,126.5L344.0,126.3L344.5,126.3L345.0,126.3L345.5,126.4L346.0,126.1L346.5,126.3L347.0,126.2L347.5,126.3L348.0,126.1L348.5,126.2L349.0,126.4L349.5,126.2L350.0,126.3L350.5,126.2L351.0,126.2L351.5,126.1L352.0,126.1L352.5,125.9L353.0,126.2L353.5,126.3L354.0,126.1L354.5,126.1L355.0,126.2L355.5,126.1L356.0,125.9L356.5,125.9L357.0,126.3L357.5,126.2L358.0,126.1L358.5,126.2L359.0,126.0L359.5,126.0L360.0,125.7L360.5,125.7L361.0,126.1L361.5,125.8L362.0,125.8L362.5,126.1L363.0,125.9L363.5,126.4L364.0,125.9L364.5,126.0L365.0,125.7L365.5,126.0L366.0,125.7L366.5,125.8L367.0,125.9L367.5,126.0L368.0,125.9L368.5,126.0L369.0,125.8L369.5,125.8L370.0,125.9L370.5,125.8L371.0,125.7L371.5,125.8L372.0,125.7L372.5,125.7L373.0,125.6L373.5,125.8L374.0,125.8L374.5,125.8L375.0,125.9L375.5,125.9L376.0,125.8L376.5,125.7L377.0,125.8L377.5,125.6L378.0,125.7L378.5,125.5L379.0,125.6L379.5,125.6L380.0,125.6L380.5,125.5L381.0,125.6L381.5,125.5L382.0,125.5L382.5,125.5L383.0,125.4L383.5,125.5L384.0,125.5L384.5,125.6L385.0,125.5L385.5,125.3L386.0,125.4L386.5,125.6L387.0,125.3L387.5,125.4L388.0,125.3L388.5,125.3L389.0,125.1L389.5,125.2L390.0,125.3L390.5,125.3L391.0,125.0L391.5,125.2L392.0,125.0L392.5,124.8L393.0,125.0L393.5,125.0L394.0,125.0L394.5,124.9L395.0,124.9L395.5,124.5L396.0,124.6L396.5,124.5L397.0,124.3L397.5,124.1L398.0,123.7L398.5,123.2L399.0,122.7L399.5,121.9L400.0,121.6L400.5,120.8L401.0,120.3L401.5,118.7L402.0,117.9L402.5,116.8L403.0,116.0L403.5,114.9L404.0,114.0L404.5,112.7L405.0,112.0L405.5,111.3L406.0,110.4L406.5,109.8L407.0,109.2L407.5,108.5L408.0,108.2L408.5,108.3L409.0,108.4L409.5,108.3L410.0,108.4L410.5,109.0L411.0,109.1L411.5,109.6L412.0,110.0L412.5,110.3L413.0,110.9L413.5,111.3L414.0,112.0L414.5,112.5L415.0,113.2L415.5,113.6L416.0,114.3L416.5,114.7L417.0,115.1L417.5,115.5L418.0,116.1L418.5,116.2L419.0,116.8L419.5,117.2L420.0,117.6L420.5,118.1L421.0,118.4L421.5,119.0L422.0,119.1L422.5,119.5L423.0,119.7L423.5,120.5L424.0,120.6L424.5,120.8L425.0,121.0L425.5,121.5L426.0,121.9L426.5,122.3L427.0,122.4L427.5,122.7L428.0,123.0L428.5,123.1L429.0,123.5L429.5,123.5L430.0,123.8L430.5,124.0L431.0,124.0L431.5,124.4L432.0,124.5L432.5,124.4L433.0,124.8L433.5,124.7L434.0,124.6L434.5,125.1L435.0,125.2L435.5,125.1L436.0,125.2L436.5,125.3L437.0,125.5L437.5,125.2L438.0,125.4L438.5,125.5L439.0,125.6L439.5,125.7L440.0,125.5L440.5,125.8L441.0,125.9L441.5,125.8L442.0,125.9L442.5,125.9L443.0,125.9L443.5,125.8L444.0,126.1L444.5,126.1L445.0,126.1L445.5,126.1L446.0,126.1L446.5,126.0L447.0,126.2L447.5,126.2L448.0,126.2L448.5,126.2L449.0,126.4L449.5,126.3L450.0,126.4L450.5,126.4L451.0,126.5L451.5,126.3L452.0,126.5L452.5,126.7L453.0,126.5L453.5,126.6L454.0,126.8L454.5,126.7L455.0,126.8L455.5,126.7L456.0,126.7L456.5,126.8L457.0,126.8L457.5,126.8L458.0,126.9L458.5,126.9L459.0,126.8L459.5,126.9L460.0,127.1L460.5,126.8L461.0,127.0L461.5,126.9L462.0,127.1L462.5,127.1L463.0,127.0L463.5,127.1L464.0,127.0L464.5,127.1L465.0,126.9L465.5,127.0L466.0,127.3L466.5,127.4L467.0,127.3L467.5,127.2L468.0,127.3L468.5,127.3L469.0,127.2L469.5,127.5L470.0,127.2L470.5,127.4" stroke="#111" stroke-width="1.3" fill="none" stroke-linejoin="round"/><path d="M339.5,138.5L340.0,138.6L340.5,138.7L341.0,138.6L341.5,138.5L342.0,138.3L342.5,138.8L343.0,138.6L343.5,138.7L344.0,138.7L344.5,138.9L345.0,139.0L345.5,138.6L346.0,138.6L346.5,138.5L347.0,138.7L347.5,138.7L348.0,138.5L348.5,138.4L349.0,138.5L349.5,138.6L350.0,138.8L350.5,138.7L351.0,138.3L351.5,138.6L352.0,138.4L352.5,138.9L353.0,138.4L353.5,138.6L354.0,138.7L354.5,138.7L355.0,138.3L355.5,138.6L356.0,138.7L356.5,138.2L357.0,138.5L357.5,138.7L358.0,138.2L358.5,138.6L359.0,138.4L359.5,138.4L360.0,138.3L360.5,138.3L361.0,138.6L361.5,138.5L362.0,138.3L362.5,138.4L363.0,138.3L363.5,138.4L364.0,138.5L364.5,138.6L365.0,138.2L365.5,138.3L366.0,138.3L366.5,138.5L367.0,138.3L367.5,138.4L368.0,137.8L368.5,138.4L369.0,138.6L369.5,138.6L370.0,138.6L370.5,138.3L371.0,138.2L371.5,138.3L372.0,138.3L372.5,138.3L373.0,138.3L373.5,138.4L374.0,138.7L374.5,138.3L375.0,138.4L375.5,138.1L376.0,138.4L376.5,138.2L377.0,138.0L377.5,138.0L378.0,138.1L378.5,138.0L379.0,138.3L379.5,138.2L380.0,138.1L380.5,138.0L381.0,138.1L381.5,138.2L382.0,137.9L382.5,138.2L383.0,137.9L383.5,138.0L384.0,137.8L384.5,137.7L385.0,138.0L385.5,137.8L386.0,138.0L386.5,138.0L387.0,137.9L387.5,137.6L388.0,137.9L388.5,137.4L389.0,137.6L389.5,137.5L390.0,137.7L390.5,137.4L391.0,137.4L391.5,137.6L392.0,137.3L392.5,137.3L393.0,137.3L393.5,137.0L394.0,137.0L394.5,136.7L395.0,136.7L395.5,135.9L396.0,135.4L396.5,134.8L397.0,133.9L397.5,133.4L398.0,132.6L398.5,132.2L399.0,130.8L399.5,129.7L400.0,129.1L400.5,127.6L401.0,126.9L401.5,125.8L402.0,125.1L402.5,124.6L403.0,123.7L403.5,123.0L404.0,122.2L404.5,122.0L405.0,121.2L405.5,121.0L406.0,120.8L406.5,120.8L407.0,120.6L407.5,120.5L408.0,120.8L408.5,120.8L409.0,121.2L409.5,121.3L410.0,121.8L410.5,122.2L411.0,123.1L411.5,123.1L412.0,123.4L412.5,124.0L413.0,124.7L413.5,125.2L414.0,125.6L414.5,126.8L415.0,127.1L415.5,126.9L416.0,127.4L416.5,127.7L417.0,128.3L417.5,128.6L418.0,129.0L418.5,129.6L419.0,129.7L419.5,129.8L420.0,130.5L420.5,130.8L421.0,131.0L421.5,131.3L422.0,132.0L422.5,132.2L423.0,132.4L423.5,132.0L424.0,132.8L424.5,133.2L425.0,133.5L425.5,133.9L426.0,134.0L426.5,134.3L427.0,134.5L427.5,134.7L428.0,135.2L428.5,135.3L429.0,135.4L429.5,135.6L430.0,136.4L430.5,136.0L431.0,136.4L431.5,136.1L432.0,136.5L432.5,136.6L433.0,136.9L433.5,137.2L434.0,136.9L434.5,137.3L435.0,137.6L435.5,137.7L436.0,137.6L436.5,137.5L437.0,138.0L437.5,137.8L438.0,137.9L438.5,137.9L439.0,138.0L439.5,137.9L440.0,138.2L440.5,138.2L441.0,138.2L441.5,138.3L442.0,138.4L442.5,138.1L443.0,138.5L443.5,138.4L444.0,138.6L444.5,138.6L445.0,138.3L445.5,138.6L446.0,138.5L446.5,138.4L447.0,138.5L447.5,138.4L448.0,138.7L448.5,138.5L449.0,138.6L449.5,138.9L450.0,139.1L450.5,138.9L451.0,139.1L451.5,138.7L452.0,138.9L452.5,139.0L453.0,138.9L453.5,139.2L454.0,138.9L454.5,139.2L455.0,139.2L455.5,139.2L456.0,139.2L456.5,139.6L457.0,138.8L457.5,139.1L458.0,139.4L458.5,139.5L459.0,139.1L459.5,139.4L460.0,139.4L460.5,139.1L461.0,139.0L461.5,139.6L462.0,139.6L462.5,139.5L463.0,139.9L463.5,139.4L464.0,139.5L464.5,139.5L465.0,139.4L465.5,139.7L466.0,139.6L466.5,139.6L467.0,139.7L467.5,139.8L468.0,139.6L468.5,139.7L469.0,139.9L469.5,139.7L470.0,139.7L470.5,140.0" stroke="#111" stroke-width="1.3" fill="none" stroke-linejoin="round"/><path d="M339.5,150.9L340.0,151.1L340.5,151.0L341.0,150.8L341.5,151.0L342.0,150.8L342.5,151.1L343.0,150.9L343.5,150.8L344.0,151.1L344.5,150.8L345.0,151.2L345.5,151.0L346.0,151.1L346.5,150.8L347.0,151.3L347.5,150.9L348.0,151.1L348.5,151.0L349.0,151.1L349.5,150.8L350.0,150.8L350.5,151.1L351.0,150.9L351.5,150.8L352.0,150.8L352.5,151.1L353.0,150.4L353.5,151.1L354.0,150.9L354.5,150.9L355.0,151.0L355.5,150.9L356.0,150.6L356.5,150.8L357.0,151.0L357.5,150.6L358.0,150.6L358.5,151.0L359.0,150.9L359.5,150.6L360.0,150.8L360.5,151.0L361.0,150.8L361.5,150.9L362.0,150.7L362.5,151.0L363.0,150.8L363.5,150.9L364.0,150.8L364.5,150.5L365.0,150.8L365.5,150.8L366.0,150.9L366.5,150.8L367.0,150.5L367.5,150.6L368.0,150.7L368.5,150.4L369.0,150.7L369.5,150.7L370.0,150.6L370.5,150.7L371.0,150.6L371.5,150.5L372.0,150.7L372.5,150.4L373.0,150.8L373.5,150.6L374.0,150.6L374.5,150.6L375.0,150.5L375.5,150.5L376.0,150.6L376.5,150.7L377.0,150.6L377.5,150.6L378.0,150.4L378.5,150.5L379.0,150.4L379.5,150.2L380.0,150.3L380.5,150.7L381.0,150.3L381.5,150.2L382.0,150.2L382.5,150.3L383.0,150.2L383.5,150.7L384.0,150.1L384.5,150.1L385.0,150.2L385.5,150.1L386.0,149.7L386.5,149.7L387.0,150.0L387.5,149.9L388.0,149.9L388.5,149.9L389.0,149.3L389.5,149.6L390.0,149.5L390.5,149.8L391.0,149.3L391.5,148.9L392.0,148.9L392.5,148.4L393.0,148.2L393.5,147.3L394.0,146.8L394.5,146.1L395.0,145.3L395.5,144.4L396.0,143.8L396.5,143.1L397.0,142.2L397.5,141.2L398.0,139.9L398.5,138.9L399.0,138.2L399.5,137.2L400.0,136.4L400.5,135.8L401.0,135.0L401.5,134.3L402.0,134.2L402.5,133.4L403.0,132.9L403.5,132.9L404.0,132.7L404.5,132.7L405.0,132.6L405.5,133.2L406.0,133.5L406.5,133.8L407.0,134.2L407.5,134.6L408.0,135.0L408.5,135.1L409.0,136.0L409.5,136.2L410.0,136.7L410.5,137.4L411.0,137.5L411.5,137.9L412.0,138.5L412.5,138.9L413.0,139.1L413.5,139.7L414.0,140.2L414.5,140.1L415.0,140.6L415.5,140.9L416.0,141.3L416.5,141.5L417.0,141.7L417.5,142.3L418.0,142.4L418.5,142.8L419.0,142.9L419.5,143.3L420.0,143.7L420.5,144.0L421.0,143.8L421.5,144.7L422.0,144.4L422.5,145.5L423.0,145.5L423.5,145.5L424.0,145.7L424.5,145.6L425.0,146.5L425.5,146.2L426.0,146.8L426.5,146.6L427.0,147.0L427.5,147.1L428.0,147.3L428.5,147.8L429.0,148.0L429.5,148.0L430.0,147.9L430.5,148.4L431.0,148.9L431.5,149.0L432.0,148.7L432.5,149.1L433.0,149.3L433.5,149.2L434.0,149.3L434.5,149.6L435.0,149.8L435.5,149.6L436.0,150.2L436.5,150.1L437.0,150.1L437.5,150.4L438.0,150.4L438.5,150.4L439.0,150.4L439.5,150.4L440.0,150.2L440.5,150.8L441.0,150.5L441.5,150.6L442.0,150.8L442.5,150.6L443.0,150.8L443.5,150.8L444.0,150.7L444.5,150.9L445.0,150.8L445.5,151.0L446.0,150.8L446.5,151.2L447.0,151.1L447.5,151.4L448.0,151.1L448.5,151.3L449.0,151.3L449.5,151.0L450.0,151.3L450.5,151.5L451.0,151.3L451.5,151.3L452.0,151.5L452.5,151.8L453.0,151.6L453.5,151.4L454.0,151.7L454.5,151.6L455.0,151.3L455.5,151.6L456.0,151.6L456.5,151.7L457.0,151.6L457.5,151.7L458.0,151.8L458.5,151.7L459.0,151.7L459.5,151.7L460.0,151.9L460.5,151.9L461.0,151.8L461.5,151.7L462.0,151.9L462.5,151.8L463.0,151.8L463.5,152.0L464.0,152.0L464.5,152.1L465.0,152.2L465.5,151.9L466.0,151.8L466.5,151.9L467.0,152.0L467.5,152.4L468.0,152.2L468.5,152.1L469.0,152.1L469.5,152.0L470.0,151.9L470.5,152.0" stroke="#111" stroke-width="1.15" fill="none" stroke-linejoin="round"/><path d="M339.5,163.1L340.0,163.3L340.5,163.3L341.0,163.4L341.5,163.6L342.0,163.7L342.5,163.5L343.0,163.0L343.5,162.6L344.0,163.2L344.5,163.2L345.0,163.4L345.5,163.1L346.0,163.2L346.5,162.7L347.0,163.2L347.5,163.4L348.0,163.5L348.5,163.2L349.0,163.0L349.5,163.1L350.0,163.3L350.5,163.0L351.0,163.2L351.5,163.0L352.0,163.0L352.5,163.1L353.0,163.4L353.5,163.2L354.0,163.1L354.5,163.0L355.0,163.0L355.5,163.1L356.0,163.1L356.5,163.0L357.0,162.8L357.5,163.1L358.0,163.1L358.5,162.9L359.0,163.6L359.5,163.1L360.0,162.9L360.5,163.1L361.0,163.2L361.5,163.1L362.0,163.1L362.5,163.0L363.0,163.4L363.5,163.1L364.0,162.5L364.5,162.7L365.0,163.0L365.5,163.0L366.0,163.1L366.5,163.1L367.0,163.3L367.5,162.6L368.0,163.0L368.5,162.8L369.0,163.0L369.5,163.1L370.0,163.6L370.5,162.9L371.0,163.0L371.5,162.8L372.0,162.8L372.5,162.9L373.0,162.3L373.5,162.9L374.0,162.7L374.5,163.0L375.0,162.7L375.5,162.5L376.0,162.6L376.5,163.0L377.0,162.9L377.5,162.6L378.0,162.8L378.5,162.7L379.0,162.8L379.5,162.6L380.0,162.5L380.5,162.4L381.0,162.8L381.5,162.7L382.0,162.3L382.5,162.8L383.0,162.4L383.5,162.7L384.0,162.4L384.5,162.5L385.0,161.9L385.5,162.1L386.0,161.6L386.5,162.1L387.0,161.8L387.5,161.5L388.0,161.5L388.5,161.5L389.0,161.2L389.5,161.2L390.0,160.1L390.5,159.9L391.0,159.5L391.5,158.4L392.0,158.0L392.5,157.3L393.0,156.4L393.5,155.5L394.0,155.0L394.5,153.7L395.0,152.8L395.5,151.9L396.0,150.6L396.5,150.0L397.0,149.3L397.5,148.3L398.0,147.9L398.5,147.3L399.0,147.1L399.5,146.0L400.0,145.2L400.5,146.0L401.0,145.0L401.5,145.2L402.0,145.2L402.5,144.9L403.0,145.4L403.5,145.8L404.0,146.1L404.5,146.1L405.0,146.4L405.5,146.7L406.0,146.9L406.5,147.7L407.0,147.9L407.5,147.8L408.0,148.4L408.5,148.4L409.0,149.1L409.5,149.4L410.0,149.5L410.5,150.1L411.0,150.1L411.5,150.5L412.0,150.9L412.5,150.8L413.0,151.2L413.5,152.2L414.0,151.4L414.5,151.9L415.0,152.2L415.5,152.6L416.0,152.6L416.5,153.2L417.0,153.3L417.5,154.1L418.0,154.4L418.5,153.5L419.0,154.0L419.5,154.6L420.0,154.8L420.5,155.1L421.0,155.3L421.5,155.5L422.0,155.7L422.5,155.8L423.0,156.0L423.5,155.9L424.0,156.8L424.5,156.6L425.0,157.0L425.5,157.3L426.0,157.1L426.5,157.3L427.0,157.8L427.5,157.8L428.0,158.1L428.5,158.1L429.0,158.5L429.5,158.8L430.0,159.2L430.5,158.6L431.0,159.0L431.5,159.2L432.0,159.4L432.5,159.5L433.0,159.8L433.5,159.7L434.0,160.6L434.5,159.9L435.0,160.7L435.5,160.3L436.0,160.3L436.5,160.3L437.0,160.3L437.5,160.7L438.0,160.3L438.5,160.7L439.0,160.7L439.5,161.0L440.0,160.8L440.5,160.6L441.0,161.4L441.5,161.3L442.0,161.3L442.5,161.4L443.0,161.7L443.5,161.6L444.0,161.6L444.5,161.8L445.0,161.4L445.5,162.0L446.0,162.1L446.5,161.7L447.0,161.6L447.5,162.0L448.0,162.3L448.5,162.1L449.0,161.7L449.5,162.5L450.0,162.6L450.5,162.4L451.0,162.1L451.5,162.6L452.0,162.4L452.5,162.1L453.0,162.5L453.5,162.4L454.0,162.8L454.5,162.6L455.0,162.9L455.5,162.7L456.0,162.4L456.5,163.2L457.0,162.7L457.5,162.5L458.0,162.9L458.5,163.0L459.0,162.6L459.5,162.8L460.0,162.9L460.5,163.2L461.0,163.0L461.5,163.0L462.0,163.6L462.5,163.1L463.0,163.4L463.5,163.4L464.0,163.2L464.5,163.7L465.0,163.4L465.5,163.3L466.0,163.4L466.5,163.1L467.0,163.1L467.5,163.4L468.0,163.2L468.5,163.1L469.0,163.4L469.5,163.2L470.0,163.5L470.5,163.7L471.0,163.7L471.5,163.5L472.0,163.3" stroke="#111" stroke-width="1.15" fill="none" stroke-linejoin="round"/><path d="M339.5,175.5L340.0,175.3L340.5,175.5L341.0,175.8L341.5,175.9L342.0,175.5L342.5,176.0L343.0,175.5L343.5,176.0L344.0,175.4L344.5,176.0L345.0,175.8L345.5,175.6L346.0,176.0L346.5,175.9L347.0,175.2L347.5,175.6L348.0,175.7L348.5,175.7L349.0,175.6L349.5,175.9L350.0,175.7L350.5,175.6L351.0,175.5L351.5,175.6L352.0,175.7L352.5,175.8L353.0,175.7L353.5,175.7L354.0,175.9L354.5,175.3L355.0,175.7L355.5,175.5L356.0,176.0L356.5,176.0L357.0,175.5L357.5,175.6L358.0,175.5L358.5,175.7L359.0,175.6L359.5,175.3L360.0,175.5L360.5,175.4L361.0,175.8L361.5,175.6L362.0,175.8L362.5,175.5L363.0,176.0L363.5,175.6L364.0,175.6L364.5,175.2L365.0,175.7L365.5,175.5L366.0,175.5L366.5,175.6L367.0,175.5L367.5,175.6L368.0,175.7L368.5,175.7L369.0,175.4L369.5,175.2L370.0,175.6L370.5,175.3L371.0,175.7L371.5,175.3L372.0,175.3L372.5,175.3L373.0,175.4L373.5,175.7L374.0,175.7L374.5,174.7L375.0,175.0L375.5,175.5L376.0,175.2L376.5,174.7L377.0,175.3L377.5,175.2L378.0,175.0L378.5,175.5L379.0,175.0L379.5,174.9L380.0,174.9L380.5,175.2L381.0,174.8L381.5,175.1L382.0,174.8L382.5,174.5L383.0,174.6L383.5,174.3L384.0,174.8L384.5,174.7L385.0,174.3L385.5,174.0L386.0,173.5L386.5,173.7L387.0,173.1L387.5,172.8L388.0,172.1L388.5,171.5L389.0,170.5L389.5,169.6L390.0,169.0L390.5,168.1L391.0,167.1L391.5,165.9L392.0,165.0L392.5,164.0L393.0,163.1L393.5,161.5L394.0,161.3L394.5,160.1L395.0,160.0L395.5,158.7L396.0,158.6L396.5,157.4L397.0,157.4L397.5,157.1L398.0,157.2L398.5,157.2L399.0,157.2L399.5,157.0L400.0,157.3L400.5,157.5L401.0,157.4L401.5,157.5L402.0,157.7L402.5,158.0L403.0,158.2L403.5,158.8L404.0,157.9L404.5,159.1L405.0,159.1L405.5,159.0L406.0,159.6L406.5,160.0L407.0,160.4L407.5,160.5L408.0,160.6L408.5,160.9L409.0,161.4L409.5,161.8L410.0,161.8L410.5,162.0L411.0,162.4L411.5,162.8L412.0,163.3L412.5,163.5L413.0,163.9L413.5,163.7L414.0,164.4L414.5,164.7L415.0,164.5L415.5,165.0L416.0,164.8L416.5,165.3L417.0,165.6L417.5,165.7L418.0,165.9L418.5,166.2L419.0,166.6L419.5,166.4L420.0,166.7L420.5,166.6L421.0,167.4L421.5,167.4L422.0,167.7L422.5,167.7L423.0,167.6L423.5,167.9L424.0,168.1L424.5,168.5L425.0,168.4L425.5,168.9L426.0,168.5L426.5,168.9L427.0,168.9L427.5,169.2L428.0,169.5L428.5,169.6L429.0,170.0L429.5,169.6L430.0,170.1L430.5,170.1L431.0,170.4L431.5,170.5L432.0,170.9L432.5,170.8L433.0,170.9L433.5,171.0L434.0,171.4L434.5,171.1L435.0,171.4L435.5,171.7L436.0,171.6L436.5,171.8L437.0,171.9L437.5,172.2L438.0,172.2L438.5,172.2L439.0,172.4L439.5,172.5L440.0,172.9L440.5,172.7L441.0,172.9L441.5,173.0L442.0,172.8L442.5,173.3L443.0,173.0L443.5,173.7L444.0,173.4L444.5,173.9L445.0,173.4L445.5,174.0L446.0,173.7L446.5,174.0L447.0,174.5L447.5,174.5L448.0,174.6L448.5,174.4L449.0,174.5L449.5,174.8L450.0,174.5L450.5,175.2L451.0,175.4L451.5,175.0L452.0,174.6L452.5,175.2L453.0,175.1L453.5,175.0L454.0,175.0L454.5,175.5L455.0,175.6L455.5,175.3L456.0,175.6L456.5,175.6L457.0,175.9L457.5,175.6L458.0,175.7L458.5,176.1L459.0,175.6L459.5,176.0L460.0,176.2L460.5,176.2L461.0,175.8L461.5,176.5L462.0,176.6L462.5,176.7L463.0,176.4L463.5,176.6L464.0,176.1L464.5,176.5L465.0,176.9L465.5,176.7L466.0,177.1L466.5,177.2L467.0,176.7L467.5,176.7L468.0,177.2L468.5,177.8L469.0,177.3L469.5,177.4L470.0,177.2L470.5,177.7L471.0,177.2L471.5,177.5L472.0,177.5" stroke="#111" stroke-width="1.15" fill="none" stroke-linejoin="round"/><path d="M339.5,187.7L340.0,188.4L340.5,188.4L341.0,187.9L341.5,188.2L342.0,188.0L342.5,187.9L343.0,188.4L343.5,187.8L344.0,188.2L344.5,187.6L345.0,188.2L345.5,188.3L346.0,187.2L346.5,188.3L347.0,188.0L347.5,188.8L348.0,188.0L348.5,188.0L349.0,188.0L349.5,187.9L350.0,188.8L350.5,189.2L351.0,188.5L351.5,188.0L352.0,187.9L352.5,188.3L353.0,188.2L353.5,188.4L354.0,188.1L354.5,188.1L355.0,188.3L355.5,188.2L356.0,188.1L356.5,188.3L357.0,187.9L357.5,187.9L358.0,188.2L358.5,188.4L359.0,188.1L359.5,188.7L360.0,188.2L360.5,188.0L361.0,188.0L361.5,188.3L362.0,188.2L362.5,188.3L363.0,187.8L363.5,188.5L364.0,188.3L364.5,187.8L365.0,188.4L365.5,187.9L366.0,187.7L366.5,187.8L367.0,188.1L367.5,187.8L368.0,188.3L368.5,188.0L369.0,187.9L369.5,188.1L370.0,188.3L370.5,187.3L371.0,187.9L371.5,188.0L372.0,187.8L372.5,187.9L373.0,187.4L373.5,187.8L374.0,187.9L374.5,188.0L375.0,187.5L375.5,187.1L376.0,187.9L376.5,187.6L377.0,187.6L377.5,187.6L378.0,186.8L378.5,188.0L379.0,187.3L379.5,187.0L380.0,186.6L380.5,186.7L381.0,186.2L381.5,186.2L382.0,186.0L382.5,185.4L383.0,185.0L383.5,184.7L384.0,184.1L384.5,183.4L385.0,182.4L385.5,181.6L386.0,180.7L386.5,180.1L387.0,180.0L387.5,178.6L388.0,177.7L388.5,177.6L389.0,176.2L389.5,175.3L390.0,174.6L390.5,173.4L391.0,173.1L391.5,172.0L392.0,171.6L392.5,171.4L393.0,171.2L393.5,170.6L394.0,170.1L394.5,170.3L395.0,171.1L395.5,170.0L396.0,169.7L396.5,169.9L397.0,170.1L397.5,170.5L398.0,170.3L398.5,170.6L399.0,170.7L399.5,171.2L400.0,171.2L400.5,171.9L401.0,171.8L401.5,172.1L402.0,172.5L402.5,172.3L403.0,172.8L403.5,173.7L404.0,173.3L404.5,173.5L405.0,173.7L405.5,173.6L406.0,174.3L406.5,174.8L407.0,174.6L407.5,174.9L408.0,175.6L408.5,175.5L409.0,175.1L409.5,175.4L410.0,175.6L410.5,175.9L411.0,176.1L411.5,176.5L412.0,177.2L412.5,177.0L413.0,177.3L413.5,176.9L414.0,177.2L414.5,178.3L415.0,177.7L415.5,177.6L416.0,178.6L416.5,178.6L417.0,178.6L417.5,178.4L418.0,179.3L418.5,179.0L419.0,179.7L419.5,179.9L420.0,179.0L420.5,179.7L421.0,180.0L421.5,179.9L422.0,180.6L422.5,180.5L423.0,180.8L423.5,180.5L424.0,180.9L424.5,180.9L425.0,181.4L425.5,181.6L426.0,181.8L426.5,182.0L427.0,181.9L427.5,182.1L428.0,182.6L428.5,182.5L429.0,182.6L429.5,183.2L430.0,182.8L430.5,182.7L431.0,182.9L431.5,183.4L432.0,183.7L432.5,183.6L433.0,184.1L433.5,183.6L434.0,183.9L434.5,184.2L435.0,184.4L435.5,184.6L436.0,184.6L436.5,185.1L437.0,184.6L437.5,185.2L438.0,185.4L438.5,185.5L439.0,185.5L439.5,185.6L440.0,186.6L440.5,185.6L441.0,186.3L441.5,186.2L442.0,186.0L442.5,186.6L443.0,187.1L443.5,186.3L444.0,186.5L444.5,187.7L445.0,186.4L445.5,187.5L446.0,186.7L446.5,186.8L447.0,187.1L447.5,187.3L448.0,187.5L448.5,187.6L449.0,188.3L449.5,187.8L450.0,187.8L450.5,187.8L451.0,187.5L451.5,187.0L452.0,188.0L452.5,187.8L453.0,188.2L453.5,188.2L454.0,187.6L454.5,188.3L455.0,188.0L455.5,188.2L456.0,188.6L456.5,188.7L457.0,188.3L457.5,188.6L458.0,188.7L458.5,188.8L459.0,188.6L459.5,188.8L460.0,188.7L460.5,188.4L461.0,189.2L461.5,188.6L462.0,188.8L462.5,189.0L463.0,189.2L463.5,189.1L464.0,189.2L464.5,188.6L465.0,188.9L465.5,189.3L466.0,189.1L466.5,189.3L467.0,189.1L467.5,189.1L468.0,189.7L468.5,189.4L469.0,189.3L469.5,189.3L470.0,189.4L470.5,188.9L471.0,189.7L471.5,189.8L472.0,189.5" stroke="#111" stroke-width="1.2" fill="none" stroke-linejoin="round"/><path d="M339.5,201.0L340.0,200.9L340.5,199.8L341.0,200.0L341.5,200.3L342.0,200.2L342.5,200.2L343.0,200.5L343.5,200.2L344.0,200.0L344.5,199.6L345.0,200.5L345.5,199.7L346.0,200.1L346.5,200.5L347.0,200.8L347.5,200.1L348.0,200.4L348.5,200.8L349.0,201.6L349.5,200.3L350.0,200.4L350.5,200.8L351.0,200.3L351.5,200.9L352.0,200.9L352.5,200.5L353.0,201.8L353.5,200.5L354.0,200.8L354.5,200.5L355.0,200.2L355.5,200.6L356.0,200.3L356.5,200.8L357.0,200.4L357.5,200.7L358.0,200.4L358.5,200.7L359.0,200.6L359.5,200.6L360.0,200.6L360.5,200.9L361.0,201.0L361.5,201.0L362.0,200.5L362.5,199.8L363.0,200.9L363.5,200.0L364.0,200.5L364.5,200.9L365.0,200.8L365.5,200.2L366.0,200.1L366.5,200.9L367.0,200.8L367.5,200.1L368.0,199.8L368.5,200.1L369.0,200.0L369.5,200.6L370.0,200.4L370.5,200.8L371.0,199.8L371.5,200.6L372.0,200.1L372.5,200.5L373.0,199.9L373.5,200.0L374.0,199.8L374.5,199.5L375.0,199.8L375.5,200.6L376.0,199.7L376.5,200.2L377.0,199.7L377.5,199.9L378.0,199.7L378.5,198.7L379.0,198.6L379.5,198.8L380.0,198.0L380.5,197.8L381.0,197.3L381.5,196.8L382.0,196.4L382.5,195.0L383.0,194.2L383.5,192.8L384.0,192.9L384.5,191.7L385.0,190.2L385.5,189.2L386.0,188.5L386.5,188.2L387.0,186.3L387.5,186.3L388.0,185.1L388.5,183.8L389.0,183.6L389.5,183.2L390.0,183.0L390.5,182.4L391.0,182.1L391.5,181.9L392.0,180.9L392.5,182.1L393.0,181.8L393.5,182.0L394.0,182.5L394.5,182.2L395.0,182.5L395.5,182.2L396.0,183.1L396.5,184.1L397.0,183.0L397.5,183.5L398.0,184.0L398.5,184.1L399.0,184.5L399.5,184.5L400.0,184.7L400.5,185.3L401.0,185.0L401.5,185.2L402.0,185.6L402.5,185.7L403.0,186.2L403.5,186.7L404.0,186.8L404.5,186.9L405.0,186.8L405.5,187.0L406.0,187.6L406.5,186.9L407.0,187.5L407.5,187.8L408.0,188.3L408.5,188.8L409.0,188.2L409.5,188.4L410.0,189.0L410.5,188.3L411.0,189.5L411.5,189.7L412.0,189.7L412.5,190.1L413.0,190.0L413.5,190.5L414.0,190.8L414.5,190.2L415.0,191.0L415.5,190.0L416.0,191.3L416.5,191.1L417.0,191.1L417.5,191.5L418.0,191.0L418.5,192.5L419.0,192.2L419.5,191.6L420.0,192.4L420.5,192.9L421.0,192.8L421.5,192.7L422.0,192.9L422.5,193.0L423.0,193.0L423.5,193.7L424.0,193.6L424.5,193.9L425.0,194.6L425.5,193.8L426.0,194.4L426.5,194.3L427.0,194.9L427.5,194.4L428.0,195.1L428.5,195.0L429.0,195.3L429.5,195.7L430.0,195.5L430.5,195.2L431.0,196.0L431.5,195.8L432.0,195.7L432.5,195.4L433.0,196.1L433.5,196.2L434.0,197.0L434.5,196.2L435.0,196.4L435.5,196.8L436.0,197.4L436.5,196.8L437.0,196.9L437.5,197.3L438.0,197.4L438.5,197.3L439.0,197.3L439.5,197.9L440.0,197.7L440.5,198.4L441.0,197.8L441.5,198.4L442.0,198.2L442.5,198.7L443.0,198.5L443.5,198.9L444.0,198.6L444.5,199.0L445.0,198.2L445.5,199.1L446.0,198.7L446.5,198.2L447.0,198.8L447.5,199.8L448.0,199.0L448.5,199.2L449.0,199.4L449.5,199.6L450.0,199.6L450.5,199.8L451.0,200.0L451.5,200.2L452.0,200.0L452.5,199.7L453.0,200.1L453.5,200.1L454.0,199.9L454.5,200.0L455.0,199.9L455.5,200.3L456.0,200.0L456.5,200.4L457.0,200.3L457.5,200.0L458.0,200.3L458.5,200.4L459.0,200.0L459.5,200.3L460.0,200.2L460.5,200.5L461.0,200.3L461.5,200.8L462.0,200.5L462.5,200.1L463.0,201.5L463.5,200.8L464.0,200.7L464.5,200.7L465.0,201.4L465.5,201.4L466.0,201.1L466.5,201.5L467.0,201.3L467.5,201.1L468.0,201.5L468.5,201.2L469.0,201.6L469.5,200.9L470.0,201.5L470.5,201.4L471.0,201.5L471.5,201.8L472.0,201.2" stroke="#111" stroke-width="1.2" fill="none" stroke-linejoin="round"/><path d="M340.2,212.7L340.7,211.8L341.2,212.4L341.7,213.0L342.2,212.0L342.7,212.3L343.2,212.6L343.7,212.6L344.2,212.3L344.7,212.9L345.2,212.6L345.7,214.0L346.2,212.5L346.7,213.2L347.2,212.1L347.7,212.8L348.2,212.2L348.7,212.5L349.2,213.0L349.7,213.0L350.2,213.1L350.7,213.2L351.2,212.7L351.7,213.0L352.2,213.0L352.7,213.2L353.2,213.1L353.7,212.5L354.2,213.3L354.7,213.5L355.2,213.6L355.7,213.0L356.2,214.0L356.7,213.1L357.2,214.1L357.7,213.3L358.2,213.8L358.7,213.7L359.2,213.6L359.7,213.2L360.2,213.3L360.7,214.3L361.2,213.8L361.7,214.5L362.2,213.8L362.7,213.7L363.2,213.8L363.7,214.2L364.2,213.7L364.7,213.4L365.2,214.7L365.7,214.0L366.2,213.3L366.7,213.9L367.2,213.1L367.7,214.1L368.2,213.5L368.7,213.8L369.2,213.9L369.7,213.2L370.2,213.2L370.7,213.7L371.2,213.0L371.7,213.4L372.2,213.0L372.7,212.8L373.2,212.2L373.7,212.0L374.2,211.8L374.7,210.7L375.2,211.2L375.7,209.8L376.2,209.0L376.7,208.6L377.2,208.1L377.7,207.4L378.2,207.4L378.7,206.0L379.2,206.2L379.7,204.8L380.2,203.8L380.7,203.9L381.2,202.4L381.7,202.2L382.2,200.7L382.7,200.3L383.2,198.4L383.7,197.9L384.2,197.0L384.7,195.3L385.2,195.2L385.7,194.8L386.2,194.8L386.7,194.4L387.2,194.5L387.7,194.4L388.2,194.3L388.7,194.8L389.2,194.5L389.7,194.9L390.2,196.4L390.7,195.7L391.2,195.4L391.7,195.7L392.2,196.1L392.7,195.9L393.2,195.6L393.7,197.2L394.2,196.2L394.7,197.0L395.2,197.6L395.7,196.9L396.2,198.1L396.7,198.0L397.2,198.1L397.7,198.4L398.2,198.6L398.7,199.1L399.2,198.4L399.7,199.1L400.2,199.3L400.7,199.7L401.2,200.0L401.7,200.0L402.2,200.3L402.7,200.8L403.2,200.7L403.7,200.4L404.2,201.6L404.7,201.4L405.2,201.2L405.7,201.8L406.2,202.0L406.7,202.4L407.2,202.2L407.7,202.4L408.2,203.5L408.7,203.1L409.2,203.4L409.7,203.7L410.2,203.6L410.7,204.3L411.2,204.1L411.7,203.9L412.2,204.8L412.7,205.0L413.2,204.9L413.7,204.8L414.2,205.5L414.7,205.7L415.2,205.5L415.7,206.0L416.2,206.9L416.7,207.0L417.2,206.5L417.7,207.4L418.2,207.6L418.7,207.1L419.2,206.8L419.7,207.9L420.2,207.4L420.7,207.2L421.2,207.9L421.7,207.0L422.2,207.7L422.7,208.2L423.2,208.0L423.7,208.2L424.2,208.0L424.7,207.7L425.2,207.6L425.7,207.8L426.2,208.4L426.7,207.9L427.2,207.5L427.7,208.1L428.2,208.3L428.7,208.5L429.2,208.3L429.7,208.1L430.2,208.4L430.7,208.4L431.2,208.1L431.7,208.7L432.2,208.6L432.7,208.4L433.2,208.7L433.7,209.3L434.2,209.4L434.7,208.7L435.2,209.0L435.7,209.2L436.2,209.7L436.7,209.5L437.2,209.4L437.7,209.6L438.2,209.7L438.7,210.0L439.2,210.1L439.7,210.6L440.2,210.6L440.7,210.8L441.2,210.3L441.7,211.1L442.2,210.9L442.7,210.0L443.2,210.4L443.7,211.0L444.2,210.9L444.7,211.2L445.2,211.3L445.7,211.3L446.2,211.4L446.7,211.5L447.2,211.6L447.7,211.9L448.2,212.6L448.7,211.8L449.2,212.3L449.7,212.0L450.2,212.3L450.7,212.6L451.2,212.6L451.7,212.3L452.2,212.3L452.7,212.7L453.2,212.2L453.7,212.3L454.2,212.9L454.7,213.0L455.2,212.5L455.7,213.0L456.2,213.1L456.7,212.5L457.2,213.1L457.7,212.8L458.2,213.0L458.7,212.4L459.2,213.2L459.7,213.4L460.2,213.3L460.7,213.5L461.2,213.2L461.7,212.7L462.2,213.4L462.7,213.7L463.2,213.3L463.7,213.0L464.2,213.6L464.7,213.4L465.2,213.4L465.7,213.3L466.2,212.8L466.7,213.3L467.2,213.1L467.7,212.9L468.2,213.9L468.7,213.7L469.2,213.4L469.7,213.4L470.2,213.3L470.7,213.3L471.2,213.0L471.7,213.2" stroke="#111" stroke-width="1.2" fill="none" stroke-linejoin="round"/><rect x="339.3" y="17.55" width="133.7" height="195.64999999999998" fill="none" stroke="#262626" stroke-width="1.35"/><text x="339.3" y="224.2" font-size="8.3" text-anchor="middle" fill="#1a1a1a" stroke="#1a1a1a" stroke-width="0.1">0.55</text><text x="364.0" y="224.2" font-size="8.3" text-anchor="middle" fill="#1a1a1a" stroke="#1a1a1a" stroke-width="0.1">0.60</text><text x="388.7" y="224.2" font-size="8.3" text-anchor="middle" fill="#1a1a1a" stroke="#1a1a1a" stroke-width="0.1">0.65</text><text x="413.4" y="224.2" font-size="8.3" text-anchor="middle" fill="#1a1a1a" stroke="#1a1a1a" stroke-width="0.1">0.70</text><text x="438.1" y="224.2" font-size="8.3" text-anchor="middle" fill="#1a1a1a" stroke="#1a1a1a" stroke-width="0.1">0.75</text><text x="462.8" y="224.2" font-size="8.3" text-anchor="middle" fill="#1a1a1a" stroke="#1a1a1a" stroke-width="0.1">0.80</text><text x="340.0" y="38.4" font-size="8.2" letter-spacing="-0.2" fill="#1a1a1a" stroke="#1a1a1a" stroke-width="0.05">15 K</text><text x="340.0" y="50.7" font-size="8.2" letter-spacing="-0.2" fill="#1a1a1a" stroke="#1a1a1a" stroke-width="0.05">30 K</text><text x="340.0" y="63.1" font-size="8.2" letter-spacing="-0.2" fill="#1a1a1a" stroke="#1a1a1a" stroke-width="0.05">50 K</text><text x="340.0" y="75.4" font-size="8.2" letter-spacing="-0.2" fill="#1a1a1a" stroke="#1a1a1a" stroke-width="0.05">70 K</text><text x="340.0" y="87.7" font-size="8.2" letter-spacing="-0.2" fill="#1a1a1a" stroke="#1a1a1a" stroke-width="0.05">90 K</text><text x="340.0" y="100.0" font-size="8.2" letter-spacing="-0.2" fill="#1a1a1a" stroke="#1a1a1a" stroke-width="0.05">110 K</text><text x="340.0" y="112.4" font-size="8.2" letter-spacing="-0.2" fill="#1a1a1a" stroke="#1a1a1a" stroke-width="0.05">130 K</text><text x="340.0" y="124.7" font-size="8.2" letter-spacing="-0.2" fill="#1a1a1a" stroke="#1a1a1a" stroke-width="0.05">150 K</text><text x="340.0" y="137.0" font-size="8.2" letter-spacing="-0.2" fill="#1a1a1a" stroke="#1a1a1a" stroke-width="0.05">170 K</text><text x="340.0" y="149.4" font-size="8.2" letter-spacing="-0.2" fill="#1a1a1a" stroke="#1a1a1a" stroke-width="0.05">190 K</text><text x="340.0" y="161.7" font-size="8.2" letter-spacing="-0.2" fill="#1a1a1a" stroke="#1a1a1a" stroke-width="0.05">210 K</text><text x="340.0" y="174.0" font-size="8.2" letter-spacing="-0.2" fill="#1a1a1a" stroke="#1a1a1a" stroke-width="0.05">230 K</text><text x="340.0" y="186.4" font-size="8.2" letter-spacing="-0.2" fill="#1a1a1a" stroke="#1a1a1a" stroke-width="0.05">250 K</text><text x="340.0" y="198.7" font-size="8.2" letter-spacing="-0.2" fill="#1a1a1a" stroke="#1a1a1a" stroke-width="0.05">270 K</text><text x="340.0" y="211.0" font-size="8.2" letter-spacing="-0.2" fill="#1a1a1a" stroke="#1a1a1a" stroke-width="0.05">290 K</text><text x="0.4" y="25" font-size="11.3" fill="#1a1a1a" stroke="#1a1a1a" stroke-width="0.12">(a)</text><text x="159.3" y="26.8" font-size="11.3" fill="#1a1a1a" stroke="#1a1a1a" stroke-width="0.12">(b)</text><text x="317.3" y="26.3" font-size="11.3" fill="#1a1a1a" stroke="#1a1a1a" stroke-width="0.12">(c)</text><text x="88.5" y="238.5" font-size="9.8" text-anchor="middle" fill="#1a1a1a" stroke="#1a1a1a" stroke-width="0.12">Energy (eV)</text><text x="248.5" y="238.5" font-size="9.8" text-anchor="middle" fill="#1a1a1a" stroke="#1a1a1a" stroke-width="0.12">Energy (eV)</text><text x="405.7" y="239" font-size="9.8" text-anchor="middle" fill="#1a1a1a" stroke="#1a1a1a" stroke-width="0.12">Energy (eV)</text><text transform="translate(8.6,121.9) rotate(-90)" font-size="9.9" text-anchor="middle" fill="#1a1a1a" stroke="#1a1a1a" stroke-width="0.12">Normalized PL intensity</text><text transform="translate(168.6,121.6) rotate(-90)" font-size="9.8" text-anchor="middle" fill="#1a1a1a" stroke="#1a1a1a" stroke-width="0.12">Normalized PL intensity</text><text transform="translate(328.7,121.6) rotate(-90)" font-size="9.8" text-anchor="middle" fill="#1a1a1a" stroke="#1a1a1a" stroke-width="0.12">Normalized PL intensity</text><text x="47.5" y="10.7" font-size="11" fill="#1a1a1a" stroke="#1a1a1a" stroke-width="0.12">GaSb<tspan font-size="7.1" dy="4.3" stroke-width="0.1">0.984</tspan><tspan dy="-4.3" stroke-width="0.25">Bi</tspan><tspan font-size="7.1" dy="4.3" stroke-width="0.1">0.016</tspan></text><text x="192.8" y="10.6" font-size="11" fill="#1a1a1a" stroke="#1a1a1a" stroke-width="0.12">Ga<tspan font-size="7.1" dy="4.3" stroke-width="0.1">0.967</tspan><tspan dy="-4.3" stroke-width="0.25">In</tspan><tspan font-size="7.1" dy="4.3" stroke-width="0.1">0.033</tspan><tspan dy="-4.3" stroke-width="0.25">Sb</tspan><tspan font-size="7.1" dy="4.3" stroke-width="0.1">0.982</tspan><tspan dy="-4.3" stroke-width="0.25">Bi</tspan><tspan font-size="7.1" dy="4.3" stroke-width="0.1">0.018</tspan></text><text x="348.8" y="10.6" font-size="11" fill="#1a1a1a" stroke="#1a1a1a" stroke-width="0.12">Ga<tspan font-size="7.1" dy="4.3" stroke-width="0.1">0.945</tspan><tspan dy="-4.3" stroke-width="0.25">In</tspan><tspan font-size="7.1" dy="4.3" stroke-width="0.1">0.055</tspan><tspan dy="-4.3" stroke-width="0.25">Sb</tspan><tspan font-size="7.1" dy="4.3" stroke-width="0.1">0.987</tspan><tspan dy="-4.3" stroke-width="0.25">Bi</tspan><tspan font-size="7.1" dy="4.3" stroke-width="0.1">0.013</tspan></text><text x="53.3" y="27.6" font-size="8.4" fill="#1a1a1a" stroke="#1a1a1a" stroke-width="0.12">LE</text><text x="116.3" y="82.2" font-size="8.6" fill="#1a1a1a" stroke="#1a1a1a" stroke-width="0.12">HE</text><text x="233.8" y="29.1" font-size="8.4" fill="#1a1a1a" stroke="#1a1a1a" stroke-width="0.12">LE</text><text x="274.4" y="27.7" font-size="8.6" fill="#1a1a1a" stroke="#1a1a1a" stroke-width="0.12">HE</text><text x="293.7" y="29.8" font-size="7.1" fill="#333">GaSb</text><text x="390" y="28.0" font-size="8.4" fill="#1a1a1a" stroke="#1a1a1a" stroke-width="0.12">LE</text><text x="424.6" y="28.0" font-size="8.6" fill="#1a1a1a" stroke="#1a1a1a" stroke-width="0.12">HE</text><text x="446.9" y="30.2" font-size="7.2" fill="#333">GaSb</text></svg>
</body></html>
